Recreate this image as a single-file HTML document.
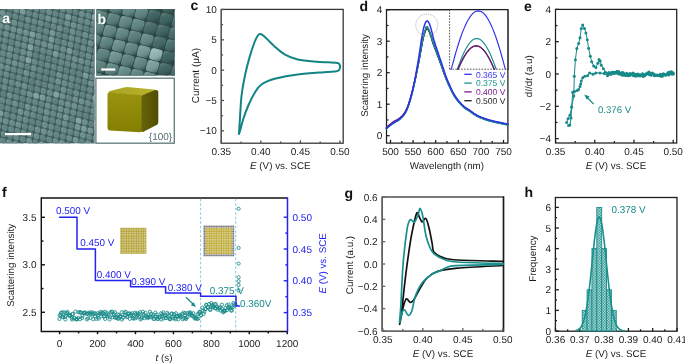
<!DOCTYPE html>
<html><head><meta charset="utf-8"><style>
html,body{margin:0;padding:0;background:#fff;width:685px;height:363px;overflow:hidden}
svg{display:block;text-rendering:geometricPrecision;will-change:transform}
text{font-family:"Liberation Sans", sans-serif}
</style></head><body>
<svg width="685" height="363" viewBox="0 0 685 363">
<rect width="685" height="363" fill="#fff"/>
<defs>
<linearGradient id="gTop" x1="0" y1="0" x2="1" y2="0"><stop offset="0" stop-color="#aaa322"/><stop offset="1" stop-color="#bab32c"/></linearGradient>
<linearGradient id="gFront" x1="0" y1="0" x2="0" y2="1"><stop offset="0" stop-color="#999310"/><stop offset="1" stop-color="#847f00"/></linearGradient>
<linearGradient id="gRight" x1="0" y1="0" x2="1" y2="0"><stop offset="0" stop-color="#68640a"/><stop offset="1" stop-color="#504d00"/></linearGradient>
<pattern id="hatch" width="1.6" height="1.6" patternUnits="userSpaceOnUse">
<rect width="1.6" height="1.6" fill="#1a8c8a"/>
<rect x="0" y="0" width="0.8" height="0.8" fill="#d2ecea"/>
<rect x="0.8" y="0.8" width="0.8" height="0.8" fill="#d2ecea"/>
</pattern>
<pattern id="gold" width="2.47" height="2.47" patternUnits="userSpaceOnUse" x="120.2" y="227.7">
<rect width="2.47" height="2.47" fill="#fbf8e8"/>
<circle cx="1.235" cy="1.235" r="1.18" fill="#a89628"/>
<circle cx="1.235" cy="1.235" r="0.7" fill="#c2ae3a"/>
</pattern>
<pattern id="gold2" width="2.42" height="2.42" patternUnits="userSpaceOnUse" x="203.3" y="225.4">
<rect width="2.42" height="2.42" fill="#fbf8e8"/>
<circle cx="1.21" cy="1.21" r="1.15" fill="#b4a02c"/>
<circle cx="1.21" cy="1.21" r="0.7" fill="#cdb83c"/>
</pattern>
<pattern id="grey2" width="2.42" height="2.42" patternUnits="userSpaceOnUse" x="203.3" y="225.4">
<rect width="2.42" height="2.42" fill="#f0f0f0"/>
<circle cx="1.21" cy="1.21" r="1.1" fill="#78787f"/>
</pattern>
<clipPath id="clipA"><rect x="0" y="9" width="94.7" height="134.5"/></clipPath>
<clipPath id="clipB"><rect x="96.2" y="9.1" width="78.6" height="66.6"/></clipPath>
<clipPath id="clipG"><rect x="0" y="0" width="512.5" height="363"/></clipPath>
<linearGradient id="tileShade" x1="0" y1="0" x2="1" y2="1"><stop offset="0" stop-color="#fff" stop-opacity="0.16"/><stop offset="0.5" stop-color="#fff" stop-opacity="0"/><stop offset="1" stop-color="#000" stop-opacity="0.18"/></linearGradient>
<linearGradient id="tileShadeB" x1="0" y1="0" x2="0.8" y2="1"><stop offset="0" stop-color="#fff" stop-opacity="0.22"/><stop offset="0.35" stop-color="#fff" stop-opacity="0.04"/><stop offset="0.75" stop-color="#000" stop-opacity="0.06"/><stop offset="1" stop-color="#000" stop-opacity="0.3"/></linearGradient>
<filter id="soft" x="-5%" y="-5%" width="110%" height="110%"><feGaussianBlur stdDeviation="0.45"/></filter>
</defs>
<g clip-path="url(#clipA)">
<rect x="0" y="9" width="94.7" height="134.5" fill="#3f5b5a"/>
<g filter="url(#soft)"><g transform="matrix(6.35 1.7 -1.0 6.45 0 9)">
<rect x="-2.94" y="-1.94" width="0.88" height="0.88" rx="0.3" fill="#648886"/>
<rect x="-2.94" y="-1.94" width="0.88" height="0.88" rx="0.3" fill="url(#tileShade)"/>
<rect x="-2.94" y="-0.94" width="0.88" height="0.88" rx="0.3" fill="#678b89"/>
<rect x="-2.94" y="-0.94" width="0.88" height="0.88" rx="0.3" fill="url(#tileShade)"/>
<rect x="-2.94" y="0.06" width="0.88" height="0.88" rx="0.3" fill="#668a88"/>
<rect x="-2.94" y="0.06" width="0.88" height="0.88" rx="0.3" fill="url(#tileShade)"/>
<rect x="-1.94" y="-1.94" width="0.88" height="0.88" rx="0.3" fill="#597d7b"/>
<rect x="-1.94" y="-1.94" width="0.88" height="0.88" rx="0.3" fill="url(#tileShade)"/>
<rect x="-1.94" y="-0.94" width="0.88" height="0.88" rx="0.3" fill="#698d8b"/>
<rect x="-1.94" y="-0.94" width="0.88" height="0.88" rx="0.3" fill="url(#tileShade)"/>
<rect x="-1.94" y="0.06" width="0.88" height="0.88" rx="0.3" fill="#698d8b"/>
<rect x="-1.94" y="0.06" width="0.88" height="0.88" rx="0.3" fill="url(#tileShade)"/>
<rect x="-1.94" y="1.06" width="0.88" height="0.88" rx="0.3" fill="#618583"/>
<rect x="-1.94" y="1.06" width="0.88" height="0.88" rx="0.3" fill="url(#tileShade)"/>
<rect x="-1.94" y="2.06" width="0.88" height="0.88" rx="0.3" fill="#628684"/>
<rect x="-1.94" y="2.06" width="0.88" height="0.88" rx="0.3" fill="url(#tileShade)"/>
<rect x="-1.94" y="3.06" width="0.88" height="0.88" rx="0.3" fill="#597d7b"/>
<rect x="-1.94" y="3.06" width="0.88" height="0.88" rx="0.3" fill="url(#tileShade)"/>
<rect x="-1.94" y="4.06" width="0.88" height="0.88" rx="0.3" fill="#5e8280"/>
<rect x="-1.94" y="4.06" width="0.88" height="0.88" rx="0.3" fill="url(#tileShade)"/>
<rect x="-1.94" y="5.06" width="0.88" height="0.88" rx="0.3" fill="#668a88"/>
<rect x="-1.94" y="5.06" width="0.88" height="0.88" rx="0.3" fill="url(#tileShade)"/>
<rect x="-1.94" y="6.06" width="0.88" height="0.88" rx="0.3" fill="#678b89"/>
<rect x="-1.94" y="6.06" width="0.88" height="0.88" rx="0.3" fill="url(#tileShade)"/>
<rect x="-1.94" y="7.06" width="0.88" height="0.88" rx="0.3" fill="#648886"/>
<rect x="-1.94" y="7.06" width="0.88" height="0.88" rx="0.3" fill="url(#tileShade)"/>
<rect x="-0.94" y="-1.94" width="0.88" height="0.88" rx="0.3" fill="#597d7b"/>
<rect x="-0.94" y="-1.94" width="0.88" height="0.88" rx="0.3" fill="url(#tileShade)"/>
<rect x="-0.94" y="-0.94" width="0.88" height="0.88" rx="0.3" fill="#5c807e"/>
<rect x="-0.94" y="-0.94" width="0.88" height="0.88" rx="0.3" fill="url(#tileShade)"/>
<rect x="-0.94" y="0.06" width="0.88" height="0.88" rx="0.3" fill="#6a8e8c"/>
<rect x="-0.94" y="0.06" width="0.88" height="0.88" rx="0.3" fill="url(#tileShade)"/>
<rect x="-0.94" y="1.06" width="0.88" height="0.88" rx="0.3" fill="#5e8280"/>
<rect x="-0.94" y="1.06" width="0.88" height="0.88" rx="0.3" fill="url(#tileShade)"/>
<rect x="-0.94" y="2.06" width="0.88" height="0.88" rx="0.3" fill="#628684"/>
<rect x="-0.94" y="2.06" width="0.88" height="0.88" rx="0.3" fill="url(#tileShade)"/>
<rect x="-0.94" y="3.06" width="0.88" height="0.88" rx="0.3" fill="#5c807e"/>
<rect x="-0.94" y="3.06" width="0.88" height="0.88" rx="0.3" fill="url(#tileShade)"/>
<rect x="-0.94" y="4.06" width="0.88" height="0.88" rx="0.3" fill="#658987"/>
<rect x="-0.94" y="4.06" width="0.88" height="0.88" rx="0.3" fill="url(#tileShade)"/>
<rect x="-0.94" y="5.06" width="0.88" height="0.88" rx="0.3" fill="#698d8b"/>
<rect x="-0.94" y="5.06" width="0.88" height="0.88" rx="0.3" fill="url(#tileShade)"/>
<rect x="-0.94" y="6.06" width="0.88" height="0.88" rx="0.3" fill="#5f8381"/>
<rect x="-0.94" y="6.06" width="0.88" height="0.88" rx="0.3" fill="url(#tileShade)"/>
<rect x="-0.94" y="7.06" width="0.88" height="0.88" rx="0.3" fill="#6c908e"/>
<rect x="-0.94" y="7.06" width="0.88" height="0.88" rx="0.3" fill="url(#tileShade)"/>
<rect x="-0.94" y="8.06" width="0.88" height="0.88" rx="0.3" fill="#7a9e9c"/>
<rect x="-0.94" y="8.06" width="0.88" height="0.88" rx="0.3" fill="url(#tileShade)"/>
<rect x="-0.94" y="9.06" width="0.88" height="0.88" rx="0.3" fill="#5f8381"/>
<rect x="-0.94" y="9.06" width="0.88" height="0.88" rx="0.3" fill="url(#tileShade)"/>
<rect x="-0.94" y="10.06" width="0.88" height="0.88" rx="0.3" fill="#678b89"/>
<rect x="-0.94" y="10.06" width="0.88" height="0.88" rx="0.3" fill="url(#tileShade)"/>
<rect x="-0.94" y="11.06" width="0.88" height="0.88" rx="0.3" fill="#5e8280"/>
<rect x="-0.94" y="11.06" width="0.88" height="0.88" rx="0.3" fill="url(#tileShade)"/>
<rect x="-0.94" y="12.06" width="0.88" height="0.88" rx="0.3" fill="#81a5a3"/>
<rect x="-0.94" y="12.06" width="0.88" height="0.88" rx="0.3" fill="url(#tileShade)"/>
<rect x="-0.94" y="13.06" width="0.88" height="0.88" rx="0.3" fill="#597d7b"/>
<rect x="-0.94" y="13.06" width="0.88" height="0.88" rx="0.3" fill="url(#tileShade)"/>
<rect x="0.06" y="-2.94" width="0.88" height="0.88" rx="0.3" fill="#80a4a2"/>
<rect x="0.06" y="-2.94" width="0.88" height="0.88" rx="0.3" fill="url(#tileShade)"/>
<rect x="0.06" y="-1.94" width="0.88" height="0.88" rx="0.3" fill="#5f8381"/>
<rect x="0.06" y="-1.94" width="0.88" height="0.88" rx="0.3" fill="url(#tileShade)"/>
<rect x="0.06" y="-0.94" width="0.88" height="0.88" rx="0.3" fill="#688c8a"/>
<rect x="0.06" y="-0.94" width="0.88" height="0.88" rx="0.3" fill="url(#tileShade)"/>
<rect x="0.06" y="0.06" width="0.88" height="0.88" rx="0.3" fill="#6a8e8c"/>
<rect x="0.06" y="0.06" width="0.88" height="0.88" rx="0.3" fill="url(#tileShade)"/>
<rect x="0.06" y="1.06" width="0.88" height="0.88" rx="0.3" fill="#668a88"/>
<rect x="0.06" y="1.06" width="0.88" height="0.88" rx="0.3" fill="url(#tileShade)"/>
<rect x="0.06" y="2.06" width="0.88" height="0.88" rx="0.3" fill="#698d8b"/>
<rect x="0.06" y="2.06" width="0.88" height="0.88" rx="0.3" fill="url(#tileShade)"/>
<rect x="0.06" y="3.06" width="0.88" height="0.88" rx="0.3" fill="#5f8381"/>
<rect x="0.06" y="3.06" width="0.88" height="0.88" rx="0.3" fill="url(#tileShade)"/>
<rect x="0.06" y="4.06" width="0.88" height="0.88" rx="0.3" fill="#668a88"/>
<rect x="0.06" y="4.06" width="0.88" height="0.88" rx="0.3" fill="url(#tileShade)"/>
<rect x="0.06" y="5.06" width="0.88" height="0.88" rx="0.3" fill="#668a88"/>
<rect x="0.06" y="5.06" width="0.88" height="0.88" rx="0.3" fill="url(#tileShade)"/>
<rect x="0.06" y="6.06" width="0.88" height="0.88" rx="0.3" fill="#83a7a5"/>
<rect x="0.06" y="6.06" width="0.88" height="0.88" rx="0.3" fill="url(#tileShade)"/>
<rect x="0.06" y="7.06" width="0.88" height="0.88" rx="0.3" fill="#5a7e7c"/>
<rect x="0.06" y="7.06" width="0.88" height="0.88" rx="0.3" fill="url(#tileShade)"/>
<rect x="0.06" y="8.06" width="0.88" height="0.88" rx="0.3" fill="#638785"/>
<rect x="0.06" y="8.06" width="0.88" height="0.88" rx="0.3" fill="url(#tileShade)"/>
<rect x="0.06" y="9.06" width="0.88" height="0.88" rx="0.3" fill="#5f8381"/>
<rect x="0.06" y="9.06" width="0.88" height="0.88" rx="0.3" fill="url(#tileShade)"/>
<rect x="0.06" y="10.06" width="0.88" height="0.88" rx="0.3" fill="#628684"/>
<rect x="0.06" y="10.06" width="0.88" height="0.88" rx="0.3" fill="url(#tileShade)"/>
<rect x="0.06" y="11.06" width="0.88" height="0.88" rx="0.3" fill="#5e8280"/>
<rect x="0.06" y="11.06" width="0.88" height="0.88" rx="0.3" fill="url(#tileShade)"/>
<rect x="0.06" y="12.06" width="0.88" height="0.88" rx="0.3" fill="#5a7e7c"/>
<rect x="0.06" y="12.06" width="0.88" height="0.88" rx="0.3" fill="url(#tileShade)"/>
<rect x="0.06" y="13.06" width="0.88" height="0.88" rx="0.3" fill="#658987"/>
<rect x="0.06" y="13.06" width="0.88" height="0.88" rx="0.3" fill="url(#tileShade)"/>
<rect x="0.06" y="14.06" width="0.88" height="0.88" rx="0.3" fill="#779b99"/>
<rect x="0.06" y="14.06" width="0.88" height="0.88" rx="0.3" fill="url(#tileShade)"/>
<rect x="0.06" y="15.06" width="0.88" height="0.88" rx="0.3" fill="#628684"/>
<rect x="0.06" y="15.06" width="0.88" height="0.88" rx="0.3" fill="url(#tileShade)"/>
<rect x="0.06" y="16.06" width="0.88" height="0.88" rx="0.3" fill="#5d817f"/>
<rect x="0.06" y="16.06" width="0.88" height="0.88" rx="0.3" fill="url(#tileShade)"/>
<rect x="0.06" y="17.06" width="0.88" height="0.88" rx="0.3" fill="#678b89"/>
<rect x="0.06" y="17.06" width="0.88" height="0.88" rx="0.3" fill="url(#tileShade)"/>
<rect x="0.06" y="18.06" width="0.88" height="0.88" rx="0.3" fill="#7b9f9d"/>
<rect x="0.06" y="18.06" width="0.88" height="0.88" rx="0.3" fill="url(#tileShade)"/>
<rect x="0.06" y="19.06" width="0.88" height="0.88" rx="0.3" fill="#597d7b"/>
<rect x="0.06" y="19.06" width="0.88" height="0.88" rx="0.3" fill="url(#tileShade)"/>
<rect x="0.06" y="20.06" width="0.88" height="0.88" rx="0.3" fill="#688c8a"/>
<rect x="0.06" y="20.06" width="0.88" height="0.88" rx="0.3" fill="url(#tileShade)"/>
<rect x="1.06" y="-2.94" width="0.88" height="0.88" rx="0.3" fill="#668a88"/>
<rect x="1.06" y="-2.94" width="0.88" height="0.88" rx="0.3" fill="url(#tileShade)"/>
<rect x="1.06" y="-1.94" width="0.88" height="0.88" rx="0.3" fill="#648886"/>
<rect x="1.06" y="-1.94" width="0.88" height="0.88" rx="0.3" fill="url(#tileShade)"/>
<rect x="1.06" y="-0.94" width="0.88" height="0.88" rx="0.3" fill="#5a7e7c"/>
<rect x="1.06" y="-0.94" width="0.88" height="0.88" rx="0.3" fill="url(#tileShade)"/>
<rect x="1.06" y="0.06" width="0.88" height="0.88" rx="0.3" fill="#5b7f7d"/>
<rect x="1.06" y="0.06" width="0.88" height="0.88" rx="0.3" fill="url(#tileShade)"/>
<rect x="1.06" y="1.06" width="0.88" height="0.88" rx="0.3" fill="#5e8280"/>
<rect x="1.06" y="1.06" width="0.88" height="0.88" rx="0.3" fill="url(#tileShade)"/>
<rect x="1.06" y="2.06" width="0.88" height="0.88" rx="0.3" fill="#6a8e8c"/>
<rect x="1.06" y="2.06" width="0.88" height="0.88" rx="0.3" fill="url(#tileShade)"/>
<rect x="1.06" y="3.06" width="0.88" height="0.88" rx="0.3" fill="#6a8e8c"/>
<rect x="1.06" y="3.06" width="0.88" height="0.88" rx="0.3" fill="url(#tileShade)"/>
<rect x="1.06" y="4.06" width="0.88" height="0.88" rx="0.3" fill="#618583"/>
<rect x="1.06" y="4.06" width="0.88" height="0.88" rx="0.3" fill="url(#tileShade)"/>
<rect x="1.06" y="5.06" width="0.88" height="0.88" rx="0.3" fill="#618583"/>
<rect x="1.06" y="5.06" width="0.88" height="0.88" rx="0.3" fill="url(#tileShade)"/>
<rect x="1.06" y="6.06" width="0.88" height="0.88" rx="0.3" fill="#608482"/>
<rect x="1.06" y="6.06" width="0.88" height="0.88" rx="0.3" fill="url(#tileShade)"/>
<rect x="1.06" y="7.06" width="0.88" height="0.88" rx="0.3" fill="#5f8381"/>
<rect x="1.06" y="7.06" width="0.88" height="0.88" rx="0.3" fill="url(#tileShade)"/>
<rect x="1.06" y="8.06" width="0.88" height="0.88" rx="0.3" fill="#6a8e8c"/>
<rect x="1.06" y="8.06" width="0.88" height="0.88" rx="0.3" fill="url(#tileShade)"/>
<rect x="1.06" y="9.06" width="0.88" height="0.88" rx="0.3" fill="#618583"/>
<rect x="1.06" y="9.06" width="0.88" height="0.88" rx="0.3" fill="url(#tileShade)"/>
<rect x="1.06" y="10.06" width="0.88" height="0.88" rx="0.3" fill="#5a7e7c"/>
<rect x="1.06" y="10.06" width="0.88" height="0.88" rx="0.3" fill="url(#tileShade)"/>
<rect x="1.06" y="11.06" width="0.88" height="0.88" rx="0.3" fill="#678b89"/>
<rect x="1.06" y="11.06" width="0.88" height="0.88" rx="0.3" fill="url(#tileShade)"/>
<rect x="1.06" y="12.06" width="0.88" height="0.88" rx="0.3" fill="#5f8381"/>
<rect x="1.06" y="12.06" width="0.88" height="0.88" rx="0.3" fill="url(#tileShade)"/>
<rect x="1.06" y="13.06" width="0.88" height="0.88" rx="0.3" fill="#668a88"/>
<rect x="1.06" y="13.06" width="0.88" height="0.88" rx="0.3" fill="url(#tileShade)"/>
<rect x="1.06" y="14.06" width="0.88" height="0.88" rx="0.3" fill="#648886"/>
<rect x="1.06" y="14.06" width="0.88" height="0.88" rx="0.3" fill="url(#tileShade)"/>
<rect x="1.06" y="15.06" width="0.88" height="0.88" rx="0.3" fill="#5f8381"/>
<rect x="1.06" y="15.06" width="0.88" height="0.88" rx="0.3" fill="url(#tileShade)"/>
<rect x="1.06" y="16.06" width="0.88" height="0.88" rx="0.3" fill="#5e8280"/>
<rect x="1.06" y="16.06" width="0.88" height="0.88" rx="0.3" fill="url(#tileShade)"/>
<rect x="1.06" y="17.06" width="0.88" height="0.88" rx="0.3" fill="#668a88"/>
<rect x="1.06" y="17.06" width="0.88" height="0.88" rx="0.3" fill="url(#tileShade)"/>
<rect x="1.06" y="18.06" width="0.88" height="0.88" rx="0.3" fill="#5e8280"/>
<rect x="1.06" y="18.06" width="0.88" height="0.88" rx="0.3" fill="url(#tileShade)"/>
<rect x="1.06" y="19.06" width="0.88" height="0.88" rx="0.3" fill="#648886"/>
<rect x="1.06" y="19.06" width="0.88" height="0.88" rx="0.3" fill="url(#tileShade)"/>
<rect x="1.06" y="20.06" width="0.88" height="0.88" rx="0.3" fill="#597d7b"/>
<rect x="1.06" y="20.06" width="0.88" height="0.88" rx="0.3" fill="url(#tileShade)"/>
<rect x="1.06" y="21.06" width="0.88" height="0.88" rx="0.3" fill="#5d817f"/>
<rect x="1.06" y="21.06" width="0.88" height="0.88" rx="0.3" fill="url(#tileShade)"/>
<rect x="1.06" y="22.06" width="0.88" height="0.88" rx="0.3" fill="#618583"/>
<rect x="1.06" y="22.06" width="0.88" height="0.88" rx="0.3" fill="url(#tileShade)"/>
<rect x="2.06" y="-2.94" width="0.88" height="0.88" rx="0.3" fill="#648886"/>
<rect x="2.06" y="-2.94" width="0.88" height="0.88" rx="0.3" fill="url(#tileShade)"/>
<rect x="2.06" y="-1.94" width="0.88" height="0.88" rx="0.3" fill="#5f8381"/>
<rect x="2.06" y="-1.94" width="0.88" height="0.88" rx="0.3" fill="url(#tileShade)"/>
<rect x="2.06" y="-0.94" width="0.88" height="0.88" rx="0.3" fill="#668a88"/>
<rect x="2.06" y="-0.94" width="0.88" height="0.88" rx="0.3" fill="url(#tileShade)"/>
<rect x="2.06" y="0.06" width="0.88" height="0.88" rx="0.3" fill="#5f8381"/>
<rect x="2.06" y="0.06" width="0.88" height="0.88" rx="0.3" fill="url(#tileShade)"/>
<rect x="2.06" y="1.06" width="0.88" height="0.88" rx="0.3" fill="#688c8a"/>
<rect x="2.06" y="1.06" width="0.88" height="0.88" rx="0.3" fill="url(#tileShade)"/>
<rect x="2.06" y="2.06" width="0.88" height="0.88" rx="0.3" fill="#6a8e8c"/>
<rect x="2.06" y="2.06" width="0.88" height="0.88" rx="0.3" fill="url(#tileShade)"/>
<rect x="2.06" y="3.06" width="0.88" height="0.88" rx="0.3" fill="#628684"/>
<rect x="2.06" y="3.06" width="0.88" height="0.88" rx="0.3" fill="url(#tileShade)"/>
<rect x="2.06" y="4.06" width="0.88" height="0.88" rx="0.3" fill="#5b7f7d"/>
<rect x="2.06" y="4.06" width="0.88" height="0.88" rx="0.3" fill="url(#tileShade)"/>
<rect x="2.06" y="5.06" width="0.88" height="0.88" rx="0.3" fill="#698d8b"/>
<rect x="2.06" y="5.06" width="0.88" height="0.88" rx="0.3" fill="url(#tileShade)"/>
<rect x="2.06" y="6.06" width="0.88" height="0.88" rx="0.3" fill="#658987"/>
<rect x="2.06" y="6.06" width="0.88" height="0.88" rx="0.3" fill="url(#tileShade)"/>
<rect x="2.06" y="7.06" width="0.88" height="0.88" rx="0.3" fill="#668a88"/>
<rect x="2.06" y="7.06" width="0.88" height="0.88" rx="0.3" fill="url(#tileShade)"/>
<rect x="2.06" y="8.06" width="0.88" height="0.88" rx="0.3" fill="#678b89"/>
<rect x="2.06" y="8.06" width="0.88" height="0.88" rx="0.3" fill="url(#tileShade)"/>
<rect x="2.06" y="9.06" width="0.88" height="0.88" rx="0.3" fill="#648886"/>
<rect x="2.06" y="9.06" width="0.88" height="0.88" rx="0.3" fill="url(#tileShade)"/>
<rect x="2.06" y="10.06" width="0.88" height="0.88" rx="0.3" fill="#648886"/>
<rect x="2.06" y="10.06" width="0.88" height="0.88" rx="0.3" fill="url(#tileShade)"/>
<rect x="2.06" y="11.06" width="0.88" height="0.88" rx="0.3" fill="#648886"/>
<rect x="2.06" y="11.06" width="0.88" height="0.88" rx="0.3" fill="url(#tileShade)"/>
<rect x="2.06" y="12.06" width="0.88" height="0.88" rx="0.3" fill="#597d7b"/>
<rect x="2.06" y="12.06" width="0.88" height="0.88" rx="0.3" fill="url(#tileShade)"/>
<rect x="2.06" y="13.06" width="0.88" height="0.88" rx="0.3" fill="#608482"/>
<rect x="2.06" y="13.06" width="0.88" height="0.88" rx="0.3" fill="url(#tileShade)"/>
<rect x="2.06" y="14.06" width="0.88" height="0.88" rx="0.3" fill="#5c807e"/>
<rect x="2.06" y="14.06" width="0.88" height="0.88" rx="0.3" fill="url(#tileShade)"/>
<rect x="2.06" y="15.06" width="0.88" height="0.88" rx="0.3" fill="#779b99"/>
<rect x="2.06" y="15.06" width="0.88" height="0.88" rx="0.3" fill="url(#tileShade)"/>
<rect x="2.06" y="16.06" width="0.88" height="0.88" rx="0.3" fill="#6b8f8d"/>
<rect x="2.06" y="16.06" width="0.88" height="0.88" rx="0.3" fill="url(#tileShade)"/>
<rect x="2.06" y="17.06" width="0.88" height="0.88" rx="0.3" fill="#5e8280"/>
<rect x="2.06" y="17.06" width="0.88" height="0.88" rx="0.3" fill="url(#tileShade)"/>
<rect x="2.06" y="18.06" width="0.88" height="0.88" rx="0.3" fill="#6f9391"/>
<rect x="2.06" y="18.06" width="0.88" height="0.88" rx="0.3" fill="url(#tileShade)"/>
<rect x="2.06" y="19.06" width="0.88" height="0.88" rx="0.3" fill="#5f8381"/>
<rect x="2.06" y="19.06" width="0.88" height="0.88" rx="0.3" fill="url(#tileShade)"/>
<rect x="2.06" y="20.06" width="0.88" height="0.88" rx="0.3" fill="#638785"/>
<rect x="2.06" y="20.06" width="0.88" height="0.88" rx="0.3" fill="url(#tileShade)"/>
<rect x="2.06" y="21.06" width="0.88" height="0.88" rx="0.3" fill="#7b9f9d"/>
<rect x="2.06" y="21.06" width="0.88" height="0.88" rx="0.3" fill="url(#tileShade)"/>
<rect x="3.06" y="-2.94" width="0.88" height="0.88" rx="0.3" fill="#5e8280"/>
<rect x="3.06" y="-2.94" width="0.88" height="0.88" rx="0.3" fill="url(#tileShade)"/>
<rect x="3.06" y="-1.94" width="0.88" height="0.88" rx="0.3" fill="#5b7f7d"/>
<rect x="3.06" y="-1.94" width="0.88" height="0.88" rx="0.3" fill="url(#tileShade)"/>
<rect x="3.06" y="-0.94" width="0.88" height="0.88" rx="0.3" fill="#759997"/>
<rect x="3.06" y="-0.94" width="0.88" height="0.88" rx="0.3" fill="url(#tileShade)"/>
<rect x="3.06" y="0.06" width="0.88" height="0.88" rx="0.3" fill="#5a7e7c"/>
<rect x="3.06" y="0.06" width="0.88" height="0.88" rx="0.3" fill="url(#tileShade)"/>
<rect x="3.06" y="1.06" width="0.88" height="0.88" rx="0.3" fill="#5f8381"/>
<rect x="3.06" y="1.06" width="0.88" height="0.88" rx="0.3" fill="url(#tileShade)"/>
<rect x="3.06" y="2.06" width="0.88" height="0.88" rx="0.3" fill="#6a8e8c"/>
<rect x="3.06" y="2.06" width="0.88" height="0.88" rx="0.3" fill="url(#tileShade)"/>
<rect x="3.06" y="3.06" width="0.88" height="0.88" rx="0.3" fill="#608482"/>
<rect x="3.06" y="3.06" width="0.88" height="0.88" rx="0.3" fill="url(#tileShade)"/>
<rect x="3.06" y="4.06" width="0.88" height="0.88" rx="0.3" fill="#648886"/>
<rect x="3.06" y="4.06" width="0.88" height="0.88" rx="0.3" fill="url(#tileShade)"/>
<rect x="3.06" y="5.06" width="0.88" height="0.88" rx="0.3" fill="#5b7f7d"/>
<rect x="3.06" y="5.06" width="0.88" height="0.88" rx="0.3" fill="url(#tileShade)"/>
<rect x="3.06" y="6.06" width="0.88" height="0.88" rx="0.3" fill="#638785"/>
<rect x="3.06" y="6.06" width="0.88" height="0.88" rx="0.3" fill="url(#tileShade)"/>
<rect x="3.06" y="7.06" width="0.88" height="0.88" rx="0.3" fill="#6a8e8c"/>
<rect x="3.06" y="7.06" width="0.88" height="0.88" rx="0.3" fill="url(#tileShade)"/>
<rect x="3.06" y="8.06" width="0.88" height="0.88" rx="0.3" fill="#5f8381"/>
<rect x="3.06" y="8.06" width="0.88" height="0.88" rx="0.3" fill="url(#tileShade)"/>
<rect x="3.06" y="9.06" width="0.88" height="0.88" rx="0.3" fill="#597d7b"/>
<rect x="3.06" y="9.06" width="0.88" height="0.88" rx="0.3" fill="url(#tileShade)"/>
<rect x="3.06" y="10.06" width="0.88" height="0.88" rx="0.3" fill="#638785"/>
<rect x="3.06" y="10.06" width="0.88" height="0.88" rx="0.3" fill="url(#tileShade)"/>
<rect x="3.06" y="11.06" width="0.88" height="0.88" rx="0.3" fill="#5b7f7d"/>
<rect x="3.06" y="11.06" width="0.88" height="0.88" rx="0.3" fill="url(#tileShade)"/>
<rect x="3.06" y="12.06" width="0.88" height="0.88" rx="0.3" fill="#698d8b"/>
<rect x="3.06" y="12.06" width="0.88" height="0.88" rx="0.3" fill="url(#tileShade)"/>
<rect x="3.06" y="13.06" width="0.88" height="0.88" rx="0.3" fill="#608482"/>
<rect x="3.06" y="13.06" width="0.88" height="0.88" rx="0.3" fill="url(#tileShade)"/>
<rect x="3.06" y="14.06" width="0.88" height="0.88" rx="0.3" fill="#5e8280"/>
<rect x="3.06" y="14.06" width="0.88" height="0.88" rx="0.3" fill="url(#tileShade)"/>
<rect x="3.06" y="15.06" width="0.88" height="0.88" rx="0.3" fill="#5f8381"/>
<rect x="3.06" y="15.06" width="0.88" height="0.88" rx="0.3" fill="url(#tileShade)"/>
<rect x="3.06" y="16.06" width="0.88" height="0.88" rx="0.3" fill="#698d8b"/>
<rect x="3.06" y="16.06" width="0.88" height="0.88" rx="0.3" fill="url(#tileShade)"/>
<rect x="3.06" y="17.06" width="0.88" height="0.88" rx="0.3" fill="#5d817f"/>
<rect x="3.06" y="17.06" width="0.88" height="0.88" rx="0.3" fill="url(#tileShade)"/>
<rect x="3.06" y="18.06" width="0.88" height="0.88" rx="0.3" fill="#618583"/>
<rect x="3.06" y="18.06" width="0.88" height="0.88" rx="0.3" fill="url(#tileShade)"/>
<rect x="3.06" y="19.06" width="0.88" height="0.88" rx="0.3" fill="#5e8280"/>
<rect x="3.06" y="19.06" width="0.88" height="0.88" rx="0.3" fill="url(#tileShade)"/>
<rect x="3.06" y="20.06" width="0.88" height="0.88" rx="0.3" fill="#618583"/>
<rect x="3.06" y="20.06" width="0.88" height="0.88" rx="0.3" fill="url(#tileShade)"/>
<rect x="3.06" y="21.06" width="0.88" height="0.88" rx="0.3" fill="#618583"/>
<rect x="3.06" y="21.06" width="0.88" height="0.88" rx="0.3" fill="url(#tileShade)"/>
<rect x="4.06" y="-3.94" width="0.88" height="0.88" rx="0.3" fill="#648886"/>
<rect x="4.06" y="-3.94" width="0.88" height="0.88" rx="0.3" fill="url(#tileShade)"/>
<rect x="4.06" y="-2.94" width="0.88" height="0.88" rx="0.3" fill="#5e8280"/>
<rect x="4.06" y="-2.94" width="0.88" height="0.88" rx="0.3" fill="url(#tileShade)"/>
<rect x="4.06" y="-1.94" width="0.88" height="0.88" rx="0.3" fill="#7ca09e"/>
<rect x="4.06" y="-1.94" width="0.88" height="0.88" rx="0.3" fill="url(#tileShade)"/>
<rect x="4.06" y="-0.94" width="0.88" height="0.88" rx="0.3" fill="#5d817f"/>
<rect x="4.06" y="-0.94" width="0.88" height="0.88" rx="0.3" fill="url(#tileShade)"/>
<rect x="4.06" y="0.06" width="0.88" height="0.88" rx="0.3" fill="#678b89"/>
<rect x="4.06" y="0.06" width="0.88" height="0.88" rx="0.3" fill="url(#tileShade)"/>
<rect x="4.06" y="1.06" width="0.88" height="0.88" rx="0.3" fill="#5d817f"/>
<rect x="4.06" y="1.06" width="0.88" height="0.88" rx="0.3" fill="url(#tileShade)"/>
<rect x="4.06" y="2.06" width="0.88" height="0.88" rx="0.3" fill="#6a8e8c"/>
<rect x="4.06" y="2.06" width="0.88" height="0.88" rx="0.3" fill="url(#tileShade)"/>
<rect x="4.06" y="3.06" width="0.88" height="0.88" rx="0.3" fill="#638785"/>
<rect x="4.06" y="3.06" width="0.88" height="0.88" rx="0.3" fill="url(#tileShade)"/>
<rect x="4.06" y="4.06" width="0.88" height="0.88" rx="0.3" fill="#648886"/>
<rect x="4.06" y="4.06" width="0.88" height="0.88" rx="0.3" fill="url(#tileShade)"/>
<rect x="4.06" y="5.06" width="0.88" height="0.88" rx="0.3" fill="#668a88"/>
<rect x="4.06" y="5.06" width="0.88" height="0.88" rx="0.3" fill="url(#tileShade)"/>
<rect x="4.06" y="6.06" width="0.88" height="0.88" rx="0.3" fill="#668a88"/>
<rect x="4.06" y="6.06" width="0.88" height="0.88" rx="0.3" fill="url(#tileShade)"/>
<rect x="4.06" y="7.06" width="0.88" height="0.88" rx="0.3" fill="#628684"/>
<rect x="4.06" y="7.06" width="0.88" height="0.88" rx="0.3" fill="url(#tileShade)"/>
<rect x="4.06" y="8.06" width="0.88" height="0.88" rx="0.3" fill="#5e8280"/>
<rect x="4.06" y="8.06" width="0.88" height="0.88" rx="0.3" fill="url(#tileShade)"/>
<rect x="4.06" y="9.06" width="0.88" height="0.88" rx="0.3" fill="#618583"/>
<rect x="4.06" y="9.06" width="0.88" height="0.88" rx="0.3" fill="url(#tileShade)"/>
<rect x="4.06" y="10.06" width="0.88" height="0.88" rx="0.3" fill="#668a88"/>
<rect x="4.06" y="10.06" width="0.88" height="0.88" rx="0.3" fill="url(#tileShade)"/>
<rect x="4.06" y="11.06" width="0.88" height="0.88" rx="0.3" fill="#597d7b"/>
<rect x="4.06" y="11.06" width="0.88" height="0.88" rx="0.3" fill="url(#tileShade)"/>
<rect x="4.06" y="12.06" width="0.88" height="0.88" rx="0.3" fill="#618583"/>
<rect x="4.06" y="12.06" width="0.88" height="0.88" rx="0.3" fill="url(#tileShade)"/>
<rect x="4.06" y="13.06" width="0.88" height="0.88" rx="0.3" fill="#688c8a"/>
<rect x="4.06" y="13.06" width="0.88" height="0.88" rx="0.3" fill="url(#tileShade)"/>
<rect x="4.06" y="14.06" width="0.88" height="0.88" rx="0.3" fill="#597d7b"/>
<rect x="4.06" y="14.06" width="0.88" height="0.88" rx="0.3" fill="url(#tileShade)"/>
<rect x="4.06" y="15.06" width="0.88" height="0.88" rx="0.3" fill="#608482"/>
<rect x="4.06" y="15.06" width="0.88" height="0.88" rx="0.3" fill="url(#tileShade)"/>
<rect x="4.06" y="16.06" width="0.88" height="0.88" rx="0.3" fill="#658987"/>
<rect x="4.06" y="16.06" width="0.88" height="0.88" rx="0.3" fill="url(#tileShade)"/>
<rect x="4.06" y="17.06" width="0.88" height="0.88" rx="0.3" fill="#618583"/>
<rect x="4.06" y="17.06" width="0.88" height="0.88" rx="0.3" fill="url(#tileShade)"/>
<rect x="4.06" y="18.06" width="0.88" height="0.88" rx="0.3" fill="#5f8381"/>
<rect x="4.06" y="18.06" width="0.88" height="0.88" rx="0.3" fill="url(#tileShade)"/>
<rect x="4.06" y="19.06" width="0.88" height="0.88" rx="0.3" fill="#688c8a"/>
<rect x="4.06" y="19.06" width="0.88" height="0.88" rx="0.3" fill="url(#tileShade)"/>
<rect x="4.06" y="20.06" width="0.88" height="0.88" rx="0.3" fill="#5e8280"/>
<rect x="4.06" y="20.06" width="0.88" height="0.88" rx="0.3" fill="url(#tileShade)"/>
<rect x="4.06" y="21.06" width="0.88" height="0.88" rx="0.3" fill="#5a7e7c"/>
<rect x="4.06" y="21.06" width="0.88" height="0.88" rx="0.3" fill="url(#tileShade)"/>
<rect x="5.06" y="-3.94" width="0.88" height="0.88" rx="0.3" fill="#658987"/>
<rect x="5.06" y="-3.94" width="0.88" height="0.88" rx="0.3" fill="url(#tileShade)"/>
<rect x="5.06" y="-2.94" width="0.88" height="0.88" rx="0.3" fill="#5e8280"/>
<rect x="5.06" y="-2.94" width="0.88" height="0.88" rx="0.3" fill="url(#tileShade)"/>
<rect x="5.06" y="-1.94" width="0.88" height="0.88" rx="0.3" fill="#698d8b"/>
<rect x="5.06" y="-1.94" width="0.88" height="0.88" rx="0.3" fill="url(#tileShade)"/>
<rect x="5.06" y="-0.94" width="0.88" height="0.88" rx="0.3" fill="#618583"/>
<rect x="5.06" y="-0.94" width="0.88" height="0.88" rx="0.3" fill="url(#tileShade)"/>
<rect x="5.06" y="0.06" width="0.88" height="0.88" rx="0.3" fill="#618583"/>
<rect x="5.06" y="0.06" width="0.88" height="0.88" rx="0.3" fill="url(#tileShade)"/>
<rect x="5.06" y="1.06" width="0.88" height="0.88" rx="0.3" fill="#5b7f7d"/>
<rect x="5.06" y="1.06" width="0.88" height="0.88" rx="0.3" fill="url(#tileShade)"/>
<rect x="5.06" y="2.06" width="0.88" height="0.88" rx="0.3" fill="#779b99"/>
<rect x="5.06" y="2.06" width="0.88" height="0.88" rx="0.3" fill="url(#tileShade)"/>
<rect x="5.06" y="3.06" width="0.88" height="0.88" rx="0.3" fill="#678b89"/>
<rect x="5.06" y="3.06" width="0.88" height="0.88" rx="0.3" fill="url(#tileShade)"/>
<rect x="5.06" y="4.06" width="0.88" height="0.88" rx="0.3" fill="#7ca09e"/>
<rect x="5.06" y="4.06" width="0.88" height="0.88" rx="0.3" fill="url(#tileShade)"/>
<rect x="5.06" y="5.06" width="0.88" height="0.88" rx="0.3" fill="#6a8e8c"/>
<rect x="5.06" y="5.06" width="0.88" height="0.88" rx="0.3" fill="url(#tileShade)"/>
<rect x="5.06" y="6.06" width="0.88" height="0.88" rx="0.3" fill="#7fa3a1"/>
<rect x="5.06" y="6.06" width="0.88" height="0.88" rx="0.3" fill="url(#tileShade)"/>
<rect x="5.06" y="7.06" width="0.88" height="0.88" rx="0.3" fill="#5c807e"/>
<rect x="5.06" y="7.06" width="0.88" height="0.88" rx="0.3" fill="url(#tileShade)"/>
<rect x="5.06" y="8.06" width="0.88" height="0.88" rx="0.3" fill="#6a8e8c"/>
<rect x="5.06" y="8.06" width="0.88" height="0.88" rx="0.3" fill="url(#tileShade)"/>
<rect x="5.06" y="9.06" width="0.88" height="0.88" rx="0.3" fill="#5b7f7d"/>
<rect x="5.06" y="9.06" width="0.88" height="0.88" rx="0.3" fill="url(#tileShade)"/>
<rect x="5.06" y="10.06" width="0.88" height="0.88" rx="0.3" fill="#698d8b"/>
<rect x="5.06" y="10.06" width="0.88" height="0.88" rx="0.3" fill="url(#tileShade)"/>
<rect x="5.06" y="11.06" width="0.88" height="0.88" rx="0.3" fill="#638785"/>
<rect x="5.06" y="11.06" width="0.88" height="0.88" rx="0.3" fill="url(#tileShade)"/>
<rect x="5.06" y="12.06" width="0.88" height="0.88" rx="0.3" fill="#5b7f7d"/>
<rect x="5.06" y="12.06" width="0.88" height="0.88" rx="0.3" fill="url(#tileShade)"/>
<rect x="5.06" y="13.06" width="0.88" height="0.88" rx="0.3" fill="#597d7b"/>
<rect x="5.06" y="13.06" width="0.88" height="0.88" rx="0.3" fill="url(#tileShade)"/>
<rect x="5.06" y="14.06" width="0.88" height="0.88" rx="0.3" fill="#6c908e"/>
<rect x="5.06" y="14.06" width="0.88" height="0.88" rx="0.3" fill="url(#tileShade)"/>
<rect x="5.06" y="15.06" width="0.88" height="0.88" rx="0.3" fill="#638785"/>
<rect x="5.06" y="15.06" width="0.88" height="0.88" rx="0.3" fill="url(#tileShade)"/>
<rect x="5.06" y="16.06" width="0.88" height="0.88" rx="0.3" fill="#688c8a"/>
<rect x="5.06" y="16.06" width="0.88" height="0.88" rx="0.3" fill="url(#tileShade)"/>
<rect x="5.06" y="17.06" width="0.88" height="0.88" rx="0.3" fill="#608482"/>
<rect x="5.06" y="17.06" width="0.88" height="0.88" rx="0.3" fill="url(#tileShade)"/>
<rect x="5.06" y="18.06" width="0.88" height="0.88" rx="0.3" fill="#638785"/>
<rect x="5.06" y="18.06" width="0.88" height="0.88" rx="0.3" fill="url(#tileShade)"/>
<rect x="5.06" y="19.06" width="0.88" height="0.88" rx="0.3" fill="#698d8b"/>
<rect x="5.06" y="19.06" width="0.88" height="0.88" rx="0.3" fill="url(#tileShade)"/>
<rect x="5.06" y="20.06" width="0.88" height="0.88" rx="0.3" fill="#5a7e7c"/>
<rect x="5.06" y="20.06" width="0.88" height="0.88" rx="0.3" fill="url(#tileShade)"/>
<rect x="5.06" y="21.06" width="0.88" height="0.88" rx="0.3" fill="#5b7f7d"/>
<rect x="5.06" y="21.06" width="0.88" height="0.88" rx="0.3" fill="url(#tileShade)"/>
<rect x="6.06" y="-3.94" width="0.88" height="0.88" rx="0.3" fill="#628684"/>
<rect x="6.06" y="-3.94" width="0.88" height="0.88" rx="0.3" fill="url(#tileShade)"/>
<rect x="6.06" y="-2.94" width="0.88" height="0.88" rx="0.3" fill="#628684"/>
<rect x="6.06" y="-2.94" width="0.88" height="0.88" rx="0.3" fill="url(#tileShade)"/>
<rect x="6.06" y="-1.94" width="0.88" height="0.88" rx="0.3" fill="#5d817f"/>
<rect x="6.06" y="-1.94" width="0.88" height="0.88" rx="0.3" fill="url(#tileShade)"/>
<rect x="6.06" y="-0.94" width="0.88" height="0.88" rx="0.3" fill="#5d817f"/>
<rect x="6.06" y="-0.94" width="0.88" height="0.88" rx="0.3" fill="url(#tileShade)"/>
<rect x="6.06" y="0.06" width="0.88" height="0.88" rx="0.3" fill="#628684"/>
<rect x="6.06" y="0.06" width="0.88" height="0.88" rx="0.3" fill="url(#tileShade)"/>
<rect x="6.06" y="1.06" width="0.88" height="0.88" rx="0.3" fill="#5d817f"/>
<rect x="6.06" y="1.06" width="0.88" height="0.88" rx="0.3" fill="url(#tileShade)"/>
<rect x="6.06" y="2.06" width="0.88" height="0.88" rx="0.3" fill="#668a88"/>
<rect x="6.06" y="2.06" width="0.88" height="0.88" rx="0.3" fill="url(#tileShade)"/>
<rect x="6.06" y="3.06" width="0.88" height="0.88" rx="0.3" fill="#658987"/>
<rect x="6.06" y="3.06" width="0.88" height="0.88" rx="0.3" fill="url(#tileShade)"/>
<rect x="6.06" y="4.06" width="0.88" height="0.88" rx="0.3" fill="#5a7e7c"/>
<rect x="6.06" y="4.06" width="0.88" height="0.88" rx="0.3" fill="url(#tileShade)"/>
<rect x="6.06" y="5.06" width="0.88" height="0.88" rx="0.3" fill="#5a7e7c"/>
<rect x="6.06" y="5.06" width="0.88" height="0.88" rx="0.3" fill="url(#tileShade)"/>
<rect x="6.06" y="6.06" width="0.88" height="0.88" rx="0.3" fill="#638785"/>
<rect x="6.06" y="6.06" width="0.88" height="0.88" rx="0.3" fill="url(#tileShade)"/>
<rect x="6.06" y="7.06" width="0.88" height="0.88" rx="0.3" fill="#688c8a"/>
<rect x="6.06" y="7.06" width="0.88" height="0.88" rx="0.3" fill="url(#tileShade)"/>
<rect x="6.06" y="8.06" width="0.88" height="0.88" rx="0.3" fill="#5e8280"/>
<rect x="6.06" y="8.06" width="0.88" height="0.88" rx="0.3" fill="url(#tileShade)"/>
<rect x="6.06" y="9.06" width="0.88" height="0.88" rx="0.3" fill="#597d7b"/>
<rect x="6.06" y="9.06" width="0.88" height="0.88" rx="0.3" fill="url(#tileShade)"/>
<rect x="6.06" y="10.06" width="0.88" height="0.88" rx="0.3" fill="#597d7b"/>
<rect x="6.06" y="10.06" width="0.88" height="0.88" rx="0.3" fill="url(#tileShade)"/>
<rect x="6.06" y="11.06" width="0.88" height="0.88" rx="0.3" fill="#6a8e8c"/>
<rect x="6.06" y="11.06" width="0.88" height="0.88" rx="0.3" fill="url(#tileShade)"/>
<rect x="6.06" y="12.06" width="0.88" height="0.88" rx="0.3" fill="#5d817f"/>
<rect x="6.06" y="12.06" width="0.88" height="0.88" rx="0.3" fill="url(#tileShade)"/>
<rect x="6.06" y="13.06" width="0.88" height="0.88" rx="0.3" fill="#6a8e8c"/>
<rect x="6.06" y="13.06" width="0.88" height="0.88" rx="0.3" fill="url(#tileShade)"/>
<rect x="6.06" y="14.06" width="0.88" height="0.88" rx="0.3" fill="#678b89"/>
<rect x="6.06" y="14.06" width="0.88" height="0.88" rx="0.3" fill="url(#tileShade)"/>
<rect x="6.06" y="15.06" width="0.88" height="0.88" rx="0.3" fill="#648886"/>
<rect x="6.06" y="15.06" width="0.88" height="0.88" rx="0.3" fill="url(#tileShade)"/>
<rect x="6.06" y="16.06" width="0.88" height="0.88" rx="0.3" fill="#5d817f"/>
<rect x="6.06" y="16.06" width="0.88" height="0.88" rx="0.3" fill="url(#tileShade)"/>
<rect x="6.06" y="17.06" width="0.88" height="0.88" rx="0.3" fill="#648886"/>
<rect x="6.06" y="17.06" width="0.88" height="0.88" rx="0.3" fill="url(#tileShade)"/>
<rect x="6.06" y="18.06" width="0.88" height="0.88" rx="0.3" fill="#5f8381"/>
<rect x="6.06" y="18.06" width="0.88" height="0.88" rx="0.3" fill="url(#tileShade)"/>
<rect x="6.06" y="19.06" width="0.88" height="0.88" rx="0.3" fill="#678b89"/>
<rect x="6.06" y="19.06" width="0.88" height="0.88" rx="0.3" fill="url(#tileShade)"/>
<rect x="6.06" y="20.06" width="0.88" height="0.88" rx="0.3" fill="#678b89"/>
<rect x="6.06" y="20.06" width="0.88" height="0.88" rx="0.3" fill="url(#tileShade)"/>
<rect x="7.06" y="-3.94" width="0.88" height="0.88" rx="0.3" fill="#688c8a"/>
<rect x="7.06" y="-3.94" width="0.88" height="0.88" rx="0.3" fill="url(#tileShade)"/>
<rect x="7.06" y="-2.94" width="0.88" height="0.88" rx="0.3" fill="#638785"/>
<rect x="7.06" y="-2.94" width="0.88" height="0.88" rx="0.3" fill="url(#tileShade)"/>
<rect x="7.06" y="-1.94" width="0.88" height="0.88" rx="0.3" fill="#668a88"/>
<rect x="7.06" y="-1.94" width="0.88" height="0.88" rx="0.3" fill="url(#tileShade)"/>
<rect x="7.06" y="-0.94" width="0.88" height="0.88" rx="0.3" fill="#698d8b"/>
<rect x="7.06" y="-0.94" width="0.88" height="0.88" rx="0.3" fill="url(#tileShade)"/>
<rect x="7.06" y="0.06" width="0.88" height="0.88" rx="0.3" fill="#597d7b"/>
<rect x="7.06" y="0.06" width="0.88" height="0.88" rx="0.3" fill="url(#tileShade)"/>
<rect x="7.06" y="1.06" width="0.88" height="0.88" rx="0.3" fill="#618583"/>
<rect x="7.06" y="1.06" width="0.88" height="0.88" rx="0.3" fill="url(#tileShade)"/>
<rect x="7.06" y="2.06" width="0.88" height="0.88" rx="0.3" fill="#597d7b"/>
<rect x="7.06" y="2.06" width="0.88" height="0.88" rx="0.3" fill="url(#tileShade)"/>
<rect x="7.06" y="3.06" width="0.88" height="0.88" rx="0.3" fill="#698d8b"/>
<rect x="7.06" y="3.06" width="0.88" height="0.88" rx="0.3" fill="url(#tileShade)"/>
<rect x="7.06" y="4.06" width="0.88" height="0.88" rx="0.3" fill="#608482"/>
<rect x="7.06" y="4.06" width="0.88" height="0.88" rx="0.3" fill="url(#tileShade)"/>
<rect x="7.06" y="5.06" width="0.88" height="0.88" rx="0.3" fill="#5a7e7c"/>
<rect x="7.06" y="5.06" width="0.88" height="0.88" rx="0.3" fill="url(#tileShade)"/>
<rect x="7.06" y="6.06" width="0.88" height="0.88" rx="0.3" fill="#5b7f7d"/>
<rect x="7.06" y="6.06" width="0.88" height="0.88" rx="0.3" fill="url(#tileShade)"/>
<rect x="7.06" y="7.06" width="0.88" height="0.88" rx="0.3" fill="#5f8381"/>
<rect x="7.06" y="7.06" width="0.88" height="0.88" rx="0.3" fill="url(#tileShade)"/>
<rect x="7.06" y="8.06" width="0.88" height="0.88" rx="0.3" fill="#5b7f7d"/>
<rect x="7.06" y="8.06" width="0.88" height="0.88" rx="0.3" fill="url(#tileShade)"/>
<rect x="7.06" y="9.06" width="0.88" height="0.88" rx="0.3" fill="#5d817f"/>
<rect x="7.06" y="9.06" width="0.88" height="0.88" rx="0.3" fill="url(#tileShade)"/>
<rect x="7.06" y="10.06" width="0.88" height="0.88" rx="0.3" fill="#5e8280"/>
<rect x="7.06" y="10.06" width="0.88" height="0.88" rx="0.3" fill="url(#tileShade)"/>
<rect x="7.06" y="11.06" width="0.88" height="0.88" rx="0.3" fill="#7ca09e"/>
<rect x="7.06" y="11.06" width="0.88" height="0.88" rx="0.3" fill="url(#tileShade)"/>
<rect x="7.06" y="12.06" width="0.88" height="0.88" rx="0.3" fill="#5f8381"/>
<rect x="7.06" y="12.06" width="0.88" height="0.88" rx="0.3" fill="url(#tileShade)"/>
<rect x="7.06" y="13.06" width="0.88" height="0.88" rx="0.3" fill="#658987"/>
<rect x="7.06" y="13.06" width="0.88" height="0.88" rx="0.3" fill="url(#tileShade)"/>
<rect x="7.06" y="14.06" width="0.88" height="0.88" rx="0.3" fill="#618583"/>
<rect x="7.06" y="14.06" width="0.88" height="0.88" rx="0.3" fill="url(#tileShade)"/>
<rect x="7.06" y="15.06" width="0.88" height="0.88" rx="0.3" fill="#5b7f7d"/>
<rect x="7.06" y="15.06" width="0.88" height="0.88" rx="0.3" fill="url(#tileShade)"/>
<rect x="7.06" y="16.06" width="0.88" height="0.88" rx="0.3" fill="#5e8280"/>
<rect x="7.06" y="16.06" width="0.88" height="0.88" rx="0.3" fill="url(#tileShade)"/>
<rect x="7.06" y="17.06" width="0.88" height="0.88" rx="0.3" fill="#668a88"/>
<rect x="7.06" y="17.06" width="0.88" height="0.88" rx="0.3" fill="url(#tileShade)"/>
<rect x="7.06" y="18.06" width="0.88" height="0.88" rx="0.3" fill="#6c908e"/>
<rect x="7.06" y="18.06" width="0.88" height="0.88" rx="0.3" fill="url(#tileShade)"/>
<rect x="7.06" y="19.06" width="0.88" height="0.88" rx="0.3" fill="#5a7e7c"/>
<rect x="7.06" y="19.06" width="0.88" height="0.88" rx="0.3" fill="url(#tileShade)"/>
<rect x="7.06" y="20.06" width="0.88" height="0.88" rx="0.3" fill="#6a8e8c"/>
<rect x="7.06" y="20.06" width="0.88" height="0.88" rx="0.3" fill="url(#tileShade)"/>
<rect x="8.06" y="-4.94" width="0.88" height="0.88" rx="0.3" fill="#5e8280"/>
<rect x="8.06" y="-4.94" width="0.88" height="0.88" rx="0.3" fill="url(#tileShade)"/>
<rect x="8.06" y="-3.94" width="0.88" height="0.88" rx="0.3" fill="#5e8280"/>
<rect x="8.06" y="-3.94" width="0.88" height="0.88" rx="0.3" fill="url(#tileShade)"/>
<rect x="8.06" y="-2.94" width="0.88" height="0.88" rx="0.3" fill="#658987"/>
<rect x="8.06" y="-2.94" width="0.88" height="0.88" rx="0.3" fill="url(#tileShade)"/>
<rect x="8.06" y="-1.94" width="0.88" height="0.88" rx="0.3" fill="#5d817f"/>
<rect x="8.06" y="-1.94" width="0.88" height="0.88" rx="0.3" fill="url(#tileShade)"/>
<rect x="8.06" y="-0.94" width="0.88" height="0.88" rx="0.3" fill="#698d8b"/>
<rect x="8.06" y="-0.94" width="0.88" height="0.88" rx="0.3" fill="url(#tileShade)"/>
<rect x="8.06" y="0.06" width="0.88" height="0.88" rx="0.3" fill="#608482"/>
<rect x="8.06" y="0.06" width="0.88" height="0.88" rx="0.3" fill="url(#tileShade)"/>
<rect x="8.06" y="1.06" width="0.88" height="0.88" rx="0.3" fill="#719593"/>
<rect x="8.06" y="1.06" width="0.88" height="0.88" rx="0.3" fill="url(#tileShade)"/>
<rect x="8.06" y="2.06" width="0.88" height="0.88" rx="0.3" fill="#759997"/>
<rect x="8.06" y="2.06" width="0.88" height="0.88" rx="0.3" fill="url(#tileShade)"/>
<rect x="8.06" y="3.06" width="0.88" height="0.88" rx="0.3" fill="#6a8e8c"/>
<rect x="8.06" y="3.06" width="0.88" height="0.88" rx="0.3" fill="url(#tileShade)"/>
<rect x="8.06" y="4.06" width="0.88" height="0.88" rx="0.3" fill="#5f8381"/>
<rect x="8.06" y="4.06" width="0.88" height="0.88" rx="0.3" fill="url(#tileShade)"/>
<rect x="8.06" y="5.06" width="0.88" height="0.88" rx="0.3" fill="#5a7e7c"/>
<rect x="8.06" y="5.06" width="0.88" height="0.88" rx="0.3" fill="url(#tileShade)"/>
<rect x="8.06" y="6.06" width="0.88" height="0.88" rx="0.3" fill="#618583"/>
<rect x="8.06" y="6.06" width="0.88" height="0.88" rx="0.3" fill="url(#tileShade)"/>
<rect x="8.06" y="7.06" width="0.88" height="0.88" rx="0.3" fill="#597d7b"/>
<rect x="8.06" y="7.06" width="0.88" height="0.88" rx="0.3" fill="url(#tileShade)"/>
<rect x="8.06" y="8.06" width="0.88" height="0.88" rx="0.3" fill="#597d7b"/>
<rect x="8.06" y="8.06" width="0.88" height="0.88" rx="0.3" fill="url(#tileShade)"/>
<rect x="8.06" y="9.06" width="0.88" height="0.88" rx="0.3" fill="#5a7e7c"/>
<rect x="8.06" y="9.06" width="0.88" height="0.88" rx="0.3" fill="url(#tileShade)"/>
<rect x="8.06" y="10.06" width="0.88" height="0.88" rx="0.3" fill="#608482"/>
<rect x="8.06" y="10.06" width="0.88" height="0.88" rx="0.3" fill="url(#tileShade)"/>
<rect x="8.06" y="11.06" width="0.88" height="0.88" rx="0.3" fill="#759997"/>
<rect x="8.06" y="11.06" width="0.88" height="0.88" rx="0.3" fill="url(#tileShade)"/>
<rect x="8.06" y="12.06" width="0.88" height="0.88" rx="0.3" fill="#5c807e"/>
<rect x="8.06" y="12.06" width="0.88" height="0.88" rx="0.3" fill="url(#tileShade)"/>
<rect x="8.06" y="13.06" width="0.88" height="0.88" rx="0.3" fill="#608482"/>
<rect x="8.06" y="13.06" width="0.88" height="0.88" rx="0.3" fill="url(#tileShade)"/>
<rect x="8.06" y="14.06" width="0.88" height="0.88" rx="0.3" fill="#5a7e7c"/>
<rect x="8.06" y="14.06" width="0.88" height="0.88" rx="0.3" fill="url(#tileShade)"/>
<rect x="8.06" y="15.06" width="0.88" height="0.88" rx="0.3" fill="#5a7e7c"/>
<rect x="8.06" y="15.06" width="0.88" height="0.88" rx="0.3" fill="url(#tileShade)"/>
<rect x="8.06" y="16.06" width="0.88" height="0.88" rx="0.3" fill="#698d8b"/>
<rect x="8.06" y="16.06" width="0.88" height="0.88" rx="0.3" fill="url(#tileShade)"/>
<rect x="8.06" y="17.06" width="0.88" height="0.88" rx="0.3" fill="#688c8a"/>
<rect x="8.06" y="17.06" width="0.88" height="0.88" rx="0.3" fill="url(#tileShade)"/>
<rect x="8.06" y="18.06" width="0.88" height="0.88" rx="0.3" fill="#597d7b"/>
<rect x="8.06" y="18.06" width="0.88" height="0.88" rx="0.3" fill="url(#tileShade)"/>
<rect x="8.06" y="19.06" width="0.88" height="0.88" rx="0.3" fill="#618583"/>
<rect x="8.06" y="19.06" width="0.88" height="0.88" rx="0.3" fill="url(#tileShade)"/>
<rect x="8.06" y="20.06" width="0.88" height="0.88" rx="0.3" fill="#5f8381"/>
<rect x="8.06" y="20.06" width="0.88" height="0.88" rx="0.3" fill="url(#tileShade)"/>
<rect x="9.06" y="-4.94" width="0.88" height="0.88" rx="0.3" fill="#668a88"/>
<rect x="9.06" y="-4.94" width="0.88" height="0.88" rx="0.3" fill="url(#tileShade)"/>
<rect x="9.06" y="-3.94" width="0.88" height="0.88" rx="0.3" fill="#5e8280"/>
<rect x="9.06" y="-3.94" width="0.88" height="0.88" rx="0.3" fill="url(#tileShade)"/>
<rect x="9.06" y="-2.94" width="0.88" height="0.88" rx="0.3" fill="#678b89"/>
<rect x="9.06" y="-2.94" width="0.88" height="0.88" rx="0.3" fill="url(#tileShade)"/>
<rect x="9.06" y="-1.94" width="0.88" height="0.88" rx="0.3" fill="#5b7f7d"/>
<rect x="9.06" y="-1.94" width="0.88" height="0.88" rx="0.3" fill="url(#tileShade)"/>
<rect x="9.06" y="-0.94" width="0.88" height="0.88" rx="0.3" fill="#5a7e7c"/>
<rect x="9.06" y="-0.94" width="0.88" height="0.88" rx="0.3" fill="url(#tileShade)"/>
<rect x="9.06" y="0.06" width="0.88" height="0.88" rx="0.3" fill="#678b89"/>
<rect x="9.06" y="0.06" width="0.88" height="0.88" rx="0.3" fill="url(#tileShade)"/>
<rect x="9.06" y="1.06" width="0.88" height="0.88" rx="0.3" fill="#5b7f7d"/>
<rect x="9.06" y="1.06" width="0.88" height="0.88" rx="0.3" fill="url(#tileShade)"/>
<rect x="9.06" y="2.06" width="0.88" height="0.88" rx="0.3" fill="#5d817f"/>
<rect x="9.06" y="2.06" width="0.88" height="0.88" rx="0.3" fill="url(#tileShade)"/>
<rect x="9.06" y="3.06" width="0.88" height="0.88" rx="0.3" fill="#608482"/>
<rect x="9.06" y="3.06" width="0.88" height="0.88" rx="0.3" fill="url(#tileShade)"/>
<rect x="9.06" y="4.06" width="0.88" height="0.88" rx="0.3" fill="#749896"/>
<rect x="9.06" y="4.06" width="0.88" height="0.88" rx="0.3" fill="url(#tileShade)"/>
<rect x="9.06" y="5.06" width="0.88" height="0.88" rx="0.3" fill="#597d7b"/>
<rect x="9.06" y="5.06" width="0.88" height="0.88" rx="0.3" fill="url(#tileShade)"/>
<rect x="9.06" y="6.06" width="0.88" height="0.88" rx="0.3" fill="#5e8280"/>
<rect x="9.06" y="6.06" width="0.88" height="0.88" rx="0.3" fill="url(#tileShade)"/>
<rect x="9.06" y="7.06" width="0.88" height="0.88" rx="0.3" fill="#5a7e7c"/>
<rect x="9.06" y="7.06" width="0.88" height="0.88" rx="0.3" fill="url(#tileShade)"/>
<rect x="9.06" y="8.06" width="0.88" height="0.88" rx="0.3" fill="#5e8280"/>
<rect x="9.06" y="8.06" width="0.88" height="0.88" rx="0.3" fill="url(#tileShade)"/>
<rect x="9.06" y="9.06" width="0.88" height="0.88" rx="0.3" fill="#638785"/>
<rect x="9.06" y="9.06" width="0.88" height="0.88" rx="0.3" fill="url(#tileShade)"/>
<rect x="9.06" y="10.06" width="0.88" height="0.88" rx="0.3" fill="#648886"/>
<rect x="9.06" y="10.06" width="0.88" height="0.88" rx="0.3" fill="url(#tileShade)"/>
<rect x="9.06" y="11.06" width="0.88" height="0.88" rx="0.3" fill="#638785"/>
<rect x="9.06" y="11.06" width="0.88" height="0.88" rx="0.3" fill="url(#tileShade)"/>
<rect x="9.06" y="12.06" width="0.88" height="0.88" rx="0.3" fill="#678b89"/>
<rect x="9.06" y="12.06" width="0.88" height="0.88" rx="0.3" fill="url(#tileShade)"/>
<rect x="9.06" y="13.06" width="0.88" height="0.88" rx="0.3" fill="#6a8e8c"/>
<rect x="9.06" y="13.06" width="0.88" height="0.88" rx="0.3" fill="url(#tileShade)"/>
<rect x="9.06" y="14.06" width="0.88" height="0.88" rx="0.3" fill="#658987"/>
<rect x="9.06" y="14.06" width="0.88" height="0.88" rx="0.3" fill="url(#tileShade)"/>
<rect x="9.06" y="15.06" width="0.88" height="0.88" rx="0.3" fill="#678b89"/>
<rect x="9.06" y="15.06" width="0.88" height="0.88" rx="0.3" fill="url(#tileShade)"/>
<rect x="9.06" y="16.06" width="0.88" height="0.88" rx="0.3" fill="#6a8e8c"/>
<rect x="9.06" y="16.06" width="0.88" height="0.88" rx="0.3" fill="url(#tileShade)"/>
<rect x="9.06" y="17.06" width="0.88" height="0.88" rx="0.3" fill="#5d817f"/>
<rect x="9.06" y="17.06" width="0.88" height="0.88" rx="0.3" fill="url(#tileShade)"/>
<rect x="9.06" y="18.06" width="0.88" height="0.88" rx="0.3" fill="#769a98"/>
<rect x="9.06" y="18.06" width="0.88" height="0.88" rx="0.3" fill="url(#tileShade)"/>
<rect x="9.06" y="19.06" width="0.88" height="0.88" rx="0.3" fill="#6f9391"/>
<rect x="9.06" y="19.06" width="0.88" height="0.88" rx="0.3" fill="url(#tileShade)"/>
<rect x="9.06" y="20.06" width="0.88" height="0.88" rx="0.3" fill="#5b7f7d"/>
<rect x="9.06" y="20.06" width="0.88" height="0.88" rx="0.3" fill="url(#tileShade)"/>
<rect x="10.06" y="-4.94" width="0.88" height="0.88" rx="0.3" fill="#688c8a"/>
<rect x="10.06" y="-4.94" width="0.88" height="0.88" rx="0.3" fill="url(#tileShade)"/>
<rect x="10.06" y="-3.94" width="0.88" height="0.88" rx="0.3" fill="#648886"/>
<rect x="10.06" y="-3.94" width="0.88" height="0.88" rx="0.3" fill="url(#tileShade)"/>
<rect x="10.06" y="-2.94" width="0.88" height="0.88" rx="0.3" fill="#608482"/>
<rect x="10.06" y="-2.94" width="0.88" height="0.88" rx="0.3" fill="url(#tileShade)"/>
<rect x="10.06" y="-1.94" width="0.88" height="0.88" rx="0.3" fill="#749896"/>
<rect x="10.06" y="-1.94" width="0.88" height="0.88" rx="0.3" fill="url(#tileShade)"/>
<rect x="10.06" y="-0.94" width="0.88" height="0.88" rx="0.3" fill="#678b89"/>
<rect x="10.06" y="-0.94" width="0.88" height="0.88" rx="0.3" fill="url(#tileShade)"/>
<rect x="10.06" y="0.06" width="0.88" height="0.88" rx="0.3" fill="#5a7e7c"/>
<rect x="10.06" y="0.06" width="0.88" height="0.88" rx="0.3" fill="url(#tileShade)"/>
<rect x="10.06" y="1.06" width="0.88" height="0.88" rx="0.3" fill="#5c807e"/>
<rect x="10.06" y="1.06" width="0.88" height="0.88" rx="0.3" fill="url(#tileShade)"/>
<rect x="10.06" y="2.06" width="0.88" height="0.88" rx="0.3" fill="#618583"/>
<rect x="10.06" y="2.06" width="0.88" height="0.88" rx="0.3" fill="url(#tileShade)"/>
<rect x="10.06" y="3.06" width="0.88" height="0.88" rx="0.3" fill="#678b89"/>
<rect x="10.06" y="3.06" width="0.88" height="0.88" rx="0.3" fill="url(#tileShade)"/>
<rect x="10.06" y="4.06" width="0.88" height="0.88" rx="0.3" fill="#5e8280"/>
<rect x="10.06" y="4.06" width="0.88" height="0.88" rx="0.3" fill="url(#tileShade)"/>
<rect x="10.06" y="5.06" width="0.88" height="0.88" rx="0.3" fill="#618583"/>
<rect x="10.06" y="5.06" width="0.88" height="0.88" rx="0.3" fill="url(#tileShade)"/>
<rect x="10.06" y="6.06" width="0.88" height="0.88" rx="0.3" fill="#608482"/>
<rect x="10.06" y="6.06" width="0.88" height="0.88" rx="0.3" fill="url(#tileShade)"/>
<rect x="10.06" y="7.06" width="0.88" height="0.88" rx="0.3" fill="#698d8b"/>
<rect x="10.06" y="7.06" width="0.88" height="0.88" rx="0.3" fill="url(#tileShade)"/>
<rect x="10.06" y="8.06" width="0.88" height="0.88" rx="0.3" fill="#6a8e8c"/>
<rect x="10.06" y="8.06" width="0.88" height="0.88" rx="0.3" fill="url(#tileShade)"/>
<rect x="10.06" y="9.06" width="0.88" height="0.88" rx="0.3" fill="#5a7e7c"/>
<rect x="10.06" y="9.06" width="0.88" height="0.88" rx="0.3" fill="url(#tileShade)"/>
<rect x="10.06" y="10.06" width="0.88" height="0.88" rx="0.3" fill="#7ca09e"/>
<rect x="10.06" y="10.06" width="0.88" height="0.88" rx="0.3" fill="url(#tileShade)"/>
<rect x="10.06" y="11.06" width="0.88" height="0.88" rx="0.3" fill="#597d7b"/>
<rect x="10.06" y="11.06" width="0.88" height="0.88" rx="0.3" fill="url(#tileShade)"/>
<rect x="10.06" y="12.06" width="0.88" height="0.88" rx="0.3" fill="#618583"/>
<rect x="10.06" y="12.06" width="0.88" height="0.88" rx="0.3" fill="url(#tileShade)"/>
<rect x="10.06" y="13.06" width="0.88" height="0.88" rx="0.3" fill="#608482"/>
<rect x="10.06" y="13.06" width="0.88" height="0.88" rx="0.3" fill="url(#tileShade)"/>
<rect x="10.06" y="14.06" width="0.88" height="0.88" rx="0.3" fill="#5d817f"/>
<rect x="10.06" y="14.06" width="0.88" height="0.88" rx="0.3" fill="url(#tileShade)"/>
<rect x="10.06" y="15.06" width="0.88" height="0.88" rx="0.3" fill="#638785"/>
<rect x="10.06" y="15.06" width="0.88" height="0.88" rx="0.3" fill="url(#tileShade)"/>
<rect x="10.06" y="16.06" width="0.88" height="0.88" rx="0.3" fill="#668a88"/>
<rect x="10.06" y="16.06" width="0.88" height="0.88" rx="0.3" fill="url(#tileShade)"/>
<rect x="10.06" y="17.06" width="0.88" height="0.88" rx="0.3" fill="#5f8381"/>
<rect x="10.06" y="17.06" width="0.88" height="0.88" rx="0.3" fill="url(#tileShade)"/>
<rect x="10.06" y="18.06" width="0.88" height="0.88" rx="0.3" fill="#6a8e8c"/>
<rect x="10.06" y="18.06" width="0.88" height="0.88" rx="0.3" fill="url(#tileShade)"/>
<rect x="10.06" y="19.06" width="0.88" height="0.88" rx="0.3" fill="#688c8a"/>
<rect x="10.06" y="19.06" width="0.88" height="0.88" rx="0.3" fill="url(#tileShade)"/>
<rect x="11.06" y="-4.94" width="0.88" height="0.88" rx="0.3" fill="#608482"/>
<rect x="11.06" y="-4.94" width="0.88" height="0.88" rx="0.3" fill="url(#tileShade)"/>
<rect x="11.06" y="-3.94" width="0.88" height="0.88" rx="0.3" fill="#678b89"/>
<rect x="11.06" y="-3.94" width="0.88" height="0.88" rx="0.3" fill="url(#tileShade)"/>
<rect x="11.06" y="-2.94" width="0.88" height="0.88" rx="0.3" fill="#597d7b"/>
<rect x="11.06" y="-2.94" width="0.88" height="0.88" rx="0.3" fill="url(#tileShade)"/>
<rect x="11.06" y="-1.94" width="0.88" height="0.88" rx="0.3" fill="#5a7e7c"/>
<rect x="11.06" y="-1.94" width="0.88" height="0.88" rx="0.3" fill="url(#tileShade)"/>
<rect x="11.06" y="-0.94" width="0.88" height="0.88" rx="0.3" fill="#698d8b"/>
<rect x="11.06" y="-0.94" width="0.88" height="0.88" rx="0.3" fill="url(#tileShade)"/>
<rect x="11.06" y="0.06" width="0.88" height="0.88" rx="0.3" fill="#678b89"/>
<rect x="11.06" y="0.06" width="0.88" height="0.88" rx="0.3" fill="url(#tileShade)"/>
<rect x="11.06" y="1.06" width="0.88" height="0.88" rx="0.3" fill="#658987"/>
<rect x="11.06" y="1.06" width="0.88" height="0.88" rx="0.3" fill="url(#tileShade)"/>
<rect x="11.06" y="2.06" width="0.88" height="0.88" rx="0.3" fill="#648886"/>
<rect x="11.06" y="2.06" width="0.88" height="0.88" rx="0.3" fill="url(#tileShade)"/>
<rect x="11.06" y="3.06" width="0.88" height="0.88" rx="0.3" fill="#739795"/>
<rect x="11.06" y="3.06" width="0.88" height="0.88" rx="0.3" fill="url(#tileShade)"/>
<rect x="11.06" y="4.06" width="0.88" height="0.88" rx="0.3" fill="#638785"/>
<rect x="11.06" y="4.06" width="0.88" height="0.88" rx="0.3" fill="url(#tileShade)"/>
<rect x="11.06" y="5.06" width="0.88" height="0.88" rx="0.3" fill="#608482"/>
<rect x="11.06" y="5.06" width="0.88" height="0.88" rx="0.3" fill="url(#tileShade)"/>
<rect x="11.06" y="6.06" width="0.88" height="0.88" rx="0.3" fill="#597d7b"/>
<rect x="11.06" y="6.06" width="0.88" height="0.88" rx="0.3" fill="url(#tileShade)"/>
<rect x="11.06" y="7.06" width="0.88" height="0.88" rx="0.3" fill="#5f8381"/>
<rect x="11.06" y="7.06" width="0.88" height="0.88" rx="0.3" fill="url(#tileShade)"/>
<rect x="11.06" y="8.06" width="0.88" height="0.88" rx="0.3" fill="#658987"/>
<rect x="11.06" y="8.06" width="0.88" height="0.88" rx="0.3" fill="url(#tileShade)"/>
<rect x="11.06" y="9.06" width="0.88" height="0.88" rx="0.3" fill="#6a8e8c"/>
<rect x="11.06" y="9.06" width="0.88" height="0.88" rx="0.3" fill="url(#tileShade)"/>
<rect x="11.06" y="10.06" width="0.88" height="0.88" rx="0.3" fill="#698d8b"/>
<rect x="11.06" y="10.06" width="0.88" height="0.88" rx="0.3" fill="url(#tileShade)"/>
<rect x="11.06" y="11.06" width="0.88" height="0.88" rx="0.3" fill="#658987"/>
<rect x="11.06" y="11.06" width="0.88" height="0.88" rx="0.3" fill="url(#tileShade)"/>
<rect x="11.06" y="12.06" width="0.88" height="0.88" rx="0.3" fill="#678b89"/>
<rect x="11.06" y="12.06" width="0.88" height="0.88" rx="0.3" fill="url(#tileShade)"/>
<rect x="11.06" y="13.06" width="0.88" height="0.88" rx="0.3" fill="#638785"/>
<rect x="11.06" y="13.06" width="0.88" height="0.88" rx="0.3" fill="url(#tileShade)"/>
<rect x="11.06" y="14.06" width="0.88" height="0.88" rx="0.3" fill="#628684"/>
<rect x="11.06" y="14.06" width="0.88" height="0.88" rx="0.3" fill="url(#tileShade)"/>
<rect x="11.06" y="15.06" width="0.88" height="0.88" rx="0.3" fill="#5a7e7c"/>
<rect x="11.06" y="15.06" width="0.88" height="0.88" rx="0.3" fill="url(#tileShade)"/>
<rect x="11.06" y="16.06" width="0.88" height="0.88" rx="0.3" fill="#5f8381"/>
<rect x="11.06" y="16.06" width="0.88" height="0.88" rx="0.3" fill="url(#tileShade)"/>
<rect x="11.06" y="17.06" width="0.88" height="0.88" rx="0.3" fill="#668a88"/>
<rect x="11.06" y="17.06" width="0.88" height="0.88" rx="0.3" fill="url(#tileShade)"/>
<rect x="11.06" y="18.06" width="0.88" height="0.88" rx="0.3" fill="#5e8280"/>
<rect x="11.06" y="18.06" width="0.88" height="0.88" rx="0.3" fill="url(#tileShade)"/>
<rect x="11.06" y="19.06" width="0.88" height="0.88" rx="0.3" fill="#5d817f"/>
<rect x="11.06" y="19.06" width="0.88" height="0.88" rx="0.3" fill="url(#tileShade)"/>
<rect x="12.06" y="-5.94" width="0.88" height="0.88" rx="0.3" fill="#5a7e7c"/>
<rect x="12.06" y="-5.94" width="0.88" height="0.88" rx="0.3" fill="url(#tileShade)"/>
<rect x="12.06" y="-4.94" width="0.88" height="0.88" rx="0.3" fill="#658987"/>
<rect x="12.06" y="-4.94" width="0.88" height="0.88" rx="0.3" fill="url(#tileShade)"/>
<rect x="12.06" y="-3.94" width="0.88" height="0.88" rx="0.3" fill="#698d8b"/>
<rect x="12.06" y="-3.94" width="0.88" height="0.88" rx="0.3" fill="url(#tileShade)"/>
<rect x="12.06" y="-2.94" width="0.88" height="0.88" rx="0.3" fill="#688c8a"/>
<rect x="12.06" y="-2.94" width="0.88" height="0.88" rx="0.3" fill="url(#tileShade)"/>
<rect x="12.06" y="-1.94" width="0.88" height="0.88" rx="0.3" fill="#638785"/>
<rect x="12.06" y="-1.94" width="0.88" height="0.88" rx="0.3" fill="url(#tileShade)"/>
<rect x="12.06" y="-0.94" width="0.88" height="0.88" rx="0.3" fill="#628684"/>
<rect x="12.06" y="-0.94" width="0.88" height="0.88" rx="0.3" fill="url(#tileShade)"/>
<rect x="12.06" y="0.06" width="0.88" height="0.88" rx="0.3" fill="#5d817f"/>
<rect x="12.06" y="0.06" width="0.88" height="0.88" rx="0.3" fill="url(#tileShade)"/>
<rect x="12.06" y="1.06" width="0.88" height="0.88" rx="0.3" fill="#628684"/>
<rect x="12.06" y="1.06" width="0.88" height="0.88" rx="0.3" fill="url(#tileShade)"/>
<rect x="12.06" y="2.06" width="0.88" height="0.88" rx="0.3" fill="#597d7b"/>
<rect x="12.06" y="2.06" width="0.88" height="0.88" rx="0.3" fill="url(#tileShade)"/>
<rect x="12.06" y="3.06" width="0.88" height="0.88" rx="0.3" fill="#5c807e"/>
<rect x="12.06" y="3.06" width="0.88" height="0.88" rx="0.3" fill="url(#tileShade)"/>
<rect x="12.06" y="4.06" width="0.88" height="0.88" rx="0.3" fill="#698d8b"/>
<rect x="12.06" y="4.06" width="0.88" height="0.88" rx="0.3" fill="url(#tileShade)"/>
<rect x="12.06" y="5.06" width="0.88" height="0.88" rx="0.3" fill="#648886"/>
<rect x="12.06" y="5.06" width="0.88" height="0.88" rx="0.3" fill="url(#tileShade)"/>
<rect x="12.06" y="6.06" width="0.88" height="0.88" rx="0.3" fill="#5a7e7c"/>
<rect x="12.06" y="6.06" width="0.88" height="0.88" rx="0.3" fill="url(#tileShade)"/>
<rect x="12.06" y="7.06" width="0.88" height="0.88" rx="0.3" fill="#628684"/>
<rect x="12.06" y="7.06" width="0.88" height="0.88" rx="0.3" fill="url(#tileShade)"/>
<rect x="12.06" y="8.06" width="0.88" height="0.88" rx="0.3" fill="#5f8381"/>
<rect x="12.06" y="8.06" width="0.88" height="0.88" rx="0.3" fill="url(#tileShade)"/>
<rect x="12.06" y="9.06" width="0.88" height="0.88" rx="0.3" fill="#5c807e"/>
<rect x="12.06" y="9.06" width="0.88" height="0.88" rx="0.3" fill="url(#tileShade)"/>
<rect x="12.06" y="10.06" width="0.88" height="0.88" rx="0.3" fill="#5d817f"/>
<rect x="12.06" y="10.06" width="0.88" height="0.88" rx="0.3" fill="url(#tileShade)"/>
<rect x="12.06" y="11.06" width="0.88" height="0.88" rx="0.3" fill="#698d8b"/>
<rect x="12.06" y="11.06" width="0.88" height="0.88" rx="0.3" fill="url(#tileShade)"/>
<rect x="12.06" y="12.06" width="0.88" height="0.88" rx="0.3" fill="#648886"/>
<rect x="12.06" y="12.06" width="0.88" height="0.88" rx="0.3" fill="url(#tileShade)"/>
<rect x="12.06" y="13.06" width="0.88" height="0.88" rx="0.3" fill="#729694"/>
<rect x="12.06" y="13.06" width="0.88" height="0.88" rx="0.3" fill="url(#tileShade)"/>
<rect x="12.06" y="14.06" width="0.88" height="0.88" rx="0.3" fill="#678b89"/>
<rect x="12.06" y="14.06" width="0.88" height="0.88" rx="0.3" fill="url(#tileShade)"/>
<rect x="12.06" y="15.06" width="0.88" height="0.88" rx="0.3" fill="#668a88"/>
<rect x="12.06" y="15.06" width="0.88" height="0.88" rx="0.3" fill="url(#tileShade)"/>
<rect x="12.06" y="16.06" width="0.88" height="0.88" rx="0.3" fill="#608482"/>
<rect x="12.06" y="16.06" width="0.88" height="0.88" rx="0.3" fill="url(#tileShade)"/>
<rect x="12.06" y="17.06" width="0.88" height="0.88" rx="0.3" fill="#698d8b"/>
<rect x="12.06" y="17.06" width="0.88" height="0.88" rx="0.3" fill="url(#tileShade)"/>
<rect x="12.06" y="18.06" width="0.88" height="0.88" rx="0.3" fill="#5e8280"/>
<rect x="12.06" y="18.06" width="0.88" height="0.88" rx="0.3" fill="url(#tileShade)"/>
<rect x="12.06" y="19.06" width="0.88" height="0.88" rx="0.3" fill="#6a8e8c"/>
<rect x="12.06" y="19.06" width="0.88" height="0.88" rx="0.3" fill="url(#tileShade)"/>
<rect x="13.06" y="-5.94" width="0.88" height="0.88" rx="0.3" fill="#597d7b"/>
<rect x="13.06" y="-5.94" width="0.88" height="0.88" rx="0.3" fill="url(#tileShade)"/>
<rect x="13.06" y="-4.94" width="0.88" height="0.88" rx="0.3" fill="#638785"/>
<rect x="13.06" y="-4.94" width="0.88" height="0.88" rx="0.3" fill="url(#tileShade)"/>
<rect x="13.06" y="-3.94" width="0.88" height="0.88" rx="0.3" fill="#5c807e"/>
<rect x="13.06" y="-3.94" width="0.88" height="0.88" rx="0.3" fill="url(#tileShade)"/>
<rect x="13.06" y="-2.94" width="0.88" height="0.88" rx="0.3" fill="#638785"/>
<rect x="13.06" y="-2.94" width="0.88" height="0.88" rx="0.3" fill="url(#tileShade)"/>
<rect x="13.06" y="-1.94" width="0.88" height="0.88" rx="0.3" fill="#658987"/>
<rect x="13.06" y="-1.94" width="0.88" height="0.88" rx="0.3" fill="url(#tileShade)"/>
<rect x="13.06" y="-0.94" width="0.88" height="0.88" rx="0.3" fill="#5a7e7c"/>
<rect x="13.06" y="-0.94" width="0.88" height="0.88" rx="0.3" fill="url(#tileShade)"/>
<rect x="13.06" y="0.06" width="0.88" height="0.88" rx="0.3" fill="#688c8a"/>
<rect x="13.06" y="0.06" width="0.88" height="0.88" rx="0.3" fill="url(#tileShade)"/>
<rect x="13.06" y="1.06" width="0.88" height="0.88" rx="0.3" fill="#5e8280"/>
<rect x="13.06" y="1.06" width="0.88" height="0.88" rx="0.3" fill="url(#tileShade)"/>
<rect x="13.06" y="2.06" width="0.88" height="0.88" rx="0.3" fill="#648886"/>
<rect x="13.06" y="2.06" width="0.88" height="0.88" rx="0.3" fill="url(#tileShade)"/>
<rect x="13.06" y="3.06" width="0.88" height="0.88" rx="0.3" fill="#5d817f"/>
<rect x="13.06" y="3.06" width="0.88" height="0.88" rx="0.3" fill="url(#tileShade)"/>
<rect x="13.06" y="4.06" width="0.88" height="0.88" rx="0.3" fill="#688c8a"/>
<rect x="13.06" y="4.06" width="0.88" height="0.88" rx="0.3" fill="url(#tileShade)"/>
<rect x="13.06" y="5.06" width="0.88" height="0.88" rx="0.3" fill="#5a7e7c"/>
<rect x="13.06" y="5.06" width="0.88" height="0.88" rx="0.3" fill="url(#tileShade)"/>
<rect x="13.06" y="6.06" width="0.88" height="0.88" rx="0.3" fill="#5b7f7d"/>
<rect x="13.06" y="6.06" width="0.88" height="0.88" rx="0.3" fill="url(#tileShade)"/>
<rect x="13.06" y="7.06" width="0.88" height="0.88" rx="0.3" fill="#5b7f7d"/>
<rect x="13.06" y="7.06" width="0.88" height="0.88" rx="0.3" fill="url(#tileShade)"/>
<rect x="13.06" y="8.06" width="0.88" height="0.88" rx="0.3" fill="#5a7e7c"/>
<rect x="13.06" y="8.06" width="0.88" height="0.88" rx="0.3" fill="url(#tileShade)"/>
<rect x="13.06" y="9.06" width="0.88" height="0.88" rx="0.3" fill="#668a88"/>
<rect x="13.06" y="9.06" width="0.88" height="0.88" rx="0.3" fill="url(#tileShade)"/>
<rect x="13.06" y="10.06" width="0.88" height="0.88" rx="0.3" fill="#678b89"/>
<rect x="13.06" y="10.06" width="0.88" height="0.88" rx="0.3" fill="url(#tileShade)"/>
<rect x="13.06" y="11.06" width="0.88" height="0.88" rx="0.3" fill="#698d8b"/>
<rect x="13.06" y="11.06" width="0.88" height="0.88" rx="0.3" fill="url(#tileShade)"/>
<rect x="13.06" y="12.06" width="0.88" height="0.88" rx="0.3" fill="#648886"/>
<rect x="13.06" y="12.06" width="0.88" height="0.88" rx="0.3" fill="url(#tileShade)"/>
<rect x="13.06" y="13.06" width="0.88" height="0.88" rx="0.3" fill="#5a7e7c"/>
<rect x="13.06" y="13.06" width="0.88" height="0.88" rx="0.3" fill="url(#tileShade)"/>
<rect x="13.06" y="14.06" width="0.88" height="0.88" rx="0.3" fill="#5a7e7c"/>
<rect x="13.06" y="14.06" width="0.88" height="0.88" rx="0.3" fill="url(#tileShade)"/>
<rect x="13.06" y="15.06" width="0.88" height="0.88" rx="0.3" fill="#5f8381"/>
<rect x="13.06" y="15.06" width="0.88" height="0.88" rx="0.3" fill="url(#tileShade)"/>
<rect x="13.06" y="16.06" width="0.88" height="0.88" rx="0.3" fill="#658987"/>
<rect x="13.06" y="16.06" width="0.88" height="0.88" rx="0.3" fill="url(#tileShade)"/>
<rect x="13.06" y="17.06" width="0.88" height="0.88" rx="0.3" fill="#5a7e7c"/>
<rect x="13.06" y="17.06" width="0.88" height="0.88" rx="0.3" fill="url(#tileShade)"/>
<rect x="13.06" y="18.06" width="0.88" height="0.88" rx="0.3" fill="#628684"/>
<rect x="13.06" y="18.06" width="0.88" height="0.88" rx="0.3" fill="url(#tileShade)"/>
<rect x="14.06" y="-5.94" width="0.88" height="0.88" rx="0.3" fill="#5b7f7d"/>
<rect x="14.06" y="-5.94" width="0.88" height="0.88" rx="0.3" fill="url(#tileShade)"/>
<rect x="14.06" y="-4.94" width="0.88" height="0.88" rx="0.3" fill="#5f8381"/>
<rect x="14.06" y="-4.94" width="0.88" height="0.88" rx="0.3" fill="url(#tileShade)"/>
<rect x="14.06" y="-3.94" width="0.88" height="0.88" rx="0.3" fill="#618583"/>
<rect x="14.06" y="-3.94" width="0.88" height="0.88" rx="0.3" fill="url(#tileShade)"/>
<rect x="14.06" y="-2.94" width="0.88" height="0.88" rx="0.3" fill="#82a6a4"/>
<rect x="14.06" y="-2.94" width="0.88" height="0.88" rx="0.3" fill="url(#tileShade)"/>
<rect x="14.06" y="-1.94" width="0.88" height="0.88" rx="0.3" fill="#658987"/>
<rect x="14.06" y="-1.94" width="0.88" height="0.88" rx="0.3" fill="url(#tileShade)"/>
<rect x="14.06" y="-0.94" width="0.88" height="0.88" rx="0.3" fill="#5b7f7d"/>
<rect x="14.06" y="-0.94" width="0.88" height="0.88" rx="0.3" fill="url(#tileShade)"/>
<rect x="14.06" y="0.06" width="0.88" height="0.88" rx="0.3" fill="#5f8381"/>
<rect x="14.06" y="0.06" width="0.88" height="0.88" rx="0.3" fill="url(#tileShade)"/>
<rect x="14.06" y="1.06" width="0.88" height="0.88" rx="0.3" fill="#698d8b"/>
<rect x="14.06" y="1.06" width="0.88" height="0.88" rx="0.3" fill="url(#tileShade)"/>
<rect x="14.06" y="2.06" width="0.88" height="0.88" rx="0.3" fill="#5e8280"/>
<rect x="14.06" y="2.06" width="0.88" height="0.88" rx="0.3" fill="url(#tileShade)"/>
<rect x="14.06" y="3.06" width="0.88" height="0.88" rx="0.3" fill="#658987"/>
<rect x="14.06" y="3.06" width="0.88" height="0.88" rx="0.3" fill="url(#tileShade)"/>
<rect x="14.06" y="4.06" width="0.88" height="0.88" rx="0.3" fill="#638785"/>
<rect x="14.06" y="4.06" width="0.88" height="0.88" rx="0.3" fill="url(#tileShade)"/>
<rect x="14.06" y="5.06" width="0.88" height="0.88" rx="0.3" fill="#5f8381"/>
<rect x="14.06" y="5.06" width="0.88" height="0.88" rx="0.3" fill="url(#tileShade)"/>
<rect x="14.06" y="6.06" width="0.88" height="0.88" rx="0.3" fill="#759997"/>
<rect x="14.06" y="6.06" width="0.88" height="0.88" rx="0.3" fill="url(#tileShade)"/>
<rect x="14.06" y="7.06" width="0.88" height="0.88" rx="0.3" fill="#5d817f"/>
<rect x="14.06" y="7.06" width="0.88" height="0.88" rx="0.3" fill="url(#tileShade)"/>
<rect x="14.06" y="8.06" width="0.88" height="0.88" rx="0.3" fill="#5a7e7c"/>
<rect x="14.06" y="8.06" width="0.88" height="0.88" rx="0.3" fill="url(#tileShade)"/>
<rect x="14.06" y="9.06" width="0.88" height="0.88" rx="0.3" fill="#5a7e7c"/>
<rect x="14.06" y="9.06" width="0.88" height="0.88" rx="0.3" fill="url(#tileShade)"/>
<rect x="14.06" y="10.06" width="0.88" height="0.88" rx="0.3" fill="#6a8e8c"/>
<rect x="14.06" y="10.06" width="0.88" height="0.88" rx="0.3" fill="url(#tileShade)"/>
<rect x="14.06" y="11.06" width="0.88" height="0.88" rx="0.3" fill="#5f8381"/>
<rect x="14.06" y="11.06" width="0.88" height="0.88" rx="0.3" fill="url(#tileShade)"/>
<rect x="14.06" y="12.06" width="0.88" height="0.88" rx="0.3" fill="#5a7e7c"/>
<rect x="14.06" y="12.06" width="0.88" height="0.88" rx="0.3" fill="url(#tileShade)"/>
<rect x="14.06" y="13.06" width="0.88" height="0.88" rx="0.3" fill="#7fa3a1"/>
<rect x="14.06" y="13.06" width="0.88" height="0.88" rx="0.3" fill="url(#tileShade)"/>
<rect x="14.06" y="14.06" width="0.88" height="0.88" rx="0.3" fill="#6f9391"/>
<rect x="14.06" y="14.06" width="0.88" height="0.88" rx="0.3" fill="url(#tileShade)"/>
<rect x="14.06" y="15.06" width="0.88" height="0.88" rx="0.3" fill="#618583"/>
<rect x="14.06" y="15.06" width="0.88" height="0.88" rx="0.3" fill="url(#tileShade)"/>
<rect x="14.06" y="16.06" width="0.88" height="0.88" rx="0.3" fill="#719593"/>
<rect x="14.06" y="16.06" width="0.88" height="0.88" rx="0.3" fill="url(#tileShade)"/>
<rect x="14.06" y="17.06" width="0.88" height="0.88" rx="0.3" fill="#6a8e8c"/>
<rect x="14.06" y="17.06" width="0.88" height="0.88" rx="0.3" fill="url(#tileShade)"/>
<rect x="14.06" y="18.06" width="0.88" height="0.88" rx="0.3" fill="#618583"/>
<rect x="14.06" y="18.06" width="0.88" height="0.88" rx="0.3" fill="url(#tileShade)"/>
<rect x="15.06" y="-5.94" width="0.88" height="0.88" rx="0.3" fill="#5e8280"/>
<rect x="15.06" y="-5.94" width="0.88" height="0.88" rx="0.3" fill="url(#tileShade)"/>
<rect x="15.06" y="-4.94" width="0.88" height="0.88" rx="0.3" fill="#658987"/>
<rect x="15.06" y="-4.94" width="0.88" height="0.88" rx="0.3" fill="url(#tileShade)"/>
<rect x="15.06" y="-3.94" width="0.88" height="0.88" rx="0.3" fill="#597d7b"/>
<rect x="15.06" y="-3.94" width="0.88" height="0.88" rx="0.3" fill="url(#tileShade)"/>
<rect x="15.06" y="-2.94" width="0.88" height="0.88" rx="0.3" fill="#678b89"/>
<rect x="15.06" y="-2.94" width="0.88" height="0.88" rx="0.3" fill="url(#tileShade)"/>
<rect x="15.06" y="-1.94" width="0.88" height="0.88" rx="0.3" fill="#638785"/>
<rect x="15.06" y="-1.94" width="0.88" height="0.88" rx="0.3" fill="url(#tileShade)"/>
<rect x="15.06" y="-0.94" width="0.88" height="0.88" rx="0.3" fill="#648886"/>
<rect x="15.06" y="-0.94" width="0.88" height="0.88" rx="0.3" fill="url(#tileShade)"/>
<rect x="15.06" y="0.06" width="0.88" height="0.88" rx="0.3" fill="#719593"/>
<rect x="15.06" y="0.06" width="0.88" height="0.88" rx="0.3" fill="url(#tileShade)"/>
<rect x="15.06" y="1.06" width="0.88" height="0.88" rx="0.3" fill="#608482"/>
<rect x="15.06" y="1.06" width="0.88" height="0.88" rx="0.3" fill="url(#tileShade)"/>
<rect x="15.06" y="2.06" width="0.88" height="0.88" rx="0.3" fill="#678b89"/>
<rect x="15.06" y="2.06" width="0.88" height="0.88" rx="0.3" fill="url(#tileShade)"/>
<rect x="15.06" y="3.06" width="0.88" height="0.88" rx="0.3" fill="#5f8381"/>
<rect x="15.06" y="3.06" width="0.88" height="0.88" rx="0.3" fill="url(#tileShade)"/>
<rect x="15.06" y="4.06" width="0.88" height="0.88" rx="0.3" fill="#668a88"/>
<rect x="15.06" y="4.06" width="0.88" height="0.88" rx="0.3" fill="url(#tileShade)"/>
<rect x="15.06" y="5.06" width="0.88" height="0.88" rx="0.3" fill="#5b7f7d"/>
<rect x="15.06" y="5.06" width="0.88" height="0.88" rx="0.3" fill="url(#tileShade)"/>
<rect x="15.06" y="6.06" width="0.88" height="0.88" rx="0.3" fill="#608482"/>
<rect x="15.06" y="6.06" width="0.88" height="0.88" rx="0.3" fill="url(#tileShade)"/>
<rect x="15.06" y="7.06" width="0.88" height="0.88" rx="0.3" fill="#6a8e8c"/>
<rect x="15.06" y="7.06" width="0.88" height="0.88" rx="0.3" fill="url(#tileShade)"/>
<rect x="15.06" y="8.06" width="0.88" height="0.88" rx="0.3" fill="#608482"/>
<rect x="15.06" y="8.06" width="0.88" height="0.88" rx="0.3" fill="url(#tileShade)"/>
<rect x="15.06" y="9.06" width="0.88" height="0.88" rx="0.3" fill="#618583"/>
<rect x="15.06" y="9.06" width="0.88" height="0.88" rx="0.3" fill="url(#tileShade)"/>
<rect x="15.06" y="10.06" width="0.88" height="0.88" rx="0.3" fill="#648886"/>
<rect x="15.06" y="10.06" width="0.88" height="0.88" rx="0.3" fill="url(#tileShade)"/>
<rect x="15.06" y="11.06" width="0.88" height="0.88" rx="0.3" fill="#5c807e"/>
<rect x="15.06" y="11.06" width="0.88" height="0.88" rx="0.3" fill="url(#tileShade)"/>
<rect x="15.06" y="12.06" width="0.88" height="0.88" rx="0.3" fill="#5a7e7c"/>
<rect x="15.06" y="12.06" width="0.88" height="0.88" rx="0.3" fill="url(#tileShade)"/>
<rect x="15.06" y="13.06" width="0.88" height="0.88" rx="0.3" fill="#698d8b"/>
<rect x="15.06" y="13.06" width="0.88" height="0.88" rx="0.3" fill="url(#tileShade)"/>
<rect x="15.06" y="14.06" width="0.88" height="0.88" rx="0.3" fill="#759997"/>
<rect x="15.06" y="14.06" width="0.88" height="0.88" rx="0.3" fill="url(#tileShade)"/>
<rect x="15.06" y="15.06" width="0.88" height="0.88" rx="0.3" fill="#6a8e8c"/>
<rect x="15.06" y="15.06" width="0.88" height="0.88" rx="0.3" fill="url(#tileShade)"/>
<rect x="15.06" y="16.06" width="0.88" height="0.88" rx="0.3" fill="#5b7f7d"/>
<rect x="15.06" y="16.06" width="0.88" height="0.88" rx="0.3" fill="url(#tileShade)"/>
<rect x="15.06" y="17.06" width="0.88" height="0.88" rx="0.3" fill="#698d8b"/>
<rect x="15.06" y="17.06" width="0.88" height="0.88" rx="0.3" fill="url(#tileShade)"/>
<rect x="15.06" y="18.06" width="0.88" height="0.88" rx="0.3" fill="#597d7b"/>
<rect x="15.06" y="18.06" width="0.88" height="0.88" rx="0.3" fill="url(#tileShade)"/>
<rect x="16.06" y="-2.94" width="0.88" height="0.88" rx="0.3" fill="#608482"/>
<rect x="16.06" y="-2.94" width="0.88" height="0.88" rx="0.3" fill="url(#tileShade)"/>
<rect x="16.06" y="-1.94" width="0.88" height="0.88" rx="0.3" fill="#668a88"/>
<rect x="16.06" y="-1.94" width="0.88" height="0.88" rx="0.3" fill="url(#tileShade)"/>
<rect x="16.06" y="-0.94" width="0.88" height="0.88" rx="0.3" fill="#668a88"/>
<rect x="16.06" y="-0.94" width="0.88" height="0.88" rx="0.3" fill="url(#tileShade)"/>
<rect x="16.06" y="0.06" width="0.88" height="0.88" rx="0.3" fill="#628684"/>
<rect x="16.06" y="0.06" width="0.88" height="0.88" rx="0.3" fill="url(#tileShade)"/>
<rect x="16.06" y="1.06" width="0.88" height="0.88" rx="0.3" fill="#658987"/>
<rect x="16.06" y="1.06" width="0.88" height="0.88" rx="0.3" fill="url(#tileShade)"/>
<rect x="16.06" y="2.06" width="0.88" height="0.88" rx="0.3" fill="#5a7e7c"/>
<rect x="16.06" y="2.06" width="0.88" height="0.88" rx="0.3" fill="url(#tileShade)"/>
<rect x="16.06" y="3.06" width="0.88" height="0.88" rx="0.3" fill="#5f8381"/>
<rect x="16.06" y="3.06" width="0.88" height="0.88" rx="0.3" fill="url(#tileShade)"/>
<rect x="16.06" y="4.06" width="0.88" height="0.88" rx="0.3" fill="#618583"/>
<rect x="16.06" y="4.06" width="0.88" height="0.88" rx="0.3" fill="url(#tileShade)"/>
<rect x="16.06" y="5.06" width="0.88" height="0.88" rx="0.3" fill="#6a8e8c"/>
<rect x="16.06" y="5.06" width="0.88" height="0.88" rx="0.3" fill="url(#tileShade)"/>
<rect x="16.06" y="6.06" width="0.88" height="0.88" rx="0.3" fill="#638785"/>
<rect x="16.06" y="6.06" width="0.88" height="0.88" rx="0.3" fill="url(#tileShade)"/>
<rect x="16.06" y="7.06" width="0.88" height="0.88" rx="0.3" fill="#628684"/>
<rect x="16.06" y="7.06" width="0.88" height="0.88" rx="0.3" fill="url(#tileShade)"/>
<rect x="16.06" y="8.06" width="0.88" height="0.88" rx="0.3" fill="#5b7f7d"/>
<rect x="16.06" y="8.06" width="0.88" height="0.88" rx="0.3" fill="url(#tileShade)"/>
<rect x="16.06" y="9.06" width="0.88" height="0.88" rx="0.3" fill="#7ea2a0"/>
<rect x="16.06" y="9.06" width="0.88" height="0.88" rx="0.3" fill="url(#tileShade)"/>
<rect x="16.06" y="10.06" width="0.88" height="0.88" rx="0.3" fill="#608482"/>
<rect x="16.06" y="10.06" width="0.88" height="0.88" rx="0.3" fill="url(#tileShade)"/>
<rect x="16.06" y="11.06" width="0.88" height="0.88" rx="0.3" fill="#638785"/>
<rect x="16.06" y="11.06" width="0.88" height="0.88" rx="0.3" fill="url(#tileShade)"/>
<rect x="16.06" y="12.06" width="0.88" height="0.88" rx="0.3" fill="#5a7e7c"/>
<rect x="16.06" y="12.06" width="0.88" height="0.88" rx="0.3" fill="url(#tileShade)"/>
<rect x="16.06" y="13.06" width="0.88" height="0.88" rx="0.3" fill="#597d7b"/>
<rect x="16.06" y="13.06" width="0.88" height="0.88" rx="0.3" fill="url(#tileShade)"/>
<rect x="16.06" y="14.06" width="0.88" height="0.88" rx="0.3" fill="#6f9391"/>
<rect x="16.06" y="14.06" width="0.88" height="0.88" rx="0.3" fill="url(#tileShade)"/>
<rect x="16.06" y="15.06" width="0.88" height="0.88" rx="0.3" fill="#618583"/>
<rect x="16.06" y="15.06" width="0.88" height="0.88" rx="0.3" fill="url(#tileShade)"/>
<rect x="16.06" y="16.06" width="0.88" height="0.88" rx="0.3" fill="#698d8b"/>
<rect x="16.06" y="16.06" width="0.88" height="0.88" rx="0.3" fill="url(#tileShade)"/>
<rect x="16.06" y="17.06" width="0.88" height="0.88" rx="0.3" fill="#628684"/>
<rect x="16.06" y="17.06" width="0.88" height="0.88" rx="0.3" fill="url(#tileShade)"/>
<rect x="16.06" y="18.06" width="0.88" height="0.88" rx="0.3" fill="#698d8b"/>
<rect x="16.06" y="18.06" width="0.88" height="0.88" rx="0.3" fill="url(#tileShade)"/>
<rect x="17.06" y="4.06" width="0.88" height="0.88" rx="0.3" fill="#6a8e8c"/>
<rect x="17.06" y="4.06" width="0.88" height="0.88" rx="0.3" fill="url(#tileShade)"/>
<rect x="17.06" y="5.06" width="0.88" height="0.88" rx="0.3" fill="#5b7f7d"/>
<rect x="17.06" y="5.06" width="0.88" height="0.88" rx="0.3" fill="url(#tileShade)"/>
<rect x="17.06" y="6.06" width="0.88" height="0.88" rx="0.3" fill="#5a7e7c"/>
<rect x="17.06" y="6.06" width="0.88" height="0.88" rx="0.3" fill="url(#tileShade)"/>
<rect x="17.06" y="7.06" width="0.88" height="0.88" rx="0.3" fill="#668a88"/>
<rect x="17.06" y="7.06" width="0.88" height="0.88" rx="0.3" fill="url(#tileShade)"/>
<rect x="17.06" y="8.06" width="0.88" height="0.88" rx="0.3" fill="#5f8381"/>
<rect x="17.06" y="8.06" width="0.88" height="0.88" rx="0.3" fill="url(#tileShade)"/>
<rect x="17.06" y="9.06" width="0.88" height="0.88" rx="0.3" fill="#5e8280"/>
<rect x="17.06" y="9.06" width="0.88" height="0.88" rx="0.3" fill="url(#tileShade)"/>
<rect x="17.06" y="10.06" width="0.88" height="0.88" rx="0.3" fill="#678b89"/>
<rect x="17.06" y="10.06" width="0.88" height="0.88" rx="0.3" fill="url(#tileShade)"/>
<rect x="17.06" y="11.06" width="0.88" height="0.88" rx="0.3" fill="#5f8381"/>
<rect x="17.06" y="11.06" width="0.88" height="0.88" rx="0.3" fill="url(#tileShade)"/>
<rect x="17.06" y="12.06" width="0.88" height="0.88" rx="0.3" fill="#638785"/>
<rect x="17.06" y="12.06" width="0.88" height="0.88" rx="0.3" fill="url(#tileShade)"/>
<rect x="17.06" y="13.06" width="0.88" height="0.88" rx="0.3" fill="#6e9290"/>
<rect x="17.06" y="13.06" width="0.88" height="0.88" rx="0.3" fill="url(#tileShade)"/>
<rect x="17.06" y="14.06" width="0.88" height="0.88" rx="0.3" fill="#5f8381"/>
<rect x="17.06" y="14.06" width="0.88" height="0.88" rx="0.3" fill="url(#tileShade)"/>
<rect x="17.06" y="15.06" width="0.88" height="0.88" rx="0.3" fill="#6a8e8c"/>
<rect x="17.06" y="15.06" width="0.88" height="0.88" rx="0.3" fill="url(#tileShade)"/>
<rect x="17.06" y="16.06" width="0.88" height="0.88" rx="0.3" fill="#5d817f"/>
<rect x="17.06" y="16.06" width="0.88" height="0.88" rx="0.3" fill="url(#tileShade)"/>
<rect x="17.06" y="17.06" width="0.88" height="0.88" rx="0.3" fill="#668a88"/>
<rect x="17.06" y="17.06" width="0.88" height="0.88" rx="0.3" fill="url(#tileShade)"/>
<rect x="18.06" y="10.06" width="0.88" height="0.88" rx="0.3" fill="#678b89"/>
<rect x="18.06" y="10.06" width="0.88" height="0.88" rx="0.3" fill="url(#tileShade)"/>
<rect x="18.06" y="11.06" width="0.88" height="0.88" rx="0.3" fill="#5f8381"/>
<rect x="18.06" y="11.06" width="0.88" height="0.88" rx="0.3" fill="url(#tileShade)"/>
<rect x="18.06" y="12.06" width="0.88" height="0.88" rx="0.3" fill="#5d817f"/>
<rect x="18.06" y="12.06" width="0.88" height="0.88" rx="0.3" fill="url(#tileShade)"/>
<rect x="18.06" y="13.06" width="0.88" height="0.88" rx="0.3" fill="#688c8a"/>
<rect x="18.06" y="13.06" width="0.88" height="0.88" rx="0.3" fill="url(#tileShade)"/>
<rect x="18.06" y="14.06" width="0.88" height="0.88" rx="0.3" fill="#698d8b"/>
<rect x="18.06" y="14.06" width="0.88" height="0.88" rx="0.3" fill="url(#tileShade)"/>
<rect x="18.06" y="15.06" width="0.88" height="0.88" rx="0.3" fill="#739795"/>
<rect x="18.06" y="15.06" width="0.88" height="0.88" rx="0.3" fill="url(#tileShade)"/>
<rect x="18.06" y="16.06" width="0.88" height="0.88" rx="0.3" fill="#6f9391"/>
<rect x="18.06" y="16.06" width="0.88" height="0.88" rx="0.3" fill="url(#tileShade)"/>
<rect x="18.06" y="17.06" width="0.88" height="0.88" rx="0.3" fill="#678b89"/>
<rect x="18.06" y="17.06" width="0.88" height="0.88" rx="0.3" fill="url(#tileShade)"/>
<rect x="19.06" y="16.06" width="0.88" height="0.88" rx="0.3" fill="#7ea2a0"/>
<rect x="19.06" y="16.06" width="0.88" height="0.88" rx="0.3" fill="url(#tileShade)"/>
<rect x="19.06" y="17.06" width="0.88" height="0.88" rx="0.3" fill="#5b7f7d"/>
<rect x="19.06" y="17.06" width="0.88" height="0.88" rx="0.3" fill="url(#tileShade)"/>
</g></g></g>
<text x="2.3" y="23.2" font-size="14" text-anchor="start" fill="#fff" font-weight="bold" >a</text>
<rect x="5" y="133" width="26" height="2.2" fill="#fff"/>
<g clip-path="url(#clipB)">
<rect x="96.2" y="9.1" width="78.6" height="66.6" fill="#2c4746"/>
<g filter="url(#soft)"><g transform="matrix(12.4 2.9 -3.4 11.8 96.2 9.1)">
<rect x="-0.97" y="-0.97" width="0.94" height="0.94" rx="0.25" fill="#5d8380"/>
<rect x="-0.97" y="-0.97" width="0.94" height="0.94" rx="0.25" fill="url(#tileShadeB)"/>
<rect x="-0.97" y="0.03" width="0.94" height="0.94" rx="0.25" fill="#587e7b"/>
<rect x="-0.97" y="0.03" width="0.94" height="0.94" rx="0.25" fill="url(#tileShadeB)"/>
<rect x="-0.97" y="1.03" width="0.94" height="0.94" rx="0.25" fill="#577d7a"/>
<rect x="-0.97" y="1.03" width="0.94" height="0.94" rx="0.25" fill="url(#tileShadeB)"/>
<rect x="-0.97" y="2.03" width="0.94" height="0.94" rx="0.25" fill="#638986"/>
<rect x="-0.97" y="2.03" width="0.94" height="0.94" rx="0.25" fill="url(#tileShadeB)"/>
<rect x="0.03" y="-0.97" width="0.94" height="0.94" rx="0.25" fill="#5e8481"/>
<rect x="0.03" y="-0.97" width="0.94" height="0.94" rx="0.25" fill="url(#tileShadeB)"/>
<rect x="0.03" y="0.03" width="0.94" height="0.94" rx="0.25" fill="#577d7a"/>
<rect x="0.03" y="0.03" width="0.94" height="0.94" rx="0.25" fill="url(#tileShadeB)"/>
<rect x="0.03" y="1.03" width="0.94" height="0.94" rx="0.25" fill="#608683"/>
<rect x="0.03" y="1.03" width="0.94" height="0.94" rx="0.25" fill="url(#tileShadeB)"/>
<rect x="0.03" y="2.03" width="0.94" height="0.94" rx="0.25" fill="#618784"/>
<rect x="0.03" y="2.03" width="0.94" height="0.94" rx="0.25" fill="url(#tileShadeB)"/>
<rect x="0.03" y="3.03" width="0.94" height="0.94" rx="0.25" fill="#5a807d"/>
<rect x="0.03" y="3.03" width="0.94" height="0.94" rx="0.25" fill="url(#tileShadeB)"/>
<rect x="0.03" y="4.03" width="0.94" height="0.94" rx="0.25" fill="#5e8481"/>
<rect x="0.03" y="4.03" width="0.94" height="0.94" rx="0.25" fill="url(#tileShadeB)"/>
<rect x="0.03" y="5.03" width="0.94" height="0.94" rx="0.25" fill="#5f8582"/>
<rect x="0.03" y="5.03" width="0.94" height="0.94" rx="0.25" fill="url(#tileShadeB)"/>
<rect x="1.03" y="-0.97" width="0.94" height="0.94" rx="0.25" fill="#5c827f"/>
<rect x="1.03" y="-0.97" width="0.94" height="0.94" rx="0.25" fill="url(#tileShadeB)"/>
<rect x="1.03" y="0.03" width="0.94" height="0.94" rx="0.25" fill="#587e7b"/>
<rect x="1.03" y="0.03" width="0.94" height="0.94" rx="0.25" fill="url(#tileShadeB)"/>
<rect x="1.03" y="1.03" width="0.94" height="0.94" rx="0.25" fill="#608683"/>
<rect x="1.03" y="1.03" width="0.94" height="0.94" rx="0.25" fill="url(#tileShadeB)"/>
<rect x="1.03" y="2.03" width="0.94" height="0.94" rx="0.25" fill="#5c827f"/>
<rect x="1.03" y="2.03" width="0.94" height="0.94" rx="0.25" fill="url(#tileShadeB)"/>
<rect x="1.03" y="3.03" width="0.94" height="0.94" rx="0.25" fill="#5a807d"/>
<rect x="1.03" y="3.03" width="0.94" height="0.94" rx="0.25" fill="url(#tileShadeB)"/>
<rect x="1.03" y="4.03" width="0.94" height="0.94" rx="0.25" fill="#5a807d"/>
<rect x="1.03" y="4.03" width="0.94" height="0.94" rx="0.25" fill="url(#tileShadeB)"/>
<rect x="1.03" y="5.03" width="0.94" height="0.94" rx="0.25" fill="#597f7c"/>
<rect x="1.03" y="5.03" width="0.94" height="0.94" rx="0.25" fill="url(#tileShadeB)"/>
<rect x="1.03" y="6.03" width="0.94" height="0.94" rx="0.25" fill="#759b98"/>
<rect x="1.03" y="6.03" width="0.94" height="0.94" rx="0.25" fill="url(#tileShadeB)"/>
<rect x="2.03" y="-1.97" width="0.94" height="0.94" rx="0.25" fill="#709693"/>
<rect x="2.03" y="-1.97" width="0.94" height="0.94" rx="0.25" fill="url(#tileShadeB)"/>
<rect x="2.03" y="-0.97" width="0.94" height="0.94" rx="0.25" fill="#638986"/>
<rect x="2.03" y="-0.97" width="0.94" height="0.94" rx="0.25" fill="url(#tileShadeB)"/>
<rect x="2.03" y="0.03" width="0.94" height="0.94" rx="0.25" fill="#5f8582"/>
<rect x="2.03" y="0.03" width="0.94" height="0.94" rx="0.25" fill="url(#tileShadeB)"/>
<rect x="2.03" y="1.03" width="0.94" height="0.94" rx="0.25" fill="#5f8582"/>
<rect x="2.03" y="1.03" width="0.94" height="0.94" rx="0.25" fill="url(#tileShadeB)"/>
<rect x="2.03" y="2.03" width="0.94" height="0.94" rx="0.25" fill="#678d8a"/>
<rect x="2.03" y="2.03" width="0.94" height="0.94" rx="0.25" fill="url(#tileShadeB)"/>
<rect x="2.03" y="3.03" width="0.94" height="0.94" rx="0.25" fill="#6b918e"/>
<rect x="2.03" y="3.03" width="0.94" height="0.94" rx="0.25" fill="url(#tileShadeB)"/>
<rect x="2.03" y="4.03" width="0.94" height="0.94" rx="0.25" fill="#5d8380"/>
<rect x="2.03" y="4.03" width="0.94" height="0.94" rx="0.25" fill="url(#tileShadeB)"/>
<rect x="2.03" y="5.03" width="0.94" height="0.94" rx="0.25" fill="#5c827f"/>
<rect x="2.03" y="5.03" width="0.94" height="0.94" rx="0.25" fill="url(#tileShadeB)"/>
<rect x="3.03" y="-1.97" width="0.94" height="0.94" rx="0.25" fill="#436966"/>
<rect x="3.03" y="-1.97" width="0.94" height="0.94" rx="0.25" fill="url(#tileShadeB)"/>
<rect x="3.03" y="-0.97" width="0.94" height="0.94" rx="0.25" fill="#5f8582"/>
<rect x="3.03" y="-0.97" width="0.94" height="0.94" rx="0.25" fill="url(#tileShadeB)"/>
<rect x="3.03" y="0.03" width="0.94" height="0.94" rx="0.25" fill="#5f8582"/>
<rect x="3.03" y="0.03" width="0.94" height="0.94" rx="0.25" fill="url(#tileShadeB)"/>
<rect x="3.03" y="1.03" width="0.94" height="0.94" rx="0.25" fill="#577d7a"/>
<rect x="3.03" y="1.03" width="0.94" height="0.94" rx="0.25" fill="url(#tileShadeB)"/>
<rect x="3.03" y="2.03" width="0.94" height="0.94" rx="0.25" fill="#5f8582"/>
<rect x="3.03" y="2.03" width="0.94" height="0.94" rx="0.25" fill="url(#tileShadeB)"/>
<rect x="3.03" y="3.03" width="0.94" height="0.94" rx="0.25" fill="#5a807d"/>
<rect x="3.03" y="3.03" width="0.94" height="0.94" rx="0.25" fill="url(#tileShadeB)"/>
<rect x="3.03" y="4.03" width="0.94" height="0.94" rx="0.25" fill="#648a87"/>
<rect x="3.03" y="4.03" width="0.94" height="0.94" rx="0.25" fill="url(#tileShadeB)"/>
<rect x="3.03" y="5.03" width="0.94" height="0.94" rx="0.25" fill="#608683"/>
<rect x="3.03" y="5.03" width="0.94" height="0.94" rx="0.25" fill="url(#tileShadeB)"/>
<rect x="4.03" y="-1.97" width="0.94" height="0.94" rx="0.25" fill="#3e6461"/>
<rect x="4.03" y="-1.97" width="0.94" height="0.94" rx="0.25" fill="url(#tileShadeB)"/>
<rect x="4.03" y="-0.97" width="0.94" height="0.94" rx="0.25" fill="#3b615e"/>
<rect x="4.03" y="-0.97" width="0.94" height="0.94" rx="0.25" fill="url(#tileShadeB)"/>
<rect x="4.03" y="0.03" width="0.94" height="0.94" rx="0.25" fill="#446a67"/>
<rect x="4.03" y="0.03" width="0.94" height="0.94" rx="0.25" fill="url(#tileShadeB)"/>
<rect x="4.03" y="1.03" width="0.94" height="0.94" rx="0.25" fill="#618784"/>
<rect x="4.03" y="1.03" width="0.94" height="0.94" rx="0.25" fill="url(#tileShadeB)"/>
<rect x="4.03" y="2.03" width="0.94" height="0.94" rx="0.25" fill="#719794"/>
<rect x="4.03" y="2.03" width="0.94" height="0.94" rx="0.25" fill="url(#tileShadeB)"/>
<rect x="4.03" y="3.03" width="0.94" height="0.94" rx="0.25" fill="#5f8582"/>
<rect x="4.03" y="3.03" width="0.94" height="0.94" rx="0.25" fill="url(#tileShadeB)"/>
<rect x="4.03" y="4.03" width="0.94" height="0.94" rx="0.25" fill="#5c827f"/>
<rect x="4.03" y="4.03" width="0.94" height="0.94" rx="0.25" fill="url(#tileShadeB)"/>
<rect x="4.03" y="5.03" width="0.94" height="0.94" rx="0.25" fill="#779d9a"/>
<rect x="4.03" y="5.03" width="0.94" height="0.94" rx="0.25" fill="url(#tileShadeB)"/>
<rect x="5.03" y="-1.97" width="0.94" height="0.94" rx="0.25" fill="#3f6562"/>
<rect x="5.03" y="-1.97" width="0.94" height="0.94" rx="0.25" fill="url(#tileShadeB)"/>
<rect x="5.03" y="-0.97" width="0.94" height="0.94" rx="0.25" fill="#3d6360"/>
<rect x="5.03" y="-0.97" width="0.94" height="0.94" rx="0.25" fill="url(#tileShadeB)"/>
<rect x="5.03" y="0.03" width="0.94" height="0.94" rx="0.25" fill="#3f6562"/>
<rect x="5.03" y="0.03" width="0.94" height="0.94" rx="0.25" fill="url(#tileShadeB)"/>
<rect x="5.03" y="1.03" width="0.94" height="0.94" rx="0.25" fill="#436966"/>
<rect x="5.03" y="1.03" width="0.94" height="0.94" rx="0.25" fill="url(#tileShadeB)"/>
<rect x="5.03" y="2.03" width="0.94" height="0.94" rx="0.25" fill="#90b6b3"/>
<rect x="5.03" y="2.03" width="0.94" height="0.94" rx="0.25" fill="url(#tileShadeB)"/>
<rect x="5.03" y="3.03" width="0.94" height="0.94" rx="0.25" fill="#789e9b"/>
<rect x="5.03" y="3.03" width="0.94" height="0.94" rx="0.25" fill="url(#tileShadeB)"/>
<rect x="5.03" y="4.03" width="0.94" height="0.94" rx="0.25" fill="#608683"/>
<rect x="5.03" y="4.03" width="0.94" height="0.94" rx="0.25" fill="url(#tileShadeB)"/>
<rect x="5.03" y="5.03" width="0.94" height="0.94" rx="0.25" fill="#618784"/>
<rect x="5.03" y="5.03" width="0.94" height="0.94" rx="0.25" fill="url(#tileShadeB)"/>
<rect x="6.03" y="-2.97" width="0.94" height="0.94" rx="0.25" fill="#3e6461"/>
<rect x="6.03" y="-2.97" width="0.94" height="0.94" rx="0.25" fill="url(#tileShadeB)"/>
<rect x="6.03" y="-1.97" width="0.94" height="0.94" rx="0.25" fill="#406663"/>
<rect x="6.03" y="-1.97" width="0.94" height="0.94" rx="0.25" fill="url(#tileShadeB)"/>
<rect x="6.03" y="-0.97" width="0.94" height="0.94" rx="0.25" fill="#476d6a"/>
<rect x="6.03" y="-0.97" width="0.94" height="0.94" rx="0.25" fill="url(#tileShadeB)"/>
<rect x="6.03" y="0.03" width="0.94" height="0.94" rx="0.25" fill="#446a67"/>
<rect x="6.03" y="0.03" width="0.94" height="0.94" rx="0.25" fill="url(#tileShadeB)"/>
<rect x="6.03" y="1.03" width="0.94" height="0.94" rx="0.25" fill="#466c69"/>
<rect x="6.03" y="1.03" width="0.94" height="0.94" rx="0.25" fill="url(#tileShadeB)"/>
<rect x="6.03" y="2.03" width="0.94" height="0.94" rx="0.25" fill="#3b615e"/>
<rect x="6.03" y="2.03" width="0.94" height="0.94" rx="0.25" fill="url(#tileShadeB)"/>
<rect x="6.03" y="3.03" width="0.94" height="0.94" rx="0.25" fill="#3d6360"/>
<rect x="6.03" y="3.03" width="0.94" height="0.94" rx="0.25" fill="url(#tileShadeB)"/>
<rect x="6.03" y="4.03" width="0.94" height="0.94" rx="0.25" fill="#7aa09d"/>
<rect x="6.03" y="4.03" width="0.94" height="0.94" rx="0.25" fill="url(#tileShadeB)"/>
<rect x="6.03" y="5.03" width="0.94" height="0.94" rx="0.25" fill="#6d9390"/>
<rect x="6.03" y="5.03" width="0.94" height="0.94" rx="0.25" fill="url(#tileShadeB)"/>
<rect x="7.03" y="0.03" width="0.94" height="0.94" rx="0.25" fill="#3d6360"/>
<rect x="7.03" y="0.03" width="0.94" height="0.94" rx="0.25" fill="url(#tileShadeB)"/>
<rect x="7.03" y="1.03" width="0.94" height="0.94" rx="0.25" fill="#436966"/>
<rect x="7.03" y="1.03" width="0.94" height="0.94" rx="0.25" fill="url(#tileShadeB)"/>
<rect x="7.03" y="2.03" width="0.94" height="0.94" rx="0.25" fill="#3f6562"/>
<rect x="7.03" y="2.03" width="0.94" height="0.94" rx="0.25" fill="url(#tileShadeB)"/>
<rect x="7.03" y="3.03" width="0.94" height="0.94" rx="0.25" fill="#426865"/>
<rect x="7.03" y="3.03" width="0.94" height="0.94" rx="0.25" fill="url(#tileShadeB)"/>
<rect x="7.03" y="4.03" width="0.94" height="0.94" rx="0.25" fill="#3c625f"/>
<rect x="7.03" y="4.03" width="0.94" height="0.94" rx="0.25" fill="url(#tileShadeB)"/>
<rect x="8.03" y="4.03" width="0.94" height="0.94" rx="0.25" fill="#446a67"/>
<rect x="8.03" y="4.03" width="0.94" height="0.94" rx="0.25" fill="url(#tileShadeB)"/>
</g></g></g>
<text x="97.5" y="23.6" font-size="14" text-anchor="start" fill="#fff" font-weight="bold" >b</text>
<rect x="101.2" y="68.4" width="14" height="2.2" fill="#fff"/>
<rect x="95.9" y="78.2" width="78.4" height="65" fill="#fff" stroke="#5d7b79" stroke-width="1.3"/>
<path d="M108.5,93 Q108,92 110,91 L124,87.5 Q125,87 127,87 L154,89.5 Q157,90 155,92 L143,95 Q141.5,95.5 140,95.5 Z" fill="url(#gTop)"/>
<path d="M107.5,94 Q107.5,92.5 109.5,92.5 L140,95 Q142,95.2 142,97 L142,130.5 Q142,132.5 140,132.3 L110,130.5 Q107.5,130.3 107.5,127.5 Z" fill="url(#gFront)"/>
<path d="M141.5,95.5 L154.5,90.2 Q158.3,89.3 158.3,92 L158.3,122.5 Q158.3,124.5 156,125.2 L143,132 Q141.5,132.5 141.5,130.5 Z" fill="url(#gRight)"/>
<text x="172.2" y="140.3" font-size="10" text-anchor="end" fill="#56706f" font-weight="normal" >{100}</text>
<text x="190.5" y="10.4" font-size="14" text-anchor="start" fill="#111" font-weight="bold" >c</text>
<rect x="221.3" y="9.4" width="121.9" height="133.8" fill="none" stroke="#383838" stroke-width="1.3"/>
<line x1="221.3" y1="9.4" x2="221.3" y2="143.2" stroke="#5a5a5a" stroke-width="1.3" />
<line x1="221.3" y1="9.5" x2="224.1" y2="9.5" stroke="#505050" stroke-width="1.3" />
<text x="216.8" y="13.1" font-size="10" text-anchor="end" fill="#1c1c1c" font-weight="normal" >10</text>
<line x1="221.3" y1="39.83" x2="224.1" y2="39.83" stroke="#505050" stroke-width="1.3" />
<text x="216.8" y="43.43" font-size="10" text-anchor="end" fill="#1c1c1c" font-weight="normal" >5</text>
<line x1="221.3" y1="70.15" x2="224.1" y2="70.15" stroke="#505050" stroke-width="1.3" />
<text x="216.8" y="73.75" font-size="10" text-anchor="end" fill="#1c1c1c" font-weight="normal" >0</text>
<line x1="221.3" y1="100.48" x2="224.1" y2="100.48" stroke="#505050" stroke-width="1.3" />
<text x="216.8" y="104.08" font-size="10" text-anchor="end" fill="#1c1c1c" font-weight="normal" >−5</text>
<line x1="221.3" y1="130.8" x2="224.1" y2="130.8" stroke="#505050" stroke-width="1.3" />
<text x="216.8" y="134.4" font-size="10" text-anchor="end" fill="#1c1c1c" font-weight="normal" >−10</text>
<line x1="221.3" y1="24.66" x2="223.1" y2="24.66" stroke="#505050" stroke-width="1.3" />
<line x1="221.3" y1="54.99" x2="223.1" y2="54.99" stroke="#505050" stroke-width="1.3" />
<line x1="221.3" y1="85.31" x2="223.1" y2="85.31" stroke="#505050" stroke-width="1.3" />
<line x1="221.3" y1="115.64" x2="223.1" y2="115.64" stroke="#505050" stroke-width="1.3" />
<line x1="221.3" y1="143.2" x2="221.3" y2="140.4" stroke="#505050" stroke-width="1.3" />
<text x="221.3" y="155.2" font-size="10" text-anchor="middle" fill="#1c1c1c" font-weight="normal" >0.35</text>
<line x1="260.85" y1="143.2" x2="260.85" y2="140.4" stroke="#505050" stroke-width="1.3" />
<text x="260.85" y="155.2" font-size="10" text-anchor="middle" fill="#1c1c1c" font-weight="normal" >0.40</text>
<line x1="300.4" y1="143.2" x2="300.4" y2="140.4" stroke="#505050" stroke-width="1.3" />
<text x="300.4" y="155.2" font-size="10" text-anchor="middle" fill="#1c1c1c" font-weight="normal" >0.45</text>
<line x1="339.95" y1="143.2" x2="339.95" y2="140.4" stroke="#505050" stroke-width="1.3" />
<text x="339.95" y="155.2" font-size="10" text-anchor="middle" fill="#1c1c1c" font-weight="normal" >0.50</text>
<line x1="241.08" y1="143.2" x2="241.08" y2="141.4" stroke="#505050" stroke-width="1.3" />
<line x1="280.62" y1="143.2" x2="280.62" y2="141.4" stroke="#505050" stroke-width="1.3" />
<line x1="320.18" y1="143.2" x2="320.18" y2="141.4" stroke="#505050" stroke-width="1.3" />
<text x="199.4" y="75.6" font-size="10" text-anchor="middle" fill="#1c1c1c" transform="rotate(-90 199.4 75.6)">Current (μA)</text>
<text x="280.3" y="169.3" font-size="9.8" text-anchor="middle" fill="#1c1c1c"><tspan font-style="italic">E</tspan> (V) vs. SCE</text>
<path d="M238.9,134 C239.07,131.53 239.47,125.53 239.9,119.2 C240.33,112.87 240.68,103.17 241.5,96 C242.32,88.83 243.42,82.8 244.8,76.2 C246.18,69.6 248.13,62.18 249.8,56.4 C251.47,50.62 253.4,45.07 254.8,41.5 C256.2,37.93 257.33,36.27 258.2,35 C259.07,33.73 259.37,33.97 260,33.9 C260.63,33.83 261.22,34.12 262,34.6 C262.78,35.08 263.53,35.73 264.7,36.8 C265.87,37.87 267.35,39.4 269,41 C270.65,42.6 272.02,44.18 274.6,46.4 C277.18,48.62 280.65,52.13 284.5,54.3 C288.35,56.47 292.18,58.17 297.7,59.4 C303.22,60.63 311.27,61.13 317.6,61.7 C323.93,62.27 332.1,62.42 335.7,62.8 C339.3,63.18 338.48,63.22 339.2,64 C339.92,64.78 340.12,66.4 340,67.5 C339.88,68.6 339.33,69.92 338.5,70.6 C337.67,71.28 337.42,71.33 335,71.6 C332.58,71.87 330.22,71.72 324,72.2 C317.78,72.68 305.93,73.4 297.7,74.5 C289.47,75.6 280.65,77.13 274.6,78.8 C268.55,80.47 264.7,82.18 261.4,84.5 C258.1,86.82 257.02,89.12 254.8,92.7 C252.58,96.28 250.03,101.58 248.1,106 C246.17,110.42 244.55,115.03 243.2,119.2 C241.85,123.37 240.72,128.53 240,131 C239.28,133.47 239.08,133.5 238.9,134" fill="none" stroke="#138484" stroke-width="2.0" stroke-linejoin="round" stroke-linecap="round" />
<text x="359.5" y="10.5" font-size="14" text-anchor="start" fill="#111" font-weight="bold" >d</text>
<rect x="386.5" y="9.6" width="121.4" height="133.5" fill="none" stroke="#1e1e1e" stroke-width="1.25"/>
<line x1="386.5" y1="135.7" x2="389.7" y2="135.7" stroke="#1e1e1e" stroke-width="1.25" />
<text x="382.3" y="139.3" font-size="10" text-anchor="end" fill="#1c1c1c" font-weight="normal" >0</text>
<line x1="386.5" y1="104.2" x2="389.7" y2="104.2" stroke="#1e1e1e" stroke-width="1.25" />
<text x="382.3" y="107.8" font-size="10" text-anchor="end" fill="#1c1c1c" font-weight="normal" >1</text>
<line x1="386.5" y1="72.7" x2="389.7" y2="72.7" stroke="#1e1e1e" stroke-width="1.25" />
<text x="382.3" y="76.3" font-size="10" text-anchor="end" fill="#1c1c1c" font-weight="normal" >2</text>
<line x1="386.5" y1="41.2" x2="389.7" y2="41.2" stroke="#1e1e1e" stroke-width="1.25" />
<text x="382.3" y="44.8" font-size="10" text-anchor="end" fill="#1c1c1c" font-weight="normal" >3</text>
<line x1="386.5" y1="9.7" x2="389.7" y2="9.7" stroke="#1e1e1e" stroke-width="1.25" />
<text x="382.3" y="13.3" font-size="10" text-anchor="end" fill="#1c1c1c" font-weight="normal" >4</text>
<line x1="386.5" y1="119.95" x2="388.5" y2="119.95" stroke="#1e1e1e" stroke-width="1.25" />
<line x1="386.5" y1="88.45" x2="388.5" y2="88.45" stroke="#1e1e1e" stroke-width="1.25" />
<line x1="386.5" y1="56.95" x2="388.5" y2="56.95" stroke="#1e1e1e" stroke-width="1.25" />
<line x1="386.5" y1="25.45" x2="388.5" y2="25.45" stroke="#1e1e1e" stroke-width="1.25" />
<line x1="390.5" y1="143.1" x2="390.5" y2="139.9" stroke="#1e1e1e" stroke-width="1.25" />
<text x="390.5" y="155.2" font-size="10" text-anchor="middle" fill="#1c1c1c" font-weight="normal" >500</text>
<line x1="413.1" y1="143.1" x2="413.1" y2="139.9" stroke="#1e1e1e" stroke-width="1.25" />
<text x="413.1" y="155.2" font-size="10" text-anchor="middle" fill="#1c1c1c" font-weight="normal" >550</text>
<line x1="435.7" y1="143.1" x2="435.7" y2="139.9" stroke="#1e1e1e" stroke-width="1.25" />
<text x="435.7" y="155.2" font-size="10" text-anchor="middle" fill="#1c1c1c" font-weight="normal" >600</text>
<line x1="458.3" y1="143.1" x2="458.3" y2="139.9" stroke="#1e1e1e" stroke-width="1.25" />
<text x="458.3" y="155.2" font-size="10" text-anchor="middle" fill="#1c1c1c" font-weight="normal" >650</text>
<line x1="480.9" y1="143.1" x2="480.9" y2="139.9" stroke="#1e1e1e" stroke-width="1.25" />
<text x="480.9" y="155.2" font-size="10" text-anchor="middle" fill="#1c1c1c" font-weight="normal" >700</text>
<line x1="503.5" y1="143.1" x2="503.5" y2="139.9" stroke="#1e1e1e" stroke-width="1.25" />
<text x="503.5" y="155.2" font-size="10" text-anchor="middle" fill="#1c1c1c" font-weight="normal" >750</text>
<line x1="401.8" y1="143.1" x2="401.8" y2="141.1" stroke="#1e1e1e" stroke-width="1.25" />
<line x1="424.4" y1="143.1" x2="424.4" y2="141.1" stroke="#1e1e1e" stroke-width="1.25" />
<line x1="447" y1="143.1" x2="447" y2="141.1" stroke="#1e1e1e" stroke-width="1.25" />
<line x1="469.6" y1="143.1" x2="469.6" y2="141.1" stroke="#1e1e1e" stroke-width="1.25" />
<line x1="492.2" y1="143.1" x2="492.2" y2="141.1" stroke="#1e1e1e" stroke-width="1.25" />
<text x="367.6" y="75.4" font-size="9.8" text-anchor="middle" fill="#1c1c1c" transform="rotate(-90 367.6 75.4)">Scattering intensity</text>
<text x="446.9" y="169.2" font-size="9.8" text-anchor="middle" fill="#1c1c1c" font-weight="normal" >Wavelength (nm)</text>
<polyline points="386.42,127.3 387.17,126.7 388.21,125.86 389.44,124.87 390.77,123.82 392.1,122.8 393.33,121.9 394.5,121.15 395.69,120.48 396.88,119.85 398.05,119.19 399.18,118.46 400.25,117.6 401.27,116.65 402.25,115.65 403.19,114.58 404.1,113.41 404.96,112.13 405.79,110.71 406.56,109.19 407.28,107.57 407.95,105.84 408.61,103.97 409.27,101.95 409.95,99.76 410.65,97.4 411.35,94.89 412.06,92.23 412.76,89.42 413.47,86.48 414.17,83.4 414.91,80.04 415.67,77.21 416.44,73.41 417.18,69.67 417.86,66.17 418.47,63.09 418.97,60.47 419.39,58.17 419.76,56.1 420.1,54.15 420.44,52.21 420.8,50.18 421.19,48.04 421.58,45.87 421.98,43.72 422.37,41.65 422.76,39.7 423.15,37.94 423.55,36.33 423.96,34.83 424.36,33.44 424.76,32.19 425.16,31.08 425.56,30.13 425.96,29.34 426.35,28.68 426.75,28.16 427.14,27.77 427.52,27.51 426.1,27.38 426.47,27.39 426.84,27.55 427.2,27.84 427.57,28.25 427.95,28.75 428.33,29.34 428.71,30.04 429.1,30.86 429.5,31.89 429.9,32.93 430.3,34.04 430.71,35.18 431.1,36.38 431.48,37.65 431.86,39 432.27,40.4 432.71,41.87 433.21,43.4 433.78,45 434.41,46.7 435.08,48.46 435.77,50.26 436.46,52.07 437.13,53.87 437.8,55.65 438.47,57.45 439.14,59.26 439.81,61.07 440.48,62.9 441.15,64.72 441.8,66.57 442.45,68.45 443.1,70.33 443.75,72.19 444.4,74.01 445.05,75.76 445.69,77.41 446.3,78.97 446.92,80.48 447.56,81.99 448.25,83.56 449.03,85.23 449.88,87.05 450.77,88.97 451.72,90.96 452.73,92.94 453.79,94.87 454.92,96.68 456.13,98.43 457.45,100.15 458.83,101.81 460.22,103.38 461.58,104.83 462.88,106.13 464.09,107.21 465.23,108.1 466.36,108.87 467.49,109.58 468.66,110.31 469.91,111.11 471.19,112.01 472.46,112.94 473.78,113.88 475.19,114.82 476.73,115.74 478.44,116.61 480.33,117.44 482.38,118.25 484.57,119.03 486.85,119.79 489.23,120.52 491.66,121.2 494.37,121.88 497.44,122.55 500.59,123.19 503.56,123.76 506.07,124.24 507.87,124.6" fill="none" stroke="#7a1a8a" stroke-width="1.5" stroke-linejoin="round" stroke-linecap="round" />
<polyline points="386.42,128.2 387.17,127.6 388.21,126.76 389.44,125.77 390.77,124.72 392.1,123.7 393.33,122.8 394.5,122.05 395.69,121.38 396.88,120.75 398.05,120.09 399.18,119.36 400.25,118.5 401.27,117.55 402.25,116.55 403.19,115.48 404.1,114.31 404.96,113.03 405.79,111.61 406.56,110.09 407.28,108.47 407.95,106.73 408.61,104.87 409.27,102.85 409.95,100.66 410.65,98.3 411.35,95.78 412.06,93.12 412.76,90.31 413.47,87.36 414.17,84.28 414.91,80.91 415.67,77.24 416.44,73.44 417.18,69.71 417.86,66.22 418.47,63.14 418.97,60.53 419.39,58.24 419.76,56.18 420.1,54.23 420.44,52.3 420.8,50.28 421.19,48.16 421.58,46 421.98,43.86 422.37,41.8 422.76,39.88 423.15,38.13 423.55,36.54 423.96,35.05 424.36,33.67 424.76,32.43 425.16,31.34 425.56,30.4 425.96,29.62 426.35,28.97 426.75,28.45 427.14,28.07 427.52,27.81 426.1,27.68 426.47,27.7 426.84,27.85 427.2,28.14 427.57,28.54 427.95,29.04 428.33,29.62 428.71,30.31 429.1,31.12 429.5,32.11 429.9,33.13 430.3,34.21 430.71,35.34 431.1,36.52 431.48,37.78 431.86,39.1 432.27,40.49 432.71,41.93 433.21,43.44 433.78,45.03 434.41,46.71 435.08,48.45 435.77,50.23 436.46,52.03 437.13,53.81 437.8,55.59 438.47,57.37 439.14,59.17 439.81,60.97 440.48,62.79 441.15,64.6 441.8,66.44 442.45,68.31 443.1,70.18 443.75,72.04 444.4,73.85 445.05,75.6 445.69,77.25 446.3,78.8 446.92,80.3 447.56,81.82 448.25,83.38 449.03,85.05 449.88,86.86 450.77,88.79 451.72,90.77 452.73,92.75 453.79,94.67 454.92,96.49 456.13,98.23 457.45,99.95 458.83,101.61 460.22,103.19 461.58,104.64 462.88,105.93 464.09,107.01 465.23,107.9 466.36,108.67 467.49,109.38 468.66,110.11 469.91,110.91 471.19,111.81 472.46,112.74 473.78,113.68 475.19,114.62 476.73,115.54 478.44,116.41 480.33,117.24 482.38,118.05 484.57,118.83 486.85,119.59 489.23,120.32 491.66,121 494.37,121.68 497.44,122.35 500.59,122.99 503.56,123.56 506.07,124.04 507.87,124.4" fill="none" stroke="#1e1e1e" stroke-width="1.5" stroke-linejoin="round" stroke-linecap="round" />
<polyline points="386.42,128.7 387.17,128.1 388.21,127.26 389.44,126.27 390.77,125.22 392.1,124.2 393.33,123.3 394.5,122.55 395.69,121.88 396.88,121.25 398.05,120.59 399.18,119.86 400.25,119 401.27,118.05 402.25,117.05 403.19,115.97 404.1,114.81 404.96,113.53 405.79,112.11 406.56,110.58 407.28,108.96 407.95,107.23 408.61,105.36 409.27,103.34 409.95,101.15 410.65,98.78 411.35,96.26 412.06,93.59 412.76,90.77 413.47,87.81 414.17,84.71 414.91,81.33 415.67,77.17 416.44,73.35 417.18,69.59 417.86,66.07 418.47,62.97 418.97,60.33 419.39,58.01 419.76,55.92 420.1,53.95 420.44,51.99 420.8,49.94 421.19,47.77 421.58,45.57 421.98,43.38 422.37,41.28 422.76,39.3 423.15,37.5 423.55,35.86 423.96,34.32 424.36,32.9 424.76,31.62 425.16,30.48 425.56,29.51 425.96,28.69 426.35,28.01 426.75,27.47 427.14,27.07 427.52,26.8 426.1,26.67 426.47,26.68 426.84,26.85 427.2,27.15 427.57,27.56 427.95,28.08 428.33,28.69 428.71,29.41 429.1,30.25 429.5,31.38 429.9,32.46 430.3,33.61 430.71,34.8 431.1,36.04 431.48,37.35 431.86,38.73 432.27,40.18 432.71,41.69 433.21,43.26 433.78,44.9 434.41,46.64 435.08,48.44 435.77,50.27 436.46,52.12 437.13,53.95 437.8,55.76 438.47,57.59 439.14,59.42 439.81,61.26 440.48,63.1 441.15,64.94 441.8,66.81 442.45,68.7 443.1,70.6 443.75,72.48 444.4,74.31 445.05,76.07 445.69,77.73 446.3,79.29 446.92,80.81 447.56,82.33 448.25,83.91 449.03,85.59 449.88,87.41 450.77,89.34 451.72,91.33 452.73,93.31 453.79,95.25 454.92,97.07 456.13,98.81 457.45,100.54 458.83,102.2 460.22,103.78 461.58,105.23 462.88,106.52 464.09,107.61 465.23,108.5 466.36,109.27 467.49,109.98 468.66,110.7 469.91,111.51 471.19,112.41 472.46,113.34 473.78,114.28 475.19,115.22 476.73,116.13 478.44,117 480.33,117.84 482.38,118.65 484.57,119.43 486.85,120.19 489.23,120.91 491.66,121.6 494.37,122.28 497.44,122.95 500.59,123.59 503.56,124.16 506.07,124.64 507.87,125" fill="none" stroke="#17908e" stroke-width="1.5" stroke-linejoin="round" stroke-linecap="round" />
<polyline points="386.4,128.2 387.15,127.6 388.19,126.76 389.42,125.77 390.74,124.72 392.07,123.7 393.3,122.8 394.47,122.05 395.65,121.38 396.84,120.74 398,120.09 399.13,119.35 400.2,118.5 401.21,117.55 402.19,116.54 403.12,115.47 404.02,114.3 404.88,113.02 405.7,111.6 406.46,110.07 407.17,108.44 407.84,106.71 408.49,104.83 409.13,102.8 409.8,100.6 410.48,98.22 411.17,95.68 411.85,92.99 412.53,90.14 413.22,87.14 413.9,84 414.61,80.55 415.34,76.77 416.07,72.84 416.77,68.94 417.43,65.27 418,62 418.48,59.2 418.87,56.74 419.22,54.5 419.54,52.37 419.86,50.24 420.2,48 420.57,45.61 420.93,43.17 421.29,40.72 421.66,38.33 422.03,36.07 422.4,34 422.78,32.09 423.16,30.28 423.54,28.59 423.93,27.06 424.32,25.68 424.7,24.5 425.08,23.5 425.47,22.67 425.86,22 426.24,21.5 426.62,21.17 427,21 427.37,21.02 427.74,21.22 428.1,21.59 428.46,22.11 428.83,22.75 429.2,23.5 429.58,24.38 429.96,25.41 430.34,26.56 430.72,27.81 431.11,29.14 431.5,30.5 431.88,31.91 432.24,33.4 432.61,34.96 432.99,36.59 433.42,38.27 433.9,40 434.45,41.81 435.06,43.71 435.71,45.67 436.37,47.66 437.04,49.64 437.7,51.6 438.35,53.53 439,55.47 439.65,57.41 440.3,59.34 440.95,61.27 441.6,63.2 442.24,65.14 442.87,67.11 443.5,69.07 444.13,71 444.76,72.89 445.4,74.7 446.02,76.4 446.62,78 447.23,79.54 447.86,81.09 448.54,82.69 449.3,84.4 450.13,86.25 451.01,88.2 451.95,90.21 452.94,92.22 453.99,94.17 455.1,96 456.31,97.76 457.61,99.49 458.98,101.16 460.36,102.74 461.71,104.2 463,105.5 464.2,106.59 465.34,107.48 466.46,108.25 467.59,108.96 468.76,109.69 470,110.5 471.28,111.4 472.55,112.33 473.86,113.27 475.26,114.21 476.79,115.13 478.5,116 480.39,116.83 482.44,117.64 484.62,118.43 486.9,119.19 489.27,119.91 491.7,120.6 494.41,121.28 497.48,121.95 500.62,122.59 503.59,123.16 506.1,123.64 507.9,124" fill="none" stroke="#3030ec" stroke-width="1.5" stroke-linejoin="round" stroke-linecap="round" />
<circle cx="426.8" cy="25" r="11" fill="none" stroke="#9a9a9a" stroke-width="0.8" stroke-dasharray="1.2,1.1"/>
<rect x="449.6" y="9.6" width="58.3" height="59.6" fill="#fff" stroke="none"/>
<line x1="449.6" y1="9.6" x2="449.6" y2="69.2" stroke="#444" stroke-width="0.9" stroke-dasharray="1.6,1.3"/>
<line x1="449.6" y1="69.2" x2="507.9" y2="69.2" stroke="#444" stroke-width="0.9" stroke-dasharray="1.6,1.3"/>
<line x1="386.5" y1="9.6" x2="507.9" y2="9.6" stroke="#1e1e1e" stroke-width="1.25" />
<line x1="507.9" y1="9.6" x2="507.9" y2="70" stroke="#1e1e1e" stroke-width="1.25" />
<polyline points="451.3,69.2 452.65,64.07 454,59.08 455.35,54.27 456.7,49.65 458.05,45.23 459.4,41.03 460.75,37.06 462.1,33.33 463.45,29.85 464.8,26.65 466.15,23.71 467.5,21.07 468.85,18.71 470.2,16.66 471.55,14.91 472.9,13.47 474.25,12.35 475.6,11.54 476.95,11.06 478.3,10.9 479.65,11.06 481,11.54 482.35,12.35 483.7,13.47 485.05,14.91 486.4,16.66 487.75,18.71 489.1,21.07 490.45,23.71 491.8,26.65 493.15,29.85 494.5,33.33 495.85,37.06 497.2,41.03 498.55,45.23 499.9,49.65 501.25,54.27 502.6,59.08 503.95,64.07 505.3,69.2" fill="none" stroke="#3030ec" stroke-width="1.15" stroke-linejoin="round" stroke-linecap="round" />
<polyline points="457.3,69.2 458.27,66.5 459.25,63.87 460.22,61.34 461.19,58.91 462.16,56.58 463.13,54.36 464.11,52.27 465.08,50.31 466.05,48.48 467.02,46.79 468,45.25 468.97,43.85 469.94,42.61 470.92,41.53 471.89,40.61 472.86,39.85 473.83,39.26 474.81,38.84 475.78,38.58 476.75,38.5 477.72,38.58 478.69,38.84 479.67,39.26 480.64,39.85 481.61,40.61 482.58,41.53 483.56,42.61 484.53,43.85 485.5,45.25 486.48,46.79 487.45,48.48 488.42,50.31 489.39,52.27 490.37,54.36 491.34,56.58 492.31,58.91 493.28,61.34 494.25,63.87 495.23,66.5 496.2,69.2" fill="none" stroke="#17908e" stroke-width="1.15" stroke-linejoin="round" stroke-linecap="round" />
<polyline points="457.9,69.2 458.81,67.14 459.72,65.14 460.64,63.21 461.55,61.35 462.46,59.58 463.38,57.89 464.29,56.3 465.2,54.8 466.11,53.41 467.02,52.12 467.94,50.94 468.85,49.88 469.76,48.94 470.67,48.11 471.59,47.41 472.5,46.83 473.41,46.38 474.32,46.06 475.24,45.86 476.15,45.8 477.06,45.86 477.97,46.06 478.89,46.38 479.8,46.83 480.71,47.41 481.62,48.11 482.54,48.94 483.45,49.88 484.36,50.94 485.27,52.12 486.19,53.41 487.1,54.8 488.01,56.3 488.92,57.89 489.84,59.58 490.75,61.35 491.66,63.21 492.57,65.14 493.49,67.14 494.4,69.2" fill="none" stroke="#1e1e1e" stroke-width="1.15" stroke-linejoin="round" stroke-linecap="round" />
<polyline points="458.2,69.2 459.1,67.16 460,65.17 460.9,63.26 461.8,61.42 462.7,59.66 463.6,57.99 464.5,56.41 465.4,54.92 466.3,53.54 467.2,52.27 468.1,51.1 469,50.05 469.9,49.11 470.8,48.29 471.7,47.6 472.6,47.02 473.5,46.58 474.4,46.26 475.3,46.06 476.2,46 477.1,46.06 478,46.26 478.9,46.58 479.8,47.02 480.7,47.6 481.6,48.29 482.5,49.11 483.4,50.05 484.3,51.1 485.2,52.27 486.1,53.54 487,54.92 487.9,56.41 488.8,57.99 489.7,59.66 490.6,61.42 491.5,63.26 492.4,65.17 493.3,67.16 494.2,69.2" fill="none" stroke="#7a1a8a" stroke-width="1.15" stroke-linejoin="round" stroke-linecap="round" />
<line x1="464.3" y1="74.3" x2="471.7" y2="74.3" stroke="#3030ec" stroke-width="1.3" />
<text x="476" y="77.6" font-size="8.5" text-anchor="start" fill="#3030ec" font-weight="normal" >0.365 V</text>
<line x1="464.3" y1="83.1" x2="471.7" y2="83.1" stroke="#17908e" stroke-width="1.3" />
<text x="476" y="86.4" font-size="8.5" text-anchor="start" fill="#17908e" font-weight="normal" >0.375 V</text>
<line x1="464.3" y1="91.9" x2="471.7" y2="91.9" stroke="#7a1a8a" stroke-width="1.3" />
<text x="476" y="95.2" font-size="8.5" text-anchor="start" fill="#7a1a8a" font-weight="normal" >0.400 V</text>
<line x1="464.3" y1="100.7" x2="471.7" y2="100.7" stroke="#1e1e1e" stroke-width="1.3" />
<text x="476" y="104" font-size="8.5" text-anchor="start" fill="#1e1e1e" font-weight="normal" >0.500 V</text>
<text x="524" y="10.6" font-size="14" text-anchor="start" fill="#111" font-weight="bold" >e</text>
<rect x="555.5" y="9.4" width="121.2" height="133.6" fill="none" stroke="#1e1e1e" stroke-width="1.25"/>
<line x1="555.5" y1="9.4" x2="558.8" y2="9.4" stroke="#1e1e1e" stroke-width="1.25" />
<text x="551" y="13" font-size="10" text-anchor="end" fill="#1c1c1c" font-weight="normal" >4</text>
<line x1="555.5" y1="41.7" x2="558.8" y2="41.7" stroke="#1e1e1e" stroke-width="1.25" />
<text x="551" y="45.3" font-size="10" text-anchor="end" fill="#1c1c1c" font-weight="normal" >2</text>
<line x1="555.5" y1="74" x2="558.8" y2="74" stroke="#1e1e1e" stroke-width="1.25" />
<text x="551" y="77.6" font-size="10" text-anchor="end" fill="#1c1c1c" font-weight="normal" >0</text>
<line x1="555.5" y1="106.3" x2="558.8" y2="106.3" stroke="#1e1e1e" stroke-width="1.25" />
<text x="551" y="109.9" font-size="10" text-anchor="end" fill="#1c1c1c" font-weight="normal" >−2</text>
<line x1="555.5" y1="138.6" x2="558.8" y2="138.6" stroke="#1e1e1e" stroke-width="1.25" />
<text x="551" y="142.2" font-size="10" text-anchor="end" fill="#1c1c1c" font-weight="normal" >−4</text>
<line x1="555.5" y1="25.55" x2="557.5" y2="25.55" stroke="#1e1e1e" stroke-width="1.25" />
<line x1="555.5" y1="57.85" x2="557.5" y2="57.85" stroke="#1e1e1e" stroke-width="1.25" />
<line x1="555.5" y1="90.15" x2="557.5" y2="90.15" stroke="#1e1e1e" stroke-width="1.25" />
<line x1="555.5" y1="122.45" x2="557.5" y2="122.45" stroke="#1e1e1e" stroke-width="1.25" />
<line x1="555.6" y1="143" x2="555.6" y2="139.7" stroke="#1e1e1e" stroke-width="1.25" />
<text x="555.6" y="155.2" font-size="10" text-anchor="middle" fill="#1c1c1c" font-weight="normal" >0.35</text>
<line x1="594.8" y1="143" x2="594.8" y2="139.7" stroke="#1e1e1e" stroke-width="1.25" />
<text x="594.8" y="155.2" font-size="10" text-anchor="middle" fill="#1c1c1c" font-weight="normal" >0.40</text>
<line x1="634" y1="143" x2="634" y2="139.7" stroke="#1e1e1e" stroke-width="1.25" />
<text x="634" y="155.2" font-size="10" text-anchor="middle" fill="#1c1c1c" font-weight="normal" >0.45</text>
<line x1="673.2" y1="143" x2="673.2" y2="139.7" stroke="#1e1e1e" stroke-width="1.25" />
<text x="673.2" y="155.2" font-size="10" text-anchor="middle" fill="#1c1c1c" font-weight="normal" >0.50</text>
<line x1="575.2" y1="143" x2="575.2" y2="141" stroke="#1e1e1e" stroke-width="1.25" />
<line x1="614.4" y1="143" x2="614.4" y2="141" stroke="#1e1e1e" stroke-width="1.25" />
<line x1="653.6" y1="143" x2="653.6" y2="141" stroke="#1e1e1e" stroke-width="1.25" />
<text x="532.1" y="76.2" font-size="9.8" text-anchor="middle" fill="#1c1c1c" transform="rotate(-90 532.1 76.2)">d<tspan font-style="italic">I</tspan>/d<tspan font-style="italic">t</tspan> (a.u)</text>
<text x="616" y="169.3" font-size="9.8" text-anchor="middle" fill="#1c1c1c"><tspan font-style="italic">E</tspan> (V) vs. SCE</text>
<polyline points="568.5,125.6 569.9,125 571,118 571.7,107 573.8,96 574.3,76.3 575.4,59.8 576.8,48.5 578.6,43.6 580,37.7 581.3,28.5 582.7,24.9 584.5,28.5 585.9,32.9 587.3,39.8 588.6,48.3 590.3,56.3 591.7,61.8 593.7,66 595.8,67.4 597.9,63.3 599,59.4 600.2,61.1 601.3,65.3 603.4,68.8 605.5,72.2 607.5,73.6 609,72.56 610.6,72.88 612.2,72.17 613.8,72.34 615.4,72.25 617,71.23 618.6,71.39 620.2,73.37 621.8,72.56 623.4,72.76 625,74.39 626.6,73.36 628.2,74.15 629.8,73.5 631.4,73.9 633,72.98 634.6,73.97 636.2,74.53 637.8,74.07 639.4,74.78 641,74.86 642.6,73.72 644.2,74.87 645.8,74.04 647.4,72.91 649,71.96 650.6,73.55 652.2,73.07 653.8,74.09 655.4,74.94 657,74.97 658.6,75.42 660.2,74.21 661.8,74.78 663.4,73.84 665,74.68 666.6,74.47 668.2,72.54 669.8,72.09 671.4,71.72 673,72.83" fill="none" stroke="#168a88" stroke-width="1.0" stroke-linejoin="round" stroke-linecap="round" />
<polyline points="566.6,122.5 568,118.7 569.9,115.3 571.7,107 572.7,92.2 574.5,91.5 577.2,90.5 578.6,89.4 580,86.4 580.7,83.9 581.3,80.9 582.7,77.7 584.8,76.3 587.5,75.7 589.6,72.9 593,74.3 595.8,72.9 600,72.9 604,73.6 607.5,75.7 609.5,74.18 611.1,74.23 612.7,73.23 614.3,73.38 615.9,73.08 617.5,73.17 619.1,73.93 620.7,74.28 622.3,75.24 623.9,75.01 625.5,75.56 627.1,75.45 628.7,75.78 630.3,75.21 631.9,74.27 633.5,75.71 635.1,75.94 636.7,75.96 638.3,75.54 639.9,76.1 641.5,75.29 643.1,76.52 644.7,75.66 646.3,74.55 647.9,73.58 649.5,74.84 651.1,75.16 652.7,73.75 654.3,75.72 655.9,75.45 657.5,75.19 659.1,75.43 660.7,76.18 662.3,76.15 663.9,74.28 665.5,75.33 667.1,74.01 668.7,74.92 670.3,73.61 671.9,74.21 673.5,74.1" fill="none" stroke="#168a88" stroke-width="1.0" stroke-linejoin="round" stroke-linecap="round" />
<circle cx="568.5" cy="125.6" r="1.5" fill="#168a88"/>
<circle cx="569.9" cy="125" r="1.5" fill="#168a88"/>
<circle cx="571" cy="118" r="1.5" fill="#168a88"/>
<circle cx="571.7" cy="107" r="1.5" fill="#168a88"/>
<circle cx="573.8" cy="96" r="1.5" fill="#168a88"/>
<circle cx="574.3" cy="76.3" r="1.5" fill="#168a88"/>
<circle cx="575.4" cy="59.8" r="1.5" fill="#168a88"/>
<circle cx="576.8" cy="48.5" r="1.5" fill="#168a88"/>
<circle cx="578.6" cy="43.6" r="1.5" fill="#168a88"/>
<circle cx="580" cy="37.7" r="1.5" fill="#168a88"/>
<circle cx="581.3" cy="28.5" r="1.5" fill="#168a88"/>
<circle cx="582.7" cy="24.9" r="1.5" fill="#168a88"/>
<circle cx="584.5" cy="28.5" r="1.5" fill="#168a88"/>
<circle cx="585.9" cy="32.9" r="1.5" fill="#168a88"/>
<circle cx="587.3" cy="39.8" r="1.5" fill="#168a88"/>
<circle cx="588.6" cy="48.3" r="1.5" fill="#168a88"/>
<circle cx="590.3" cy="56.3" r="1.5" fill="#168a88"/>
<circle cx="591.7" cy="61.8" r="1.5" fill="#168a88"/>
<circle cx="593.7" cy="66" r="1.5" fill="#168a88"/>
<circle cx="595.8" cy="67.4" r="1.5" fill="#168a88"/>
<circle cx="597.9" cy="63.3" r="1.5" fill="#168a88"/>
<circle cx="599" cy="59.4" r="1.5" fill="#168a88"/>
<circle cx="600.2" cy="61.1" r="1.5" fill="#168a88"/>
<circle cx="601.3" cy="65.3" r="1.5" fill="#168a88"/>
<circle cx="603.4" cy="68.8" r="1.5" fill="#168a88"/>
<circle cx="605.5" cy="72.2" r="1.5" fill="#168a88"/>
<circle cx="607.5" cy="73.6" r="1.5" fill="#168a88"/>
<circle cx="609" cy="72.56" r="1.5" fill="#168a88"/>
<circle cx="610.6" cy="72.88" r="1.5" fill="#168a88"/>
<circle cx="612.2" cy="72.17" r="1.5" fill="#168a88"/>
<circle cx="613.8" cy="72.34" r="1.5" fill="#168a88"/>
<circle cx="615.4" cy="72.25" r="1.5" fill="#168a88"/>
<circle cx="617" cy="71.23" r="1.5" fill="#168a88"/>
<circle cx="618.6" cy="71.39" r="1.5" fill="#168a88"/>
<circle cx="620.2" cy="73.37" r="1.5" fill="#168a88"/>
<circle cx="621.8" cy="72.56" r="1.5" fill="#168a88"/>
<circle cx="623.4" cy="72.76" r="1.5" fill="#168a88"/>
<circle cx="625" cy="74.39" r="1.5" fill="#168a88"/>
<circle cx="626.6" cy="73.36" r="1.5" fill="#168a88"/>
<circle cx="628.2" cy="74.15" r="1.5" fill="#168a88"/>
<circle cx="629.8" cy="73.5" r="1.5" fill="#168a88"/>
<circle cx="631.4" cy="73.9" r="1.5" fill="#168a88"/>
<circle cx="633" cy="72.98" r="1.5" fill="#168a88"/>
<circle cx="634.6" cy="73.97" r="1.5" fill="#168a88"/>
<circle cx="636.2" cy="74.53" r="1.5" fill="#168a88"/>
<circle cx="637.8" cy="74.07" r="1.5" fill="#168a88"/>
<circle cx="639.4" cy="74.78" r="1.5" fill="#168a88"/>
<circle cx="641" cy="74.86" r="1.5" fill="#168a88"/>
<circle cx="642.6" cy="73.72" r="1.5" fill="#168a88"/>
<circle cx="644.2" cy="74.87" r="1.5" fill="#168a88"/>
<circle cx="645.8" cy="74.04" r="1.5" fill="#168a88"/>
<circle cx="647.4" cy="72.91" r="1.5" fill="#168a88"/>
<circle cx="649" cy="71.96" r="1.5" fill="#168a88"/>
<circle cx="650.6" cy="73.55" r="1.5" fill="#168a88"/>
<circle cx="652.2" cy="73.07" r="1.5" fill="#168a88"/>
<circle cx="653.8" cy="74.09" r="1.5" fill="#168a88"/>
<circle cx="655.4" cy="74.94" r="1.5" fill="#168a88"/>
<circle cx="657" cy="74.97" r="1.5" fill="#168a88"/>
<circle cx="658.6" cy="75.42" r="1.5" fill="#168a88"/>
<circle cx="660.2" cy="74.21" r="1.5" fill="#168a88"/>
<circle cx="661.8" cy="74.78" r="1.5" fill="#168a88"/>
<circle cx="663.4" cy="73.84" r="1.5" fill="#168a88"/>
<circle cx="665" cy="74.68" r="1.5" fill="#168a88"/>
<circle cx="666.6" cy="74.47" r="1.5" fill="#168a88"/>
<circle cx="668.2" cy="72.54" r="1.5" fill="#168a88"/>
<circle cx="669.8" cy="72.09" r="1.5" fill="#168a88"/>
<circle cx="671.4" cy="71.72" r="1.5" fill="#168a88"/>
<circle cx="673" cy="72.83" r="1.5" fill="#168a88"/>
<circle cx="566.6" cy="122.5" r="1.5" fill="#168a88"/>
<circle cx="568" cy="118.7" r="1.5" fill="#168a88"/>
<circle cx="569.9" cy="115.3" r="1.5" fill="#168a88"/>
<circle cx="571.7" cy="107" r="1.5" fill="#168a88"/>
<circle cx="572.7" cy="92.2" r="1.5" fill="#168a88"/>
<circle cx="574.5" cy="91.5" r="1.5" fill="#168a88"/>
<circle cx="577.2" cy="90.5" r="1.5" fill="#168a88"/>
<circle cx="578.6" cy="89.4" r="1.5" fill="#168a88"/>
<circle cx="580" cy="86.4" r="1.5" fill="#168a88"/>
<circle cx="580.7" cy="83.9" r="1.5" fill="#168a88"/>
<circle cx="581.3" cy="80.9" r="1.5" fill="#168a88"/>
<circle cx="582.7" cy="77.7" r="1.5" fill="#168a88"/>
<circle cx="584.8" cy="76.3" r="1.5" fill="#168a88"/>
<circle cx="587.5" cy="75.7" r="1.5" fill="#168a88"/>
<circle cx="589.6" cy="72.9" r="1.5" fill="#168a88"/>
<circle cx="593" cy="74.3" r="1.5" fill="#168a88"/>
<circle cx="595.8" cy="72.9" r="1.5" fill="#168a88"/>
<circle cx="600" cy="72.9" r="1.5" fill="#168a88"/>
<circle cx="604" cy="73.6" r="1.5" fill="#168a88"/>
<circle cx="607.5" cy="75.7" r="1.5" fill="#168a88"/>
<circle cx="609.5" cy="74.18" r="1.5" fill="#168a88"/>
<circle cx="611.1" cy="74.23" r="1.5" fill="#168a88"/>
<circle cx="612.7" cy="73.23" r="1.5" fill="#168a88"/>
<circle cx="614.3" cy="73.38" r="1.5" fill="#168a88"/>
<circle cx="615.9" cy="73.08" r="1.5" fill="#168a88"/>
<circle cx="617.5" cy="73.17" r="1.5" fill="#168a88"/>
<circle cx="619.1" cy="73.93" r="1.5" fill="#168a88"/>
<circle cx="620.7" cy="74.28" r="1.5" fill="#168a88"/>
<circle cx="622.3" cy="75.24" r="1.5" fill="#168a88"/>
<circle cx="623.9" cy="75.01" r="1.5" fill="#168a88"/>
<circle cx="625.5" cy="75.56" r="1.5" fill="#168a88"/>
<circle cx="627.1" cy="75.45" r="1.5" fill="#168a88"/>
<circle cx="628.7" cy="75.78" r="1.5" fill="#168a88"/>
<circle cx="630.3" cy="75.21" r="1.5" fill="#168a88"/>
<circle cx="631.9" cy="74.27" r="1.5" fill="#168a88"/>
<circle cx="633.5" cy="75.71" r="1.5" fill="#168a88"/>
<circle cx="635.1" cy="75.94" r="1.5" fill="#168a88"/>
<circle cx="636.7" cy="75.96" r="1.5" fill="#168a88"/>
<circle cx="638.3" cy="75.54" r="1.5" fill="#168a88"/>
<circle cx="639.9" cy="76.1" r="1.5" fill="#168a88"/>
<circle cx="641.5" cy="75.29" r="1.5" fill="#168a88"/>
<circle cx="643.1" cy="76.52" r="1.5" fill="#168a88"/>
<circle cx="644.7" cy="75.66" r="1.5" fill="#168a88"/>
<circle cx="646.3" cy="74.55" r="1.5" fill="#168a88"/>
<circle cx="647.9" cy="73.58" r="1.5" fill="#168a88"/>
<circle cx="649.5" cy="74.84" r="1.5" fill="#168a88"/>
<circle cx="651.1" cy="75.16" r="1.5" fill="#168a88"/>
<circle cx="652.7" cy="73.75" r="1.5" fill="#168a88"/>
<circle cx="654.3" cy="75.72" r="1.5" fill="#168a88"/>
<circle cx="655.9" cy="75.45" r="1.5" fill="#168a88"/>
<circle cx="657.5" cy="75.19" r="1.5" fill="#168a88"/>
<circle cx="659.1" cy="75.43" r="1.5" fill="#168a88"/>
<circle cx="660.7" cy="76.18" r="1.5" fill="#168a88"/>
<circle cx="662.3" cy="76.15" r="1.5" fill="#168a88"/>
<circle cx="663.9" cy="74.28" r="1.5" fill="#168a88"/>
<circle cx="665.5" cy="75.33" r="1.5" fill="#168a88"/>
<circle cx="667.1" cy="74.01" r="1.5" fill="#168a88"/>
<circle cx="668.7" cy="74.92" r="1.5" fill="#168a88"/>
<circle cx="670.3" cy="73.61" r="1.5" fill="#168a88"/>
<circle cx="671.9" cy="74.21" r="1.5" fill="#168a88"/>
<circle cx="673.5" cy="74.1" r="1.5" fill="#168a88"/>
<line x1="593.7" y1="104.1" x2="587" y2="97.3" stroke="#168a88" stroke-width="1.3" />
<path d="M584.3,94.6 L589.6,96.6 L586.6,99.6 Z" fill="#168a88"/>
<text x="598" y="113.3" font-size="9.6" text-anchor="start" fill="#168a88" font-weight="normal" >0.376 V</text>
<text x="2" y="197.2" font-size="14" text-anchor="start" fill="#111" font-weight="bold" >f</text>
<line x1="41.3" y1="198" x2="287.5" y2="198" stroke="#111" stroke-width="1.45" />
<line x1="41.3" y1="197.3" x2="41.3" y2="332.1" stroke="#111" stroke-width="1.45" />
<line x1="41.3" y1="331.4" x2="287.5" y2="331.4" stroke="#111" stroke-width="1.45" />
<line x1="41.3" y1="312.3" x2="44.9" y2="312.3" stroke="#111" stroke-width="1.45" />
<text x="36.5" y="315.9" font-size="10" text-anchor="end" fill="#1c1c1c" font-weight="normal" >2.5</text>
<line x1="41.3" y1="264.8" x2="44.9" y2="264.8" stroke="#111" stroke-width="1.45" />
<text x="36.5" y="268.4" font-size="10" text-anchor="end" fill="#1c1c1c" font-weight="normal" >3.0</text>
<line x1="41.3" y1="217.3" x2="44.9" y2="217.3" stroke="#111" stroke-width="1.45" />
<text x="36.5" y="220.9" font-size="10" text-anchor="end" fill="#1c1c1c" font-weight="normal" >3.5</text>
<line x1="41.3" y1="288.55" x2="43.5" y2="288.55" stroke="#111" stroke-width="1.45" />
<line x1="41.3" y1="241.05" x2="43.5" y2="241.05" stroke="#111" stroke-width="1.45" />
<line x1="59.6" y1="331.4" x2="59.6" y2="334.2" stroke="#111" stroke-width="1.45" />
<text x="59.6" y="346.8" font-size="10" text-anchor="middle" fill="#1c1c1c" font-weight="normal" >0</text>
<line x1="97.54" y1="331.4" x2="97.54" y2="334.2" stroke="#111" stroke-width="1.45" />
<text x="97.54" y="346.8" font-size="10" text-anchor="middle" fill="#1c1c1c" font-weight="normal" >200</text>
<line x1="135.48" y1="331.4" x2="135.48" y2="334.2" stroke="#111" stroke-width="1.45" />
<text x="135.48" y="346.8" font-size="10" text-anchor="middle" fill="#1c1c1c" font-weight="normal" >400</text>
<line x1="173.42" y1="331.4" x2="173.42" y2="334.2" stroke="#111" stroke-width="1.45" />
<text x="173.42" y="346.8" font-size="10" text-anchor="middle" fill="#1c1c1c" font-weight="normal" >600</text>
<line x1="211.36" y1="331.4" x2="211.36" y2="334.2" stroke="#111" stroke-width="1.45" />
<text x="211.36" y="346.8" font-size="10" text-anchor="middle" fill="#1c1c1c" font-weight="normal" >800</text>
<line x1="249.3" y1="331.4" x2="249.3" y2="334.2" stroke="#111" stroke-width="1.45" />
<text x="249.3" y="346.8" font-size="10" text-anchor="middle" fill="#1c1c1c" font-weight="normal" >1000</text>
<line x1="287.24" y1="331.4" x2="287.24" y2="334.2" stroke="#111" stroke-width="1.45" />
<text x="287.24" y="346.8" font-size="10" text-anchor="middle" fill="#1c1c1c" font-weight="normal" >1200</text>
<line x1="78.57" y1="331.4" x2="78.57" y2="333.4" stroke="#111" stroke-width="1.45" />
<line x1="116.51" y1="331.4" x2="116.51" y2="333.4" stroke="#111" stroke-width="1.45" />
<line x1="154.45" y1="331.4" x2="154.45" y2="333.4" stroke="#111" stroke-width="1.45" />
<line x1="192.39" y1="331.4" x2="192.39" y2="333.4" stroke="#111" stroke-width="1.45" />
<line x1="230.33" y1="331.4" x2="230.33" y2="333.4" stroke="#111" stroke-width="1.45" />
<line x1="268.27" y1="331.4" x2="268.27" y2="333.4" stroke="#111" stroke-width="1.45" />
<line x1="200.6" y1="198.8" x2="200.6" y2="331" stroke="#74c6d8" stroke-width="0.9" stroke-dasharray="2.5,2"/>
<line x1="235.7" y1="198.8" x2="235.7" y2="331" stroke="#74c6d8" stroke-width="0.9" stroke-dasharray="2.5,2"/>
<line x1="287.5" y1="197.3" x2="287.5" y2="332.1" stroke="#2222f0" stroke-width="1.5" />
<line x1="287.5" y1="312.6" x2="283.7" y2="312.6" stroke="#2222f0" stroke-width="1.4" />
<text x="292.5" y="316.2" font-size="10" text-anchor="start" fill="#2222f0" font-weight="normal" >0.35</text>
<line x1="287.5" y1="280.8" x2="283.7" y2="280.8" stroke="#2222f0" stroke-width="1.4" />
<text x="292.5" y="284.4" font-size="10" text-anchor="start" fill="#2222f0" font-weight="normal" >0.40</text>
<line x1="287.5" y1="249" x2="283.7" y2="249" stroke="#2222f0" stroke-width="1.4" />
<text x="292.5" y="252.6" font-size="10" text-anchor="start" fill="#2222f0" font-weight="normal" >0.45</text>
<line x1="287.5" y1="217.2" x2="283.7" y2="217.2" stroke="#2222f0" stroke-width="1.4" />
<text x="292.5" y="220.8" font-size="10" text-anchor="start" fill="#2222f0" font-weight="normal" >0.50</text>
<line x1="287.5" y1="296.7" x2="285.3" y2="296.7" stroke="#2222f0" stroke-width="1.4" />
<line x1="287.5" y1="264.9" x2="285.3" y2="264.9" stroke="#2222f0" stroke-width="1.4" />
<line x1="287.5" y1="233.1" x2="285.3" y2="233.1" stroke="#2222f0" stroke-width="1.4" />
<text x="14.4" y="265.3" font-size="9.8" text-anchor="middle" fill="#1c1c1c" transform="rotate(-90 14.4 265.3)">Scattering intensity</text>
<text x="326" y="263.4" font-size="9.8" text-anchor="middle" fill="#2222f0" transform="rotate(-90 326 263.4)"><tspan font-style="italic">E</tspan> (V) vs. SCE</text>
<text x="164" y="360.5" font-size="9.8" text-anchor="middle" fill="#1c1c1c"><tspan font-style="italic">t</tspan> (s)</text>
<circle cx="59.56" cy="315.22" r="1.6" fill="none" stroke="#168a88" stroke-width="0.85"/>
<circle cx="59.47" cy="318.99" r="1.6" fill="none" stroke="#168a88" stroke-width="0.85"/>
<circle cx="60.94" cy="315.66" r="1.6" fill="none" stroke="#168a88" stroke-width="0.85"/>
<circle cx="60.86" cy="313.08" r="1.6" fill="none" stroke="#168a88" stroke-width="0.85"/>
<circle cx="62.49" cy="316.64" r="1.6" fill="none" stroke="#168a88" stroke-width="0.85"/>
<circle cx="62" cy="312.35" r="1.6" fill="none" stroke="#168a88" stroke-width="0.85"/>
<circle cx="63.86" cy="312.33" r="1.6" fill="none" stroke="#168a88" stroke-width="0.85"/>
<circle cx="63.09" cy="317.15" r="1.6" fill="none" stroke="#168a88" stroke-width="0.85"/>
<circle cx="65.36" cy="319.46" r="1.6" fill="none" stroke="#168a88" stroke-width="0.85"/>
<circle cx="65.02" cy="316.83" r="1.6" fill="none" stroke="#168a88" stroke-width="0.85"/>
<circle cx="65.77" cy="312.86" r="1.6" fill="none" stroke="#168a88" stroke-width="0.85"/>
<circle cx="65.81" cy="315.83" r="1.6" fill="none" stroke="#168a88" stroke-width="0.85"/>
<circle cx="67.34" cy="313.12" r="1.6" fill="none" stroke="#168a88" stroke-width="0.85"/>
<circle cx="67.56" cy="311.84" r="1.6" fill="none" stroke="#168a88" stroke-width="0.85"/>
<circle cx="69.29" cy="315.12" r="1.6" fill="none" stroke="#168a88" stroke-width="0.85"/>
<circle cx="69.09" cy="315.75" r="1.6" fill="none" stroke="#168a88" stroke-width="0.85"/>
<circle cx="70.46" cy="315.6" r="1.6" fill="none" stroke="#168a88" stroke-width="0.85"/>
<circle cx="70.08" cy="315.26" r="1.6" fill="none" stroke="#168a88" stroke-width="0.85"/>
<circle cx="72.15" cy="319.58" r="1.6" fill="none" stroke="#168a88" stroke-width="0.85"/>
<circle cx="71.86" cy="318.32" r="1.6" fill="none" stroke="#168a88" stroke-width="0.85"/>
<circle cx="72.73" cy="314.12" r="1.6" fill="none" stroke="#168a88" stroke-width="0.85"/>
<circle cx="72.57" cy="313.91" r="1.6" fill="none" stroke="#168a88" stroke-width="0.85"/>
<circle cx="74.25" cy="317.73" r="1.6" fill="none" stroke="#168a88" stroke-width="0.85"/>
<circle cx="74.24" cy="318.37" r="1.6" fill="none" stroke="#168a88" stroke-width="0.85"/>
<circle cx="76.05" cy="319.26" r="1.6" fill="none" stroke="#168a88" stroke-width="0.85"/>
<circle cx="75.41" cy="311.6" r="1.6" fill="none" stroke="#168a88" stroke-width="0.85"/>
<circle cx="77.02" cy="318.88" r="1.6" fill="none" stroke="#168a88" stroke-width="0.85"/>
<circle cx="76.95" cy="319.44" r="1.6" fill="none" stroke="#168a88" stroke-width="0.85"/>
<circle cx="78.53" cy="312.18" r="1.6" fill="none" stroke="#168a88" stroke-width="0.85"/>
<circle cx="78.17" cy="317.83" r="1.6" fill="none" stroke="#168a88" stroke-width="0.85"/>
<circle cx="79.58" cy="312.3" r="1.6" fill="none" stroke="#168a88" stroke-width="0.85"/>
<circle cx="80.01" cy="319.31" r="1.6" fill="none" stroke="#168a88" stroke-width="0.85"/>
<circle cx="80.85" cy="312.54" r="1.6" fill="none" stroke="#168a88" stroke-width="0.85"/>
<circle cx="80.66" cy="312.41" r="1.6" fill="none" stroke="#168a88" stroke-width="0.85"/>
<circle cx="82.13" cy="317.98" r="1.6" fill="none" stroke="#168a88" stroke-width="0.85"/>
<circle cx="82.4" cy="316.07" r="1.6" fill="none" stroke="#168a88" stroke-width="0.85"/>
<circle cx="84.03" cy="313.13" r="1.6" fill="none" stroke="#168a88" stroke-width="0.85"/>
<circle cx="83.94" cy="312.65" r="1.6" fill="none" stroke="#168a88" stroke-width="0.85"/>
<circle cx="85.07" cy="312.53" r="1.6" fill="none" stroke="#168a88" stroke-width="0.85"/>
<circle cx="84.92" cy="313.3" r="1.6" fill="none" stroke="#168a88" stroke-width="0.85"/>
<circle cx="86.8" cy="319.37" r="1.6" fill="none" stroke="#168a88" stroke-width="0.85"/>
<circle cx="86.88" cy="314.03" r="1.6" fill="none" stroke="#168a88" stroke-width="0.85"/>
<circle cx="87.74" cy="313.29" r="1.6" fill="none" stroke="#168a88" stroke-width="0.85"/>
<circle cx="87.99" cy="318.44" r="1.6" fill="none" stroke="#168a88" stroke-width="0.85"/>
<circle cx="89.69" cy="312.4" r="1.6" fill="none" stroke="#168a88" stroke-width="0.85"/>
<circle cx="88.96" cy="313.31" r="1.6" fill="none" stroke="#168a88" stroke-width="0.85"/>
<circle cx="90.38" cy="317.78" r="1.6" fill="none" stroke="#168a88" stroke-width="0.85"/>
<circle cx="90.12" cy="313.97" r="1.6" fill="none" stroke="#168a88" stroke-width="0.85"/>
<circle cx="91.98" cy="312.32" r="1.6" fill="none" stroke="#168a88" stroke-width="0.85"/>
<circle cx="92" cy="313.54" r="1.6" fill="none" stroke="#168a88" stroke-width="0.85"/>
<circle cx="93.2" cy="314.57" r="1.6" fill="none" stroke="#168a88" stroke-width="0.85"/>
<circle cx="93.23" cy="319.27" r="1.6" fill="none" stroke="#168a88" stroke-width="0.85"/>
<circle cx="94.97" cy="316.2" r="1.6" fill="none" stroke="#168a88" stroke-width="0.85"/>
<circle cx="94.25" cy="313.06" r="1.6" fill="none" stroke="#168a88" stroke-width="0.85"/>
<circle cx="96.27" cy="318.87" r="1.6" fill="none" stroke="#168a88" stroke-width="0.85"/>
<circle cx="95.64" cy="313.6" r="1.6" fill="none" stroke="#168a88" stroke-width="0.85"/>
<circle cx="97.74" cy="317.52" r="1.6" fill="none" stroke="#168a88" stroke-width="0.85"/>
<circle cx="97.75" cy="313.17" r="1.6" fill="none" stroke="#168a88" stroke-width="0.85"/>
<circle cx="98.75" cy="318.66" r="1.6" fill="none" stroke="#168a88" stroke-width="0.85"/>
<circle cx="98.25" cy="314.97" r="1.6" fill="none" stroke="#168a88" stroke-width="0.85"/>
<circle cx="100.46" cy="311.91" r="1.6" fill="none" stroke="#168a88" stroke-width="0.85"/>
<circle cx="100.2" cy="313.51" r="1.6" fill="none" stroke="#168a88" stroke-width="0.85"/>
<circle cx="101.67" cy="313.66" r="1.6" fill="none" stroke="#168a88" stroke-width="0.85"/>
<circle cx="101.14" cy="316.37" r="1.6" fill="none" stroke="#168a88" stroke-width="0.85"/>
<circle cx="102.92" cy="313" r="1.6" fill="none" stroke="#168a88" stroke-width="0.85"/>
<circle cx="102.43" cy="312.15" r="1.6" fill="none" stroke="#168a88" stroke-width="0.85"/>
<circle cx="104.4" cy="316.07" r="1.6" fill="none" stroke="#168a88" stroke-width="0.85"/>
<circle cx="103.83" cy="316.51" r="1.6" fill="none" stroke="#168a88" stroke-width="0.85"/>
<circle cx="105.1" cy="318.94" r="1.6" fill="none" stroke="#168a88" stroke-width="0.85"/>
<circle cx="105.17" cy="311.73" r="1.6" fill="none" stroke="#168a88" stroke-width="0.85"/>
<circle cx="106.31" cy="315.17" r="1.6" fill="none" stroke="#168a88" stroke-width="0.85"/>
<circle cx="106.62" cy="313.01" r="1.6" fill="none" stroke="#168a88" stroke-width="0.85"/>
<circle cx="107.73" cy="316.18" r="1.6" fill="none" stroke="#168a88" stroke-width="0.85"/>
<circle cx="108.49" cy="314.5" r="1.6" fill="none" stroke="#168a88" stroke-width="0.85"/>
<circle cx="109.61" cy="319.44" r="1.6" fill="none" stroke="#168a88" stroke-width="0.85"/>
<circle cx="109.53" cy="317.13" r="1.6" fill="none" stroke="#168a88" stroke-width="0.85"/>
<circle cx="110.34" cy="312.72" r="1.6" fill="none" stroke="#168a88" stroke-width="0.85"/>
<circle cx="111.21" cy="311.74" r="1.6" fill="none" stroke="#168a88" stroke-width="0.85"/>
<circle cx="112.61" cy="317.21" r="1.6" fill="none" stroke="#168a88" stroke-width="0.85"/>
<circle cx="112.29" cy="311.77" r="1.6" fill="none" stroke="#168a88" stroke-width="0.85"/>
<circle cx="113.73" cy="315.46" r="1.6" fill="none" stroke="#168a88" stroke-width="0.85"/>
<circle cx="114" cy="314.15" r="1.6" fill="none" stroke="#168a88" stroke-width="0.85"/>
<circle cx="114.9" cy="312.2" r="1.6" fill="none" stroke="#168a88" stroke-width="0.85"/>
<circle cx="115.25" cy="317.5" r="1.6" fill="none" stroke="#168a88" stroke-width="0.85"/>
<circle cx="116.4" cy="317.5" r="1.6" fill="none" stroke="#168a88" stroke-width="0.85"/>
<circle cx="116.62" cy="317.95" r="1.6" fill="none" stroke="#168a88" stroke-width="0.85"/>
<circle cx="117.74" cy="314.41" r="1.6" fill="none" stroke="#168a88" stroke-width="0.85"/>
<circle cx="117.92" cy="318.81" r="1.6" fill="none" stroke="#168a88" stroke-width="0.85"/>
<circle cx="119.19" cy="314.94" r="1.6" fill="none" stroke="#168a88" stroke-width="0.85"/>
<circle cx="118.97" cy="318.51" r="1.6" fill="none" stroke="#168a88" stroke-width="0.85"/>
<circle cx="120.13" cy="316.6" r="1.6" fill="none" stroke="#168a88" stroke-width="0.85"/>
<circle cx="120.36" cy="316.26" r="1.6" fill="none" stroke="#168a88" stroke-width="0.85"/>
<circle cx="121.74" cy="312.24" r="1.6" fill="none" stroke="#168a88" stroke-width="0.85"/>
<circle cx="121.98" cy="319.55" r="1.6" fill="none" stroke="#168a88" stroke-width="0.85"/>
<circle cx="122.84" cy="317.43" r="1.6" fill="none" stroke="#168a88" stroke-width="0.85"/>
<circle cx="123.03" cy="317.48" r="1.6" fill="none" stroke="#168a88" stroke-width="0.85"/>
<circle cx="124.64" cy="315.12" r="1.6" fill="none" stroke="#168a88" stroke-width="0.85"/>
<circle cx="124.55" cy="312.27" r="1.6" fill="none" stroke="#168a88" stroke-width="0.85"/>
<circle cx="125.75" cy="311.84" r="1.6" fill="none" stroke="#168a88" stroke-width="0.85"/>
<circle cx="125.38" cy="315.45" r="1.6" fill="none" stroke="#168a88" stroke-width="0.85"/>
<circle cx="127" cy="317.19" r="1.6" fill="none" stroke="#168a88" stroke-width="0.85"/>
<circle cx="127.42" cy="316.52" r="1.6" fill="none" stroke="#168a88" stroke-width="0.85"/>
<circle cx="127.86" cy="313.65" r="1.6" fill="none" stroke="#168a88" stroke-width="0.85"/>
<circle cx="128.53" cy="314.01" r="1.6" fill="none" stroke="#168a88" stroke-width="0.85"/>
<circle cx="129.37" cy="313.22" r="1.6" fill="none" stroke="#168a88" stroke-width="0.85"/>
<circle cx="129.86" cy="318.85" r="1.6" fill="none" stroke="#168a88" stroke-width="0.85"/>
<circle cx="131.44" cy="315.14" r="1.6" fill="none" stroke="#168a88" stroke-width="0.85"/>
<circle cx="131.22" cy="314.22" r="1.6" fill="none" stroke="#168a88" stroke-width="0.85"/>
<circle cx="132.33" cy="313.19" r="1.6" fill="none" stroke="#168a88" stroke-width="0.85"/>
<circle cx="132.81" cy="318.05" r="1.6" fill="none" stroke="#168a88" stroke-width="0.85"/>
<circle cx="133.63" cy="318.64" r="1.6" fill="none" stroke="#168a88" stroke-width="0.85"/>
<circle cx="133.57" cy="316.26" r="1.6" fill="none" stroke="#168a88" stroke-width="0.85"/>
<circle cx="135.1" cy="312.69" r="1.6" fill="none" stroke="#168a88" stroke-width="0.85"/>
<circle cx="135.45" cy="318.3" r="1.6" fill="none" stroke="#168a88" stroke-width="0.85"/>
<circle cx="136.9" cy="317.29" r="1.6" fill="none" stroke="#168a88" stroke-width="0.85"/>
<circle cx="136.12" cy="313.81" r="1.6" fill="none" stroke="#168a88" stroke-width="0.85"/>
<circle cx="137.58" cy="315.21" r="1.6" fill="none" stroke="#168a88" stroke-width="0.85"/>
<circle cx="137.71" cy="313.31" r="1.6" fill="none" stroke="#168a88" stroke-width="0.85"/>
<circle cx="139.14" cy="316.61" r="1.6" fill="none" stroke="#168a88" stroke-width="0.85"/>
<circle cx="139.49" cy="314.12" r="1.6" fill="none" stroke="#168a88" stroke-width="0.85"/>
<circle cx="140.45" cy="319.46" r="1.6" fill="none" stroke="#168a88" stroke-width="0.85"/>
<circle cx="140.03" cy="312.2" r="1.6" fill="none" stroke="#168a88" stroke-width="0.85"/>
<circle cx="141.39" cy="318.58" r="1.6" fill="none" stroke="#168a88" stroke-width="0.85"/>
<circle cx="141.92" cy="317.27" r="1.6" fill="none" stroke="#168a88" stroke-width="0.85"/>
<circle cx="143.49" cy="314.07" r="1.6" fill="none" stroke="#168a88" stroke-width="0.85"/>
<circle cx="142.84" cy="311.75" r="1.6" fill="none" stroke="#168a88" stroke-width="0.85"/>
<circle cx="144.07" cy="315.24" r="1.6" fill="none" stroke="#168a88" stroke-width="0.85"/>
<circle cx="144.29" cy="318.24" r="1.6" fill="none" stroke="#168a88" stroke-width="0.85"/>
<circle cx="145.45" cy="312.73" r="1.6" fill="none" stroke="#168a88" stroke-width="0.85"/>
<circle cx="145.85" cy="316.63" r="1.6" fill="none" stroke="#168a88" stroke-width="0.85"/>
<circle cx="147.41" cy="316.64" r="1.6" fill="none" stroke="#168a88" stroke-width="0.85"/>
<circle cx="147.71" cy="318.06" r="1.6" fill="none" stroke="#168a88" stroke-width="0.85"/>
<circle cx="148.3" cy="317.08" r="1.6" fill="none" stroke="#168a88" stroke-width="0.85"/>
<circle cx="148.28" cy="315.4" r="1.6" fill="none" stroke="#168a88" stroke-width="0.85"/>
<circle cx="149.92" cy="311.69" r="1.6" fill="none" stroke="#168a88" stroke-width="0.85"/>
<circle cx="149.63" cy="317.31" r="1.6" fill="none" stroke="#168a88" stroke-width="0.85"/>
<circle cx="151.15" cy="313.78" r="1.6" fill="none" stroke="#168a88" stroke-width="0.85"/>
<circle cx="151.32" cy="317.18" r="1.6" fill="none" stroke="#168a88" stroke-width="0.85"/>
<circle cx="152.91" cy="316.52" r="1.6" fill="none" stroke="#168a88" stroke-width="0.85"/>
<circle cx="152.94" cy="314.75" r="1.6" fill="none" stroke="#168a88" stroke-width="0.85"/>
<circle cx="153.59" cy="318.85" r="1.6" fill="none" stroke="#168a88" stroke-width="0.85"/>
<circle cx="154.22" cy="319.06" r="1.6" fill="none" stroke="#168a88" stroke-width="0.85"/>
<circle cx="155.3" cy="312.64" r="1.6" fill="none" stroke="#168a88" stroke-width="0.85"/>
<circle cx="155.76" cy="316.6" r="1.6" fill="none" stroke="#168a88" stroke-width="0.85"/>
<circle cx="156.77" cy="314.61" r="1.6" fill="none" stroke="#168a88" stroke-width="0.85"/>
<circle cx="157" cy="318.63" r="1.6" fill="none" stroke="#168a88" stroke-width="0.85"/>
<circle cx="158.01" cy="319.15" r="1.6" fill="none" stroke="#168a88" stroke-width="0.85"/>
<circle cx="157.75" cy="316.81" r="1.6" fill="none" stroke="#168a88" stroke-width="0.85"/>
<circle cx="159.72" cy="317.38" r="1.6" fill="none" stroke="#168a88" stroke-width="0.85"/>
<circle cx="159.62" cy="316.73" r="1.6" fill="none" stroke="#168a88" stroke-width="0.85"/>
<circle cx="161.15" cy="313.31" r="1.6" fill="none" stroke="#168a88" stroke-width="0.85"/>
<circle cx="161.23" cy="319.44" r="1.6" fill="none" stroke="#168a88" stroke-width="0.85"/>
<circle cx="162.39" cy="315.9" r="1.6" fill="none" stroke="#168a88" stroke-width="0.85"/>
<circle cx="162.51" cy="314.16" r="1.6" fill="none" stroke="#168a88" stroke-width="0.85"/>
<circle cx="163.3" cy="318.45" r="1.6" fill="none" stroke="#168a88" stroke-width="0.85"/>
<circle cx="163.39" cy="312.26" r="1.6" fill="none" stroke="#168a88" stroke-width="0.85"/>
<circle cx="165.07" cy="316" r="1.6" fill="none" stroke="#168a88" stroke-width="0.85"/>
<circle cx="164.33" cy="315.5" r="1.6" fill="none" stroke="#168a88" stroke-width="0.85"/>
<circle cx="165.71" cy="318.07" r="1.6" fill="none" stroke="#168a88" stroke-width="0.85"/>
<circle cx="165.82" cy="318" r="1.6" fill="none" stroke="#168a88" stroke-width="0.85"/>
<circle cx="167.79" cy="314.28" r="1.6" fill="none" stroke="#168a88" stroke-width="0.85"/>
<circle cx="167.15" cy="312.72" r="1.6" fill="none" stroke="#168a88" stroke-width="0.85"/>
<circle cx="169.07" cy="315.73" r="1.6" fill="none" stroke="#168a88" stroke-width="0.85"/>
<circle cx="169.04" cy="318.32" r="1.6" fill="none" stroke="#168a88" stroke-width="0.85"/>
<circle cx="170.19" cy="319.17" r="1.6" fill="none" stroke="#168a88" stroke-width="0.85"/>
<circle cx="169.79" cy="319.19" r="1.6" fill="none" stroke="#168a88" stroke-width="0.85"/>
<circle cx="171.58" cy="313.37" r="1.6" fill="none" stroke="#168a88" stroke-width="0.85"/>
<circle cx="171.78" cy="313.92" r="1.6" fill="none" stroke="#168a88" stroke-width="0.85"/>
<circle cx="172.92" cy="316.71" r="1.6" fill="none" stroke="#168a88" stroke-width="0.85"/>
<circle cx="172.96" cy="318.35" r="1.6" fill="none" stroke="#168a88" stroke-width="0.85"/>
<circle cx="174.13" cy="314.09" r="1.6" fill="none" stroke="#168a88" stroke-width="0.85"/>
<circle cx="174.65" cy="318.36" r="1.6" fill="none" stroke="#168a88" stroke-width="0.85"/>
<circle cx="175.95" cy="313.27" r="1.6" fill="none" stroke="#168a88" stroke-width="0.85"/>
<circle cx="175.62" cy="319.35" r="1.6" fill="none" stroke="#168a88" stroke-width="0.85"/>
<circle cx="176.65" cy="316.18" r="1.6" fill="none" stroke="#168a88" stroke-width="0.85"/>
<circle cx="176.95" cy="315.89" r="1.6" fill="none" stroke="#168a88" stroke-width="0.85"/>
<circle cx="177.83" cy="316.44" r="1.6" fill="none" stroke="#168a88" stroke-width="0.85"/>
<circle cx="178.32" cy="319.36" r="1.6" fill="none" stroke="#168a88" stroke-width="0.85"/>
<circle cx="179.95" cy="314.8" r="1.6" fill="none" stroke="#168a88" stroke-width="0.85"/>
<circle cx="179.64" cy="316.1" r="1.6" fill="none" stroke="#168a88" stroke-width="0.85"/>
<circle cx="180.57" cy="317.13" r="1.6" fill="none" stroke="#168a88" stroke-width="0.85"/>
<circle cx="180.91" cy="315.91" r="1.6" fill="none" stroke="#168a88" stroke-width="0.85"/>
<circle cx="182.77" cy="319.25" r="1.6" fill="none" stroke="#168a88" stroke-width="0.85"/>
<circle cx="182.32" cy="313.75" r="1.6" fill="none" stroke="#168a88" stroke-width="0.85"/>
<circle cx="183.63" cy="312.62" r="1.6" fill="none" stroke="#168a88" stroke-width="0.85"/>
<circle cx="184.1" cy="318.13" r="1.6" fill="none" stroke="#168a88" stroke-width="0.85"/>
<circle cx="184.87" cy="315.41" r="1.6" fill="none" stroke="#168a88" stroke-width="0.85"/>
<circle cx="185.17" cy="313.13" r="1.6" fill="none" stroke="#168a88" stroke-width="0.85"/>
<circle cx="186.03" cy="319" r="1.6" fill="none" stroke="#168a88" stroke-width="0.85"/>
<circle cx="185.92" cy="317.83" r="1.6" fill="none" stroke="#168a88" stroke-width="0.85"/>
<circle cx="187.48" cy="313.15" r="1.6" fill="none" stroke="#168a88" stroke-width="0.85"/>
<circle cx="187.57" cy="317.1" r="1.6" fill="none" stroke="#168a88" stroke-width="0.85"/>
<circle cx="189.22" cy="314.44" r="1.6" fill="none" stroke="#168a88" stroke-width="0.85"/>
<circle cx="189.33" cy="312.44" r="1.6" fill="none" stroke="#168a88" stroke-width="0.85"/>
<circle cx="190.46" cy="312.58" r="1.6" fill="none" stroke="#168a88" stroke-width="0.85"/>
<circle cx="190.15" cy="313.6" r="1.6" fill="none" stroke="#168a88" stroke-width="0.85"/>
<circle cx="191.74" cy="315.84" r="1.6" fill="none" stroke="#168a88" stroke-width="0.85"/>
<circle cx="191.71" cy="314.61" r="1.6" fill="none" stroke="#168a88" stroke-width="0.85"/>
<circle cx="192.81" cy="315.83" r="1.6" fill="none" stroke="#168a88" stroke-width="0.85"/>
<circle cx="193.28" cy="313.23" r="1.6" fill="none" stroke="#168a88" stroke-width="0.85"/>
<circle cx="194.53" cy="316.71" r="1.6" fill="none" stroke="#168a88" stroke-width="0.85"/>
<circle cx="194.61" cy="318.41" r="1.6" fill="none" stroke="#168a88" stroke-width="0.85"/>
<circle cx="195.58" cy="318.45" r="1.6" fill="none" stroke="#168a88" stroke-width="0.85"/>
<circle cx="196.16" cy="317.53" r="1.6" fill="none" stroke="#168a88" stroke-width="0.85"/>
<circle cx="197.02" cy="318.82" r="1.6" fill="none" stroke="#168a88" stroke-width="0.85"/>
<circle cx="197.62" cy="314.12" r="1.6" fill="none" stroke="#168a88" stroke-width="0.85"/>
<circle cx="199.05" cy="313.35" r="1.6" fill="none" stroke="#168a88" stroke-width="0.85"/>
<circle cx="198.18" cy="318.7" r="1.6" fill="none" stroke="#168a88" stroke-width="0.85"/>
<circle cx="200.13" cy="311.8" r="1.6" fill="none" stroke="#168a88" stroke-width="0.85"/>
<circle cx="199.5" cy="311.97" r="1.6" fill="none" stroke="#168a88" stroke-width="0.85"/>
<circle cx="201.17" cy="315.33" r="1.6" fill="none" stroke="#168a88" stroke-width="0.85"/>
<circle cx="200.88" cy="314.99" r="1.6" fill="none" stroke="#168a88" stroke-width="0.85"/>
<circle cx="202.79" cy="310.68" r="1.6" fill="none" stroke="#168a88" stroke-width="0.85"/>
<circle cx="202.3" cy="307.6" r="1.6" fill="none" stroke="#168a88" stroke-width="0.85"/>
<circle cx="204.36" cy="311.7" r="1.6" fill="none" stroke="#168a88" stroke-width="0.85"/>
<circle cx="203.57" cy="313.99" r="1.6" fill="none" stroke="#168a88" stroke-width="0.85"/>
<circle cx="205.56" cy="309.08" r="1.6" fill="none" stroke="#168a88" stroke-width="0.85"/>
<circle cx="205.49" cy="309.05" r="1.6" fill="none" stroke="#168a88" stroke-width="0.85"/>
<circle cx="206.22" cy="305.33" r="1.6" fill="none" stroke="#168a88" stroke-width="0.85"/>
<circle cx="206.19" cy="304.66" r="1.6" fill="none" stroke="#168a88" stroke-width="0.85"/>
<circle cx="208.01" cy="307.01" r="1.6" fill="none" stroke="#168a88" stroke-width="0.85"/>
<circle cx="207.65" cy="307.15" r="1.6" fill="none" stroke="#168a88" stroke-width="0.85"/>
<circle cx="209.05" cy="304.08" r="1.6" fill="none" stroke="#168a88" stroke-width="0.85"/>
<circle cx="209.84" cy="309.32" r="1.6" fill="none" stroke="#168a88" stroke-width="0.85"/>
<circle cx="210.3" cy="310.02" r="1.6" fill="none" stroke="#168a88" stroke-width="0.85"/>
<circle cx="211.15" cy="303.1" r="1.6" fill="none" stroke="#168a88" stroke-width="0.85"/>
<circle cx="212.31" cy="306.3" r="1.6" fill="none" stroke="#168a88" stroke-width="0.85"/>
<circle cx="212.02" cy="305.21" r="1.6" fill="none" stroke="#168a88" stroke-width="0.85"/>
<circle cx="213.33" cy="306.72" r="1.6" fill="none" stroke="#168a88" stroke-width="0.85"/>
<circle cx="212.91" cy="307.41" r="1.6" fill="none" stroke="#168a88" stroke-width="0.85"/>
<circle cx="215.09" cy="308.21" r="1.6" fill="none" stroke="#168a88" stroke-width="0.85"/>
<circle cx="214.7" cy="304.05" r="1.6" fill="none" stroke="#168a88" stroke-width="0.85"/>
<circle cx="216.01" cy="308.51" r="1.6" fill="none" stroke="#168a88" stroke-width="0.85"/>
<circle cx="215.77" cy="304.16" r="1.6" fill="none" stroke="#168a88" stroke-width="0.85"/>
<circle cx="216.97" cy="306.7" r="1.6" fill="none" stroke="#168a88" stroke-width="0.85"/>
<circle cx="217.75" cy="309.75" r="1.6" fill="none" stroke="#168a88" stroke-width="0.85"/>
<circle cx="219.16" cy="308.24" r="1.6" fill="none" stroke="#168a88" stroke-width="0.85"/>
<circle cx="218.7" cy="307.64" r="1.6" fill="none" stroke="#168a88" stroke-width="0.85"/>
<circle cx="220.15" cy="307.4" r="1.6" fill="none" stroke="#168a88" stroke-width="0.85"/>
<circle cx="220.45" cy="310.46" r="1.6" fill="none" stroke="#168a88" stroke-width="0.85"/>
<circle cx="221.91" cy="304.67" r="1.6" fill="none" stroke="#168a88" stroke-width="0.85"/>
<circle cx="221.78" cy="308.56" r="1.6" fill="none" stroke="#168a88" stroke-width="0.85"/>
<circle cx="222.76" cy="311.62" r="1.6" fill="none" stroke="#168a88" stroke-width="0.85"/>
<circle cx="223.23" cy="312.27" r="1.6" fill="none" stroke="#168a88" stroke-width="0.85"/>
<circle cx="224.47" cy="310.66" r="1.6" fill="none" stroke="#168a88" stroke-width="0.85"/>
<circle cx="224.11" cy="311.22" r="1.6" fill="none" stroke="#168a88" stroke-width="0.85"/>
<circle cx="225.12" cy="310.88" r="1.6" fill="none" stroke="#168a88" stroke-width="0.85"/>
<circle cx="225.52" cy="307.83" r="1.6" fill="none" stroke="#168a88" stroke-width="0.85"/>
<circle cx="226.76" cy="305.18" r="1.6" fill="none" stroke="#168a88" stroke-width="0.85"/>
<circle cx="227.02" cy="310.21" r="1.6" fill="none" stroke="#168a88" stroke-width="0.85"/>
<circle cx="228.69" cy="304.46" r="1.6" fill="none" stroke="#168a88" stroke-width="0.85"/>
<circle cx="228.09" cy="307.93" r="1.6" fill="none" stroke="#168a88" stroke-width="0.85"/>
<circle cx="229.67" cy="307.88" r="1.6" fill="none" stroke="#168a88" stroke-width="0.85"/>
<circle cx="229.49" cy="306.86" r="1.6" fill="none" stroke="#168a88" stroke-width="0.85"/>
<circle cx="231.09" cy="310.6" r="1.6" fill="none" stroke="#168a88" stroke-width="0.85"/>
<circle cx="231.21" cy="308.21" r="1.6" fill="none" stroke="#168a88" stroke-width="0.85"/>
<circle cx="231.82" cy="310.44" r="1.6" fill="none" stroke="#168a88" stroke-width="0.85"/>
<circle cx="232.54" cy="307.52" r="1.6" fill="none" stroke="#168a88" stroke-width="0.85"/>
<circle cx="233.55" cy="304.65" r="1.6" fill="none" stroke="#168a88" stroke-width="0.85"/>
<circle cx="233.35" cy="303" r="1.6" fill="none" stroke="#168a88" stroke-width="0.85"/>
<circle cx="234.6" cy="305.61" r="1.6" fill="none" stroke="#168a88" stroke-width="0.85"/>
<circle cx="235.41" cy="304.61" r="1.6" fill="none" stroke="#168a88" stroke-width="0.85"/>
<circle cx="238.6" cy="208.7" r="1.6" fill="none" stroke="#168a88" stroke-width="0.85"/>
<circle cx="238.6" cy="247.9" r="1.6" fill="none" stroke="#168a88" stroke-width="0.85"/>
<circle cx="238.6" cy="263.6" r="1.6" fill="none" stroke="#168a88" stroke-width="0.85"/>
<circle cx="238.6" cy="277.3" r="1.6" fill="none" stroke="#168a88" stroke-width="0.85"/>
<circle cx="238.6" cy="281.2" r="1.6" fill="none" stroke="#168a88" stroke-width="0.85"/>
<circle cx="238.6" cy="285" r="1.6" fill="none" stroke="#168a88" stroke-width="0.85"/>
<circle cx="238.6" cy="290.3" r="1.6" fill="none" stroke="#168a88" stroke-width="0.85"/>
<polyline points="59.6,217.2 77,217.2 77,249 95.4,249 95.4,280.6 130.6,280.6 130.6,286.8 165.6,286.8 165.6,293 200.6,293 200.6,296.3 236,296.3 236,305.9 239.5,305.9" fill="none" stroke="#2222f0" stroke-width="1.5" stroke-linejoin="round" stroke-linecap="round" stroke-linecap="butt" stroke-linejoin="miter"/>
<text x="56" y="213.6" font-size="9.9" text-anchor="start" fill="#2222f0" font-weight="normal" >0.500 V</text>
<text x="80.3" y="246" font-size="9.9" text-anchor="start" fill="#2222f0" font-weight="normal" >0.450 V</text>
<text x="96.8" y="277.8" font-size="9.9" text-anchor="start" fill="#2222f0" font-weight="normal" >0.400 V</text>
<text x="131.3" y="285" font-size="9.9" text-anchor="start" fill="#2222f0" font-weight="normal" >0.390 V</text>
<text x="167.7" y="290.8" font-size="9.9" text-anchor="start" fill="#2222f0" font-weight="normal" >0.380 V</text>
<text x="209.8" y="294" font-size="9.9" text-anchor="start" fill="#168a88" font-weight="normal" >0.375 V</text>
<text x="240" y="307.2" font-size="9.9" text-anchor="start" fill="#168a88" font-weight="normal" >0.360V</text>
<line x1="186" y1="297.2" x2="193" y2="304" stroke="#168a88" stroke-width="1.2" />
<path d="M195.9,306.9 L190.8,305.3 L193.8,302.3 Z" fill="#168a88"/>
<rect x="120.2" y="227.7" width="26.2" height="26.1" fill="url(#gold)"/>
<rect x="203.3" y="225.4" width="31" height="31" fill="url(#grey2)"/>
<rect x="205.72" y="227.82" width="26.16" height="26.16" fill="url(#gold2)"/>
<text x="344.5" y="197.5" font-size="14" text-anchor="start" fill="#111" font-weight="bold" >g</text>
<rect x="382.2" y="197" width="121.3" height="134.1" fill="none" stroke="#3a3a3a" stroke-width="1.35"/>
<line x1="382.2" y1="197" x2="382.2" y2="331.1" stroke="#626262" stroke-width="1.35" />
<line x1="503.5" y1="196.4" x2="503.5" y2="331.7" stroke="#1a1a1a" stroke-width="1.45" />
<line x1="382.2" y1="197.1" x2="385.2" y2="197.1" stroke="#666" stroke-width="1.35" />
<text x="377.6" y="200.7" font-size="10" text-anchor="end" fill="#1c1c1c" font-weight="normal" >0.6</text>
<line x1="382.2" y1="219.4" x2="385.2" y2="219.4" stroke="#666" stroke-width="1.35" />
<text x="377.6" y="223" font-size="10" text-anchor="end" fill="#1c1c1c" font-weight="normal" >0.4</text>
<line x1="382.2" y1="241.7" x2="385.2" y2="241.7" stroke="#666" stroke-width="1.35" />
<text x="377.6" y="245.3" font-size="10" text-anchor="end" fill="#1c1c1c" font-weight="normal" >0.2</text>
<line x1="382.2" y1="264" x2="385.2" y2="264" stroke="#666" stroke-width="1.35" />
<text x="377.6" y="267.6" font-size="10" text-anchor="end" fill="#1c1c1c" font-weight="normal" >0.0</text>
<line x1="382.2" y1="286.3" x2="385.2" y2="286.3" stroke="#666" stroke-width="1.35" />
<text x="377.6" y="289.9" font-size="10" text-anchor="end" fill="#1c1c1c" font-weight="normal" >−0.2</text>
<line x1="382.2" y1="308.6" x2="385.2" y2="308.6" stroke="#666" stroke-width="1.35" />
<text x="377.6" y="312.2" font-size="10" text-anchor="end" fill="#1c1c1c" font-weight="normal" >−0.4</text>
<line x1="382.2" y1="330.9" x2="385.2" y2="330.9" stroke="#666" stroke-width="1.35" />
<text x="377.6" y="334.5" font-size="10" text-anchor="end" fill="#1c1c1c" font-weight="normal" >−0.6</text>
<g clip-path="url(#clipG)">
<line x1="382.8" y1="331.1" x2="382.8" y2="328.1" stroke="#666" stroke-width="1.35" />
<text x="382.8" y="343" font-size="10" text-anchor="middle" fill="#1c1c1c" font-weight="normal" >0.35</text>
<line x1="422.8" y1="331.1" x2="422.8" y2="328.1" stroke="#666" stroke-width="1.35" />
<text x="422.8" y="343" font-size="10" text-anchor="middle" fill="#1c1c1c" font-weight="normal" >0.40</text>
<line x1="462.8" y1="331.1" x2="462.8" y2="328.1" stroke="#666" stroke-width="1.35" />
<text x="462.8" y="343" font-size="10" text-anchor="middle" fill="#1c1c1c" font-weight="normal" >0.45</text>
<line x1="502.8" y1="331.1" x2="502.8" y2="328.1" stroke="#666" stroke-width="1.35" />
<text x="502.8" y="343" font-size="10" text-anchor="middle" fill="#1c1c1c" font-weight="normal" >0.50</text>
<line x1="402.8" y1="331.1" x2="402.8" y2="329.1" stroke="#666" stroke-width="1.35" />
<line x1="442.8" y1="331.1" x2="442.8" y2="329.1" stroke="#666" stroke-width="1.35" />
<line x1="482.8" y1="331.1" x2="482.8" y2="329.1" stroke="#666" stroke-width="1.35" />
</g>
<text x="352.7" y="265" font-size="9.8" text-anchor="middle" fill="#1c1c1c" transform="rotate(-90 352.7 265)">Current (a.u.)</text>
<text x="443" y="356.5" font-size="9.8" text-anchor="middle" fill="#1c1c1c"><tspan font-style="italic">E</tspan> (V) vs. SCE</text>
<path d="M503,261.3 C495.42,261.08 467.37,260.57 457.5,260 C447.63,259.43 447.7,259.17 443.8,257.9 C439.9,256.63 436.05,254.85 434.1,252.4 C432.15,249.95 432.92,247.15 432.1,243.2 C431.28,239.25 430.23,232.82 429.2,228.7 C428.17,224.58 427.1,219.62 425.9,218.5 C424.7,217.38 423.07,222.22 422,222 C420.93,221.78 420.4,218.65 419.5,217.2 C418.6,215.75 417.88,210.57 416.6,213.3 C415.32,216.03 413.18,226.53 411.8,233.6 C410.42,240.67 409.45,247.65 408.3,255.7 C407.15,263.75 405.9,273.62 404.9,281.9 C403.9,290.18 403.18,298.33 402.3,305.4 C401.42,312.47 399.48,323.87 399.6,324.3 C399.72,324.73 401.9,312.23 403,308 C404.1,303.77 405.02,299.85 406.2,298.9 C407.38,297.95 408.88,302.08 410.1,302.3 C411.32,302.52 411.97,302.3 413.5,300.2 C415.03,298.1 417.03,293.4 419.3,289.7 C421.57,286 424.05,281.05 427.1,278 C430.15,274.95 432.53,273.03 437.6,271.4 C442.67,269.77 446.6,269.18 457.5,268.2 C468.4,267.22 495.42,265.95 503,265.5" fill="none" stroke="#111" stroke-width="1.7" stroke-linejoin="round" stroke-linecap="round" />
<path d="M503,263.7 C495.42,263.42 467.37,262.73 457.5,262 C447.63,261.27 447.7,260.67 443.8,259.3 C439.9,257.93 436.38,255.68 434.1,253.8 C431.82,251.92 431.47,251.05 430.1,248 C428.73,244.95 427.12,240.8 425.9,235.5 C424.68,230.2 423.77,220.7 422.8,216.2 C421.83,211.7 420.87,208.82 420.1,208.5 C419.33,208.18 419.1,212.05 418.2,214.3 C417.3,216.55 415.67,220.88 414.7,222 C413.73,223.12 413.2,221.33 412.4,221 C411.6,220.67 410.8,218.55 409.9,220 C409,221.45 408.15,222.2 407,229.7 C405.85,237.2 404.02,252.38 403,265 C401.98,277.62 401.47,295.82 400.9,305.4 C400.33,314.98 399.37,321.4 399.6,322.5 C399.83,323.6 401.42,314.05 402.3,312 C403.18,309.95 403.9,309.63 404.9,310.2 C405.9,310.77 407.13,315.32 408.3,315.4 C409.47,315.48 410.73,313.88 411.9,310.7 C413.07,307.52 413.63,300.88 415.3,296.3 C416.97,291.72 419.05,286.92 421.9,283.2 C424.75,279.48 429.38,276.05 432.4,274 C435.42,271.95 436.95,272.2 440,270.9 C443.05,269.6 445.48,267.15 450.7,266.2 C455.92,265.25 462.58,265.48 471.3,265.2 C480.02,264.92 497.72,264.62 503,264.5" fill="none" stroke="#17908e" stroke-width="1.7" stroke-linejoin="round" stroke-linecap="round" />
<text x="524.4" y="196.9" font-size="14" text-anchor="start" fill="#111" font-weight="bold" >h</text>
<rect x="555.4" y="197.5" width="121.6" height="133.7" fill="none" stroke="#1e1e1e" stroke-width="1.3"/>
<line x1="555.4" y1="331" x2="558.9" y2="331" stroke="#1e1e1e" stroke-width="1.3" />
<text x="551" y="334.6" font-size="10" text-anchor="end" fill="#1c1c1c" font-weight="normal" >0</text>
<line x1="555.4" y1="310.4" x2="558.9" y2="310.4" stroke="#1e1e1e" stroke-width="1.3" />
<text x="551" y="314" font-size="10" text-anchor="end" fill="#1c1c1c" font-weight="normal" >1</text>
<line x1="555.4" y1="289.8" x2="558.9" y2="289.8" stroke="#1e1e1e" stroke-width="1.3" />
<text x="551" y="293.4" font-size="10" text-anchor="end" fill="#1c1c1c" font-weight="normal" >2</text>
<line x1="555.4" y1="269.2" x2="558.9" y2="269.2" stroke="#1e1e1e" stroke-width="1.3" />
<text x="551" y="272.8" font-size="10" text-anchor="end" fill="#1c1c1c" font-weight="normal" >3</text>
<line x1="555.4" y1="248.6" x2="558.9" y2="248.6" stroke="#1e1e1e" stroke-width="1.3" />
<text x="551" y="252.2" font-size="10" text-anchor="end" fill="#1c1c1c" font-weight="normal" >4</text>
<line x1="555.4" y1="228" x2="558.9" y2="228" stroke="#1e1e1e" stroke-width="1.3" />
<text x="551" y="231.6" font-size="10" text-anchor="end" fill="#1c1c1c" font-weight="normal" >5</text>
<line x1="555.4" y1="207.4" x2="558.9" y2="207.4" stroke="#1e1e1e" stroke-width="1.3" />
<text x="551" y="211" font-size="10" text-anchor="end" fill="#1c1c1c" font-weight="normal" >6</text>
<line x1="555.4" y1="320.7" x2="557" y2="320.7" stroke="#1e1e1e" stroke-width="1.3" />
<line x1="555.4" y1="300.1" x2="557" y2="300.1" stroke="#1e1e1e" stroke-width="1.3" />
<line x1="555.4" y1="279.5" x2="557" y2="279.5" stroke="#1e1e1e" stroke-width="1.3" />
<line x1="555.4" y1="258.9" x2="557" y2="258.9" stroke="#1e1e1e" stroke-width="1.3" />
<line x1="555.4" y1="238.3" x2="557" y2="238.3" stroke="#1e1e1e" stroke-width="1.3" />
<line x1="555.4" y1="217.7" x2="557" y2="217.7" stroke="#1e1e1e" stroke-width="1.3" />
<line x1="555.5" y1="331.2" x2="555.5" y2="328" stroke="#1e1e1e" stroke-width="1.3" />
<text x="555.5" y="342.8" font-size="10" text-anchor="middle" fill="#1c1c1c" font-weight="normal" >0.36</text>
<line x1="579.8" y1="331.2" x2="579.8" y2="328" stroke="#1e1e1e" stroke-width="1.3" />
<text x="579.8" y="342.8" font-size="10" text-anchor="middle" fill="#1c1c1c" font-weight="normal" >0.37</text>
<line x1="604.1" y1="331.2" x2="604.1" y2="328" stroke="#1e1e1e" stroke-width="1.3" />
<text x="604.1" y="342.8" font-size="10" text-anchor="middle" fill="#1c1c1c" font-weight="normal" >0.38</text>
<line x1="628.4" y1="331.2" x2="628.4" y2="328" stroke="#1e1e1e" stroke-width="1.3" />
<text x="628.4" y="342.8" font-size="10" text-anchor="middle" fill="#1c1c1c" font-weight="normal" >0.39</text>
<line x1="652.7" y1="331.2" x2="652.7" y2="328" stroke="#1e1e1e" stroke-width="1.3" />
<text x="652.7" y="342.8" font-size="10" text-anchor="middle" fill="#1c1c1c" font-weight="normal" >0.40</text>
<line x1="677" y1="331.2" x2="677" y2="328" stroke="#1e1e1e" stroke-width="1.3" />
<text x="677" y="342.8" font-size="10" text-anchor="middle" fill="#1c1c1c" font-weight="normal" >0.41</text>
<line x1="567.65" y1="331.2" x2="567.65" y2="329.2" stroke="#1e1e1e" stroke-width="1.3" />
<line x1="591.95" y1="331.2" x2="591.95" y2="329.2" stroke="#1e1e1e" stroke-width="1.3" />
<line x1="616.25" y1="331.2" x2="616.25" y2="329.2" stroke="#1e1e1e" stroke-width="1.3" />
<line x1="640.55" y1="331.2" x2="640.55" y2="329.2" stroke="#1e1e1e" stroke-width="1.3" />
<line x1="664.85" y1="331.2" x2="664.85" y2="329.2" stroke="#1e1e1e" stroke-width="1.3" />
<text x="536.5" y="258.7" font-size="9.8" text-anchor="middle" fill="#1c1c1c" transform="rotate(-90 536.5 258.7)">Frequency</text>
<text x="616" y="356.5" font-size="9.8" text-anchor="middle" fill="#1c1c1c"><tspan font-style="italic">E</tspan> (V) vs. SCE</text>
<rect x="582.23" y="310.4" width="4.86" height="20.6" fill="url(#hatch)" stroke="#1a8c8a" stroke-width="0.9"/>
<rect x="587.09" y="289.8" width="4.86" height="41.2" fill="url(#hatch)" stroke="#1a8c8a" stroke-width="0.9"/>
<rect x="591.95" y="248.6" width="4.86" height="82.4" fill="url(#hatch)" stroke="#1a8c8a" stroke-width="0.9"/>
<rect x="596.81" y="207.4" width="4.86" height="123.6" fill="url(#hatch)" stroke="#1a8c8a" stroke-width="0.9"/>
<rect x="601.67" y="248.6" width="4.86" height="82.4" fill="url(#hatch)" stroke="#1a8c8a" stroke-width="0.9"/>
<rect x="606.53" y="289.8" width="4.86" height="41.2" fill="url(#hatch)" stroke="#1a8c8a" stroke-width="0.9"/>
<rect x="611.39" y="310.4" width="4.86" height="20.6" fill="url(#hatch)" stroke="#1a8c8a" stroke-width="0.9"/>
<polyline points="576.15,330.47 577.37,330.07 578.59,329.44 579.8,328.46 581.01,326.97 582.23,324.79 583.45,321.73 584.66,317.55 585.88,312.07 587.09,305.14 588.31,296.7 589.52,286.84 590.74,275.81 591.95,264.05 593.17,252.15 594.38,240.87 595.6,230.99 596.81,223.27 598.03,218.36 599.24,216.67 600.46,218.36 601.67,223.27 602.88,230.99 604.1,240.87 605.32,252.15 606.53,264.05 607.75,275.81 608.96,286.84 610.18,296.7 611.39,305.14 612.61,312.07 613.82,317.55 615.04,321.73 616.25,324.79 617.47,326.97 618.68,328.46 619.9,329.44 621.11,330.07 622.33,330.47 623.54,330.7 624.76,330.84" fill="none" stroke="#17908e" stroke-width="1.6" stroke-linejoin="round" stroke-linecap="round" />
<text x="611.5" y="213.3" font-size="9.9" text-anchor="start" fill="#168a88" font-weight="normal" >0.378 V</text>
</svg></body></html>
